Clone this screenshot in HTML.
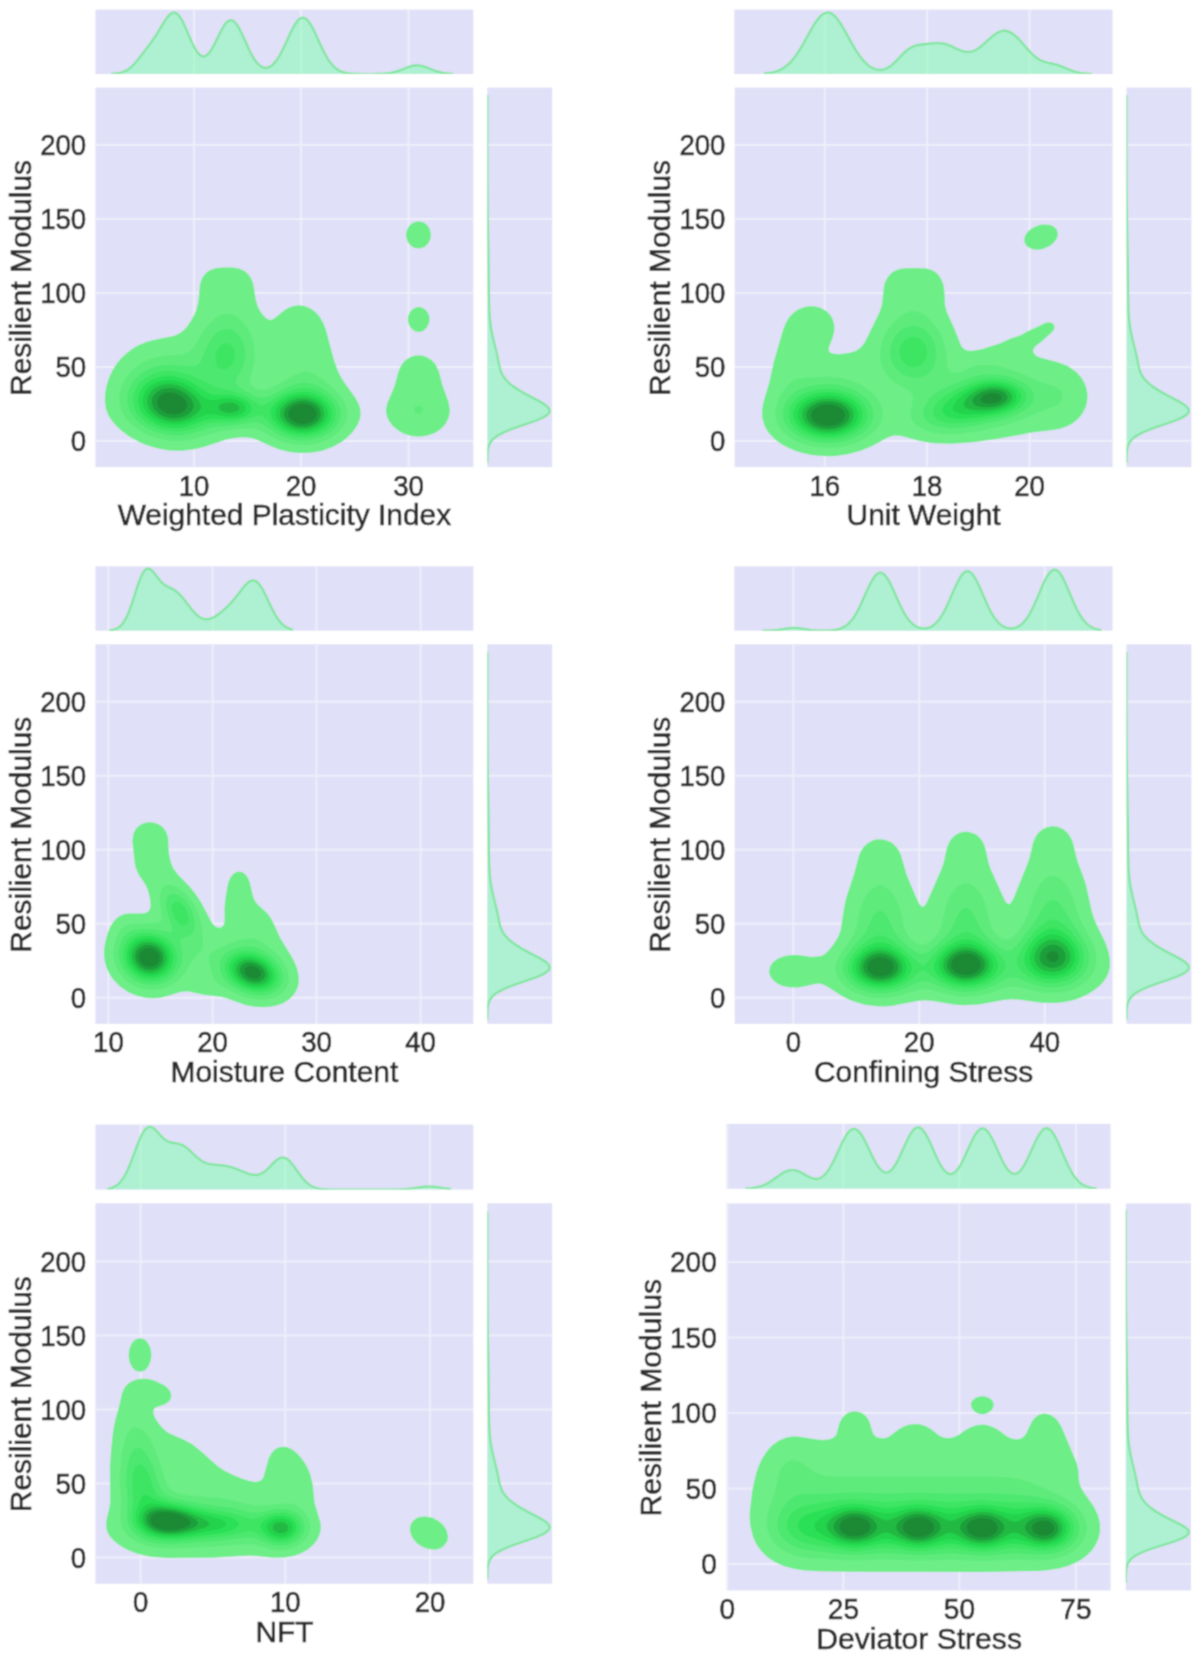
<!DOCTYPE html>
<html><head><meta charset="utf-8"><title>Resilient Modulus joint KDE plots</title>
<style>html,body{margin:0;padding:0;background:#fff;}body{width:1200px;height:1665px;overflow:hidden;font-family:"Liberation Sans",sans-serif;}svg{display:block;}</style>
</head><body><svg width="1200" height="1665" viewBox="0 0 1200 1665" font-family="Liberation Sans, sans-serif"><filter id="bl" filterUnits="userSpaceOnUse" x="0" y="0" width="1200" height="1665"><feConvolveMatrix order="5" kernelMatrix="0.0001 0.0020 0.0055 0.0020 0.0001 0.0020 0.0422 0.1171 0.0422 0.0020 0.0055 0.1171 0.3248 0.1171 0.0055 0.0020 0.0422 0.1171 0.0422 0.0020 0.0001 0.0020 0.0055 0.0020 0.0001" edgeMode="duplicate"/></filter><g filter="url(#bl)"><rect width="1200" height="1665" fill="#fff"/><clipPath id="c1m"><rect x="95.5" y="87.6" width="377.8" height="379.6"/></clipPath><clipPath id="c1t"><rect x="95.5" y="9.6" width="377.8" height="64.4"/></clipPath><clipPath id="c1r"><rect x="487.3" y="87.6" width="64.9" height="379.6"/></clipPath><rect x="95.5" y="87.6" width="377.8" height="379.6" fill="#e0e0f8"/><rect x="95.5" y="9.6" width="377.8" height="64.4" fill="#e0e0f8"/><rect x="487.3" y="87.6" width="64.9" height="379.6" fill="#e0e0f8"/><path d="M194.1 87.6V467.2M194.1 9.6V74M301.1 87.6V467.2M301.1 9.6V74M408.5 87.6V467.2M408.5 9.6V74M95.5 441H473.3M487.3 441H552.2M95.5 367H473.3M487.3 367H552.2M95.5 293H473.3M487.3 293H552.2M95.5 219H473.3M487.3 219H552.2M95.5 145H473.3M487.3 145H552.2" stroke="#eeeefb" stroke-width="2" fill="none"/><g clip-path="url(#c1m)"><path d="M416.5,221.6 421.5,221.8 424.5,223.1 426.5,224.6 429.5,228.6 430.9,233.6 430.5,238.6 428.2,243.6 424.5,246.9 419.5,248.6 414.5,247.9 410.5,245.4 407.6,241.6 406.1,236.6 406.4,231.6 408.7,226.6 412.5,223.1 416.5,221.6ZM222.5,267.6 232.5,267.6 238.9,268.6 244.5,271.0 248.5,274.5 251.2,278.6 253.1,283.6 255.9,300.6 257.7,306.6 259.8,310.6 262.5,314.6 265.5,317.7 267.5,319.1 270.5,319.9 272.5,319.4 275.5,317.6 283.5,310.9 287.5,308.3 292.5,306.2 298.5,305.2 304.5,305.9 310.5,308.4 315.5,312.1 320.1,317.6 323.0,322.6 325.8,329.6 333.5,358.6 338.0,371.6 343.0,380.6 355.8,398.6 358.9,404.6 360.3,409.6 360.6,413.6 360.2,417.6 359.0,421.6 357.1,425.6 353.8,430.6 350.3,434.6 346.1,438.6 341.5,442.1 332.5,447.1 321.5,450.9 310.5,452.8 299.5,453.1 289.5,452.0 278.5,449.2 270.5,446.1 257.5,440.1 252.5,438.3 247.5,437.4 241.5,437.3 234.5,438.0 226.3,439.6 204.5,446.8 194.5,449.3 181.5,450.8 169.5,450.4 160.5,449.1 152.5,447.1 143.5,443.9 135.5,440.1 128.5,436.0 121.2,430.6 115.9,425.6 110.9,419.6 108.0,414.6 105.9,408.6 104.9,401.6 105.1,394.6 106.4,386.6 108.8,378.6 112.4,370.6 116.8,363.6 121.5,358.0 126.5,353.2 132.5,348.7 138.5,345.3 145.5,342.3 151.5,340.4 174.5,335.7 179.3,333.6 183.3,330.6 186.5,327.2 190.5,321.5 193.9,315.6 196.5,309.6 198.4,301.6 200.0,284.6 201.2,280.6 203.1,276.6 206.5,272.6 210.5,270.0 215.5,268.3 222.5,267.6ZM416.5,307.3 419.5,307.1 421.5,307.5 425.3,309.6 428.3,313.6 429.5,317.6 429.2,322.6 426.9,327.6 423.5,330.7 419.5,332.0 415.5,331.4 411.5,328.7 408.8,324.6 407.9,320.6 408.1,316.6 409.6,312.6 412.5,309.2 416.5,307.3ZM415.5,355.6 421.5,355.5 426.5,356.9 431.5,360.0 435.6,364.6 438.9,371.6 442.5,385.6 448.4,401.6 449.7,408.6 449.6,413.6 448.3,418.6 445.7,423.6 442.5,427.4 438.5,430.7 433.5,433.5 427.5,435.5 421.5,436.4 415.5,436.4 409.5,435.5 403.5,433.4 398.3,430.6 393.5,426.7 390.0,422.6 387.3,417.6 386.1,412.6 386.1,408.6 387.2,403.6 394.4,386.6 398.2,372.6 400.5,366.8 403.3,362.6 406.5,359.5 410.5,357.1 415.5,355.6Z" fill="#6dee87"/><path d="M221.5,314.6 225.5,313.7 229.5,313.8 233.5,315.0 237.5,317.2 241.5,320.5 245.1,324.6 248.5,329.6 251.0,334.6 253.9,343.6 255.0,353.6 254.1,363.6 250.0,379.6 250.2,382.6 252.0,385.6 254.5,387.7 258.5,389.5 261.5,390.0 265.5,389.7 273.5,386.7 292.5,376.0 300.5,372.4 304.5,371.6 307.5,371.6 310.5,372.2 314.5,373.9 323.5,379.9 334.5,389.5 341.6,397.6 345.6,404.6 347.4,411.6 346.9,418.6 344.0,425.6 339.3,431.6 332.5,437.0 324.5,441.1 315.5,443.8 306.5,445.0 295.5,444.7 284.5,442.4 274.5,438.3 259.5,430.0 255.5,428.7 251.5,428.2 243.5,428.6 221.5,431.1 214.5,432.6 192.5,439.4 182.5,440.8 173.5,441.0 160.5,439.1 148.5,435.2 138.0,429.6 129.5,422.7 125.2,417.6 121.8,411.6 119.9,405.6 119.3,399.6 119.9,392.6 121.9,385.6 125.4,378.6 129.5,373.0 134.5,367.9 139.5,364.2 144.5,361.2 150.5,358.7 161.5,356.0 181.5,354.5 185.5,353.5 188.5,352.1 191.5,349.6 194.0,346.6 203.9,330.6 209.5,323.3 215.5,317.8 221.5,314.6ZM418.5,405.5 421.6,406.6 422.5,407.6 423.2,409.6 422.3,412.6 420.5,413.8 418.5,414.2 416.5,413.8 414.8,412.6 414.2,411.6 413.9,409.6 414.5,407.8 415.5,406.6 418.5,405.5Z" fill="#5eeb7c"/><path d="M222.5,329.5 226.5,328.8 229.5,329.1 232.5,330.1 235.5,331.9 238.4,334.6 240.7,337.6 242.8,341.6 244.2,345.6 245.4,353.6 244.5,362.2 242.3,368.6 237.3,377.6 236.1,380.6 236.3,383.6 238.7,386.6 244.8,390.6 254.5,395.7 258.5,397.2 262.5,397.8 268.5,396.4 286.5,387.2 296.5,383.6 301.5,382.8 306.5,382.7 311.5,383.4 316.5,385.1 323.5,388.7 330.5,394.0 335.6,399.6 339.2,405.6 340.8,411.6 340.7,416.6 338.7,422.6 335.4,427.6 329.5,432.9 321.5,437.2 311.5,440.0 301.5,440.7 291.5,439.5 282.5,436.7 274.6,432.6 262.5,424.3 259.5,423.0 256.5,422.4 251.5,422.6 235.5,425.2 214.5,426.9 208.5,428.4 190.5,434.0 183.5,435.2 176.5,435.6 166.5,434.8 155.5,432.1 146.5,428.0 138.5,422.4 133.8,417.6 130.4,412.6 128.3,407.6 127.1,401.6 127.4,395.6 128.9,389.6 131.8,383.6 135.5,378.6 140.5,373.9 145.5,370.5 151.5,367.7 157.5,365.9 163.5,364.9 169.5,364.7 191.5,366.3 194.5,365.9 197.5,364.7 199.5,362.9 201.0,360.6 207.3,345.6 211.5,338.3 216.5,332.8 219.5,330.8 222.5,329.5Z" fill="#4ee870"/><path d="M224.5,343.3 228.5,343.4 230.5,344.4 232.5,346.4 234.6,350.6 235.1,356.6 233.5,362.3 230.5,366.3 226.5,368.8 222.5,369.3 219.5,368.3 217.0,365.6 215.6,361.6 215.4,357.6 216.3,352.6 218.5,347.9 221.5,344.7 224.5,343.3ZM161.5,371.5 167.5,371.0 174.5,371.4 182.5,372.9 190.5,375.3 200.5,379.4 214.5,387.1 232.5,391.1 241.5,394.2 248.5,397.7 258.5,404.3 261.5,405.4 263.5,405.3 266.5,404.0 281.5,394.5 291.5,390.0 297.5,388.5 302.5,387.9 307.5,388.1 312.5,389.0 318.5,391.3 323.5,394.2 327.8,397.6 331.5,401.6 334.0,405.6 335.5,409.6 335.9,414.6 335.3,418.6 333.5,422.6 331.4,425.6 328.5,428.6 324.5,431.5 320.5,433.7 315.5,435.5 305.5,437.2 299.5,437.2 294.5,436.6 288.5,435.1 283.5,433.1 278.8,430.6 274.6,427.6 263.5,417.1 261.5,415.9 259.5,415.4 256.5,415.8 245.5,419.7 237.5,421.6 229.5,422.4 215.5,422.6 209.5,423.3 192.5,429.0 183.5,431.0 172.5,431.4 161.5,429.6 155.5,427.6 149.5,424.7 144.5,421.3 140.5,417.7 137.2,413.6 135.0,409.6 133.6,405.6 133.0,400.6 133.4,395.6 134.9,390.6 137.6,385.6 140.9,381.6 145.5,377.7 150.5,374.8 155.5,372.8 161.5,371.5Z" fill="#3ce563"/><path d="M161.5,376.5 166.5,375.9 172.5,376.1 178.5,377.2 184.5,379.0 192.5,382.7 205.5,391.6 210.5,393.9 215.5,394.7 230.5,395.0 239.5,397.2 245.5,400.3 249.3,403.6 251.5,407.6 251.2,410.6 250.0,412.6 246.5,415.3 242.5,417.2 238.5,418.4 229.5,419.4 214.5,418.7 209.5,419.0 204.5,420.2 190.5,425.6 182.5,427.5 176.5,427.9 170.5,427.7 164.5,426.7 158.5,424.9 150.2,420.6 146.3,417.6 143.4,414.6 141.2,411.6 139.3,407.6 138.3,403.6 138.0,399.6 138.6,395.6 140.1,391.6 142.5,387.6 145.1,384.6 148.5,381.7 152.5,379.4 156.5,377.7 161.5,376.5ZM296.5,392.4 305.5,391.8 313.5,393.3 317.5,394.9 321.5,397.2 327.5,402.7 330.9,408.6 331.8,412.6 331.7,415.6 331.0,418.6 329.5,421.9 327.5,424.6 324.4,427.6 318.5,431.1 312.5,433.2 305.5,434.3 297.5,434.1 290.5,432.6 284.5,430.1 279.0,426.6 274.0,421.6 271.5,417.6 270.2,413.6 270.8,409.6 272.5,406.6 277.5,401.6 283.2,397.6 289.5,394.5 296.5,392.4Z" fill="#2ae055"/><path d="M163.5,380.5 168.5,380.2 173.5,380.5 178.5,381.6 183.5,383.3 191.4,387.6 203.5,397.3 208.5,399.8 213.5,400.2 227.5,398.4 232.5,398.8 236.5,399.7 240.5,401.5 243.5,403.8 245.3,406.6 245.4,409.6 244.2,411.6 241.8,413.6 238.5,415.1 234.5,416.1 226.5,416.4 213.5,414.2 209.5,413.9 204.5,415.1 190.5,421.8 182.5,424.0 177.5,424.6 171.5,424.5 166.5,423.8 161.5,422.4 153.6,418.6 147.7,413.6 144.0,407.6 143.0,404.6 142.6,400.6 143.2,396.6 144.3,393.6 146.0,390.6 148.5,387.6 151.5,385.1 155.5,382.8 163.5,380.5ZM297.5,395.4 305.5,395.0 312.5,396.4 319.5,399.8 324.5,404.4 327.4,409.6 328.0,412.6 327.9,415.6 326.2,420.6 321.9,425.6 317.2,428.6 311.5,430.7 305.5,431.7 299.5,431.7 293.5,430.6 287.5,428.4 282.9,425.6 278.8,421.6 276.4,417.6 275.5,413.6 276.2,409.6 277.9,406.6 281.8,402.6 286.5,399.4 291.5,397.1 297.5,395.4Z" fill="#22d34b"/><path d="M163.5,384.6 169.5,384.1 176.5,385.1 182.5,387.2 188.5,390.7 195.2,396.6 199.8,402.6 201.1,406.6 200.7,408.6 199.5,410.6 195.4,414.6 190.5,417.7 184.5,420.1 178.5,421.3 172.5,421.4 166.5,420.6 160.5,418.6 155.3,415.6 151.0,411.6 148.5,407.6 147.2,402.6 147.6,397.6 150.0,392.6 153.5,389.0 158.5,386.1 163.5,384.6ZM296.5,398.6 303.5,397.8 309.5,398.6 315.5,400.9 320.3,404.6 323.2,408.6 324.4,413.6 323.4,418.6 320.6,422.6 316.8,425.6 312.5,427.6 307.5,428.9 302.5,429.3 297.5,428.8 292.5,427.5 288.3,425.6 284.2,422.6 281.7,419.6 280.0,415.6 280.0,411.6 281.2,408.6 283.5,405.6 287.1,402.6 291.5,400.2 296.5,398.6ZM226.5,402.5 232.5,402.6 236.5,404.0 239.1,406.6 239.4,408.6 239.0,409.6 237.5,411.1 235.5,412.1 230.5,413.1 225.5,412.6 220.6,410.6 218.7,408.6 218.6,406.6 219.3,405.6 222.4,403.6 226.5,402.5Z" fill="#20b942"/><path d="M164.5,388.5 170.5,388.1 176.5,389.1 182.5,391.6 186.9,394.6 190.7,398.6 193.3,403.6 193.4,407.6 191.2,411.6 188.5,414.0 184.5,416.2 180.5,417.5 175.5,418.2 170.5,418.0 165.5,416.9 161.5,415.2 157.5,412.6 154.6,409.6 152.4,405.6 151.8,401.6 152.2,398.6 153.5,395.6 156.5,392.2 160.5,389.8 164.5,388.5ZM296.5,401.5 302.5,400.6 307.5,401.1 312.5,402.8 316.7,405.6 319.2,408.6 320.7,412.6 320.4,416.6 318.1,420.6 315.5,422.9 311.5,425.1 307.5,426.3 303.5,426.7 298.5,426.4 294.5,425.4 290.6,423.6 287.8,421.6 285.9,419.6 284.3,416.6 283.9,413.6 284.5,410.6 286.3,407.6 288.5,405.4 292.5,403.0 296.5,401.5Z" fill="#1f9e3a"/><path d="M167.5,392.4 172.5,392.5 176.5,393.5 180.8,395.6 184.3,398.6 186.4,401.6 187.2,404.6 186.8,407.6 184.8,410.6 182.5,412.2 179.5,413.6 176.5,414.2 172.5,414.4 168.5,413.8 165.5,412.8 160.4,409.6 158.5,407.2 157.3,404.6 157.0,401.6 157.5,399.4 159.1,396.6 161.4,394.6 164.5,393.1 167.5,392.4ZM297.5,404.3 302.5,403.6 306.5,404.0 310.5,405.3 313.8,407.6 316.1,410.6 316.8,413.6 316.3,416.6 314.5,419.4 312.5,421.1 309.8,422.6 303.5,423.9 299.5,423.7 296.5,423.0 291.5,420.3 288.6,416.6 288.1,414.6 288.4,411.6 289.5,409.6 291.5,407.4 294.3,405.6 297.5,404.3Z" fill="#1e8a34"/></g><g clip-path="url(#c1t)"><path d="M111.0,74.0 L111.0,73.8 112.0,73.8 113.0,73.7 114.0,73.7 115.0,73.6 116.0,73.5 117.0,73.4 118.0,73.2 119.0,73.0 120.0,72.8 121.0,72.6 122.0,72.3 123.0,71.9 124.0,71.5 125.0,71.1 126.0,70.6 127.0,70.0 128.0,69.4 129.0,68.7 130.0,67.9 131.0,67.1 132.0,66.2 133.0,65.2 134.0,64.2 135.0,63.1 136.0,61.9 137.0,60.8 138.0,59.6 139.0,58.3 140.0,57.0 141.0,55.7 142.0,54.4 143.0,53.1 144.0,51.8 145.0,50.4 146.0,49.1 147.0,47.8 148.0,46.4 149.0,45.1 150.0,43.8 151.0,42.4 152.0,41.0 153.0,39.6 154.0,38.1 155.0,36.7 156.0,35.1 157.0,33.6 158.0,32.0 159.0,30.4 160.0,28.7 161.0,27.1 162.0,25.4 163.0,23.8 164.0,22.2 165.0,20.6 166.0,19.1 167.0,17.7 168.0,16.5 169.0,15.3 170.0,14.4 171.0,13.6 172.0,13.0 173.0,12.7 174.0,12.6 175.0,12.7 176.0,13.1 177.0,13.7 178.0,14.6 179.0,15.7 180.0,17.0 181.0,18.5 182.0,20.2 183.0,22.1 184.0,24.2 185.0,26.4 186.0,28.6 187.0,30.9 188.0,33.3 189.0,35.7 190.0,38.0 191.0,40.3 192.0,42.5 193.0,44.6 194.0,46.6 195.0,48.5 196.0,50.2 197.0,51.7 198.0,53.0 199.0,54.1 200.0,55.0 201.0,55.7 202.0,56.1 203.0,56.3 204.0,56.3 205.0,56.1 206.0,55.6 207.0,54.9 208.0,54.0 209.0,53.0 210.0,51.7 211.0,50.2 212.0,48.6 213.0,46.9 214.0,45.1 215.0,43.1 216.0,41.1 217.0,39.0 218.0,37.0 219.0,34.9 220.0,32.9 221.0,30.9 222.0,29.1 223.0,27.3 224.0,25.7 225.0,24.3 226.0,23.0 227.0,22.0 228.0,21.2 229.0,20.6 230.0,20.3 231.0,20.2 232.0,20.4 233.0,20.8 234.0,21.5 235.0,22.4 236.0,23.5 237.0,24.8 238.0,26.4 239.0,28.1 240.0,29.9 241.0,31.9 242.0,34.0 243.0,36.1 244.0,38.3 245.0,40.5 246.0,42.8 247.0,45.0 248.0,47.2 249.0,49.3 250.0,51.4 251.0,53.3 252.0,55.2 253.0,56.9 254.0,58.6 255.0,60.1 256.0,61.5 257.0,62.7 258.0,63.8 259.0,64.8 260.0,65.6 261.0,66.3 262.0,66.9 263.0,67.3 264.0,67.6 265.0,67.8 266.0,67.8 267.0,67.7 268.0,67.5 269.0,67.1 270.0,66.6 271.0,66.0 272.0,65.3 273.0,64.4 274.0,63.4 275.0,62.2 276.0,61.0 277.0,59.6 278.0,58.1 279.0,56.5 280.0,54.8 281.0,53.0 282.0,51.0 283.0,49.0 284.0,47.0 285.0,44.9 286.0,42.7 287.0,40.5 288.0,38.3 289.0,36.1 290.0,33.9 291.0,31.8 292.0,29.8 293.0,27.9 294.0,26.1 295.0,24.4 296.0,22.8 297.0,21.5 298.0,20.3 299.0,19.3 300.0,18.6 301.0,18.1 302.0,17.8 303.0,17.7 304.0,17.9 305.0,18.3 306.0,18.9 307.0,19.7 308.0,20.8 309.0,22.1 310.0,23.5 311.0,25.1 312.0,26.8 313.0,28.7 314.0,30.7 315.0,32.8 316.0,34.9 317.0,37.1 318.0,39.3 319.0,41.5 320.0,43.7 321.0,45.9 322.0,48.0 323.0,50.0 324.0,52.0 325.0,53.9 326.0,55.7 327.0,57.5 328.0,59.1 329.0,60.6 330.0,62.0 331.0,63.3 332.0,64.5 333.0,65.6 334.0,66.7 335.0,67.6 336.0,68.4 337.0,69.1 338.0,69.8 339.0,70.4 340.0,70.9 341.0,71.3 342.0,71.7 343.0,72.1 344.0,72.4 345.0,72.6 346.0,72.9 347.0,73.1 348.0,73.2 349.0,73.4 350.0,73.5 351.0,73.6 352.0,73.6 353.0,73.7 354.0,73.8 355.0,73.8 356.0,73.8 357.0,73.9 358.0,73.9 359.0,73.9 360.0,73.9 361.0,74.0 362.0,74.0 363.0,74.0 364.0,74.0 365.0,74.0 366.0,74.0 367.0,74.0 368.0,74.0 369.0,74.0 370.0,74.0 371.0,74.0 372.0,74.0 373.0,74.0 374.0,74.0 375.0,73.9 376.0,73.9 377.0,73.9 378.0,73.9 379.0,73.9 380.0,73.8 381.0,73.8 382.0,73.8 383.0,73.7 384.0,73.6 385.0,73.6 386.0,73.5 387.0,73.4 388.0,73.2 389.0,73.1 390.0,73.0 391.0,72.8 392.0,72.6 393.0,72.4 394.0,72.1 395.0,71.9 396.0,71.6 397.0,71.3 398.0,70.9 399.0,70.6 400.0,70.2 401.0,69.9 402.0,69.5 403.0,69.1 404.0,68.7 405.0,68.3 406.0,67.9 407.0,67.5 408.0,67.1 409.0,66.8 410.0,66.5 411.0,66.2 412.0,65.9 413.0,65.7 414.0,65.6 415.0,65.4 416.0,65.4 417.0,65.4 418.0,65.4 419.0,65.5 420.0,65.6 421.0,65.8 422.0,66.0 423.0,66.3 424.0,66.6 425.0,66.9 426.0,67.2 427.0,67.6 428.0,68.0 429.0,68.4 430.0,68.8 431.0,69.2 432.0,69.6 433.0,70.0 434.0,70.3 435.0,70.7 436.0,71.0 437.0,71.4 438.0,71.7 439.0,71.9 440.0,72.2 441.0,72.4 442.0,72.6 443.0,72.8 444.0,73.0 445.0,73.2 446.0,73.3 447.0,73.4 448.0,73.5 449.0,73.6 450.0,73.7 451.0,73.7 452.0,73.8 453.0,73.8 L453.0,74.0Z" fill="#7cffac" fill-opacity="0.5"/><path d="M111.0,73.8 112.0,73.8 113.0,73.7 114.0,73.7 115.0,73.6 116.0,73.5 117.0,73.4 118.0,73.2 119.0,73.0 120.0,72.8 121.0,72.6 122.0,72.3 123.0,71.9 124.0,71.5 125.0,71.1 126.0,70.6 127.0,70.0 128.0,69.4 129.0,68.7 130.0,67.9 131.0,67.1 132.0,66.2 133.0,65.2 134.0,64.2 135.0,63.1 136.0,61.9 137.0,60.8 138.0,59.6 139.0,58.3 140.0,57.0 141.0,55.7 142.0,54.4 143.0,53.1 144.0,51.8 145.0,50.4 146.0,49.1 147.0,47.8 148.0,46.4 149.0,45.1 150.0,43.8 151.0,42.4 152.0,41.0 153.0,39.6 154.0,38.1 155.0,36.7 156.0,35.1 157.0,33.6 158.0,32.0 159.0,30.4 160.0,28.7 161.0,27.1 162.0,25.4 163.0,23.8 164.0,22.2 165.0,20.6 166.0,19.1 167.0,17.7 168.0,16.5 169.0,15.3 170.0,14.4 171.0,13.6 172.0,13.0 173.0,12.7 174.0,12.6 175.0,12.7 176.0,13.1 177.0,13.7 178.0,14.6 179.0,15.7 180.0,17.0 181.0,18.5 182.0,20.2 183.0,22.1 184.0,24.2 185.0,26.4 186.0,28.6 187.0,30.9 188.0,33.3 189.0,35.7 190.0,38.0 191.0,40.3 192.0,42.5 193.0,44.6 194.0,46.6 195.0,48.5 196.0,50.2 197.0,51.7 198.0,53.0 199.0,54.1 200.0,55.0 201.0,55.7 202.0,56.1 203.0,56.3 204.0,56.3 205.0,56.1 206.0,55.6 207.0,54.9 208.0,54.0 209.0,53.0 210.0,51.7 211.0,50.2 212.0,48.6 213.0,46.9 214.0,45.1 215.0,43.1 216.0,41.1 217.0,39.0 218.0,37.0 219.0,34.9 220.0,32.9 221.0,30.9 222.0,29.1 223.0,27.3 224.0,25.7 225.0,24.3 226.0,23.0 227.0,22.0 228.0,21.2 229.0,20.6 230.0,20.3 231.0,20.2 232.0,20.4 233.0,20.8 234.0,21.5 235.0,22.4 236.0,23.5 237.0,24.8 238.0,26.4 239.0,28.1 240.0,29.9 241.0,31.9 242.0,34.0 243.0,36.1 244.0,38.3 245.0,40.5 246.0,42.8 247.0,45.0 248.0,47.2 249.0,49.3 250.0,51.4 251.0,53.3 252.0,55.2 253.0,56.9 254.0,58.6 255.0,60.1 256.0,61.5 257.0,62.7 258.0,63.8 259.0,64.8 260.0,65.6 261.0,66.3 262.0,66.9 263.0,67.3 264.0,67.6 265.0,67.8 266.0,67.8 267.0,67.7 268.0,67.5 269.0,67.1 270.0,66.6 271.0,66.0 272.0,65.3 273.0,64.4 274.0,63.4 275.0,62.2 276.0,61.0 277.0,59.6 278.0,58.1 279.0,56.5 280.0,54.8 281.0,53.0 282.0,51.0 283.0,49.0 284.0,47.0 285.0,44.9 286.0,42.7 287.0,40.5 288.0,38.3 289.0,36.1 290.0,33.9 291.0,31.8 292.0,29.8 293.0,27.9 294.0,26.1 295.0,24.4 296.0,22.8 297.0,21.5 298.0,20.3 299.0,19.3 300.0,18.6 301.0,18.1 302.0,17.8 303.0,17.7 304.0,17.9 305.0,18.3 306.0,18.9 307.0,19.7 308.0,20.8 309.0,22.1 310.0,23.5 311.0,25.1 312.0,26.8 313.0,28.7 314.0,30.7 315.0,32.8 316.0,34.9 317.0,37.1 318.0,39.3 319.0,41.5 320.0,43.7 321.0,45.9 322.0,48.0 323.0,50.0 324.0,52.0 325.0,53.9 326.0,55.7 327.0,57.5 328.0,59.1 329.0,60.6 330.0,62.0 331.0,63.3 332.0,64.5 333.0,65.6 334.0,66.7 335.0,67.6 336.0,68.4 337.0,69.1 338.0,69.8 339.0,70.4 340.0,70.9 341.0,71.3 342.0,71.7 343.0,72.1 344.0,72.4 345.0,72.6 346.0,72.9 347.0,73.1 348.0,73.2 349.0,73.4 350.0,73.5 351.0,73.6 352.0,73.6 353.0,73.7 354.0,73.8 355.0,73.8 356.0,73.8 357.0,73.9 358.0,73.9 359.0,73.9 360.0,73.9 361.0,74.0 362.0,74.0 363.0,74.0 364.0,74.0 365.0,74.0 366.0,74.0 367.0,74.0 368.0,74.0 369.0,74.0 370.0,74.0 371.0,74.0 372.0,74.0 373.0,74.0 374.0,74.0 375.0,73.9 376.0,73.9 377.0,73.9 378.0,73.9 379.0,73.9 380.0,73.8 381.0,73.8 382.0,73.8 383.0,73.7 384.0,73.6 385.0,73.6 386.0,73.5 387.0,73.4 388.0,73.2 389.0,73.1 390.0,73.0 391.0,72.8 392.0,72.6 393.0,72.4 394.0,72.1 395.0,71.9 396.0,71.6 397.0,71.3 398.0,70.9 399.0,70.6 400.0,70.2 401.0,69.9 402.0,69.5 403.0,69.1 404.0,68.7 405.0,68.3 406.0,67.9 407.0,67.5 408.0,67.1 409.0,66.8 410.0,66.5 411.0,66.2 412.0,65.9 413.0,65.7 414.0,65.6 415.0,65.4 416.0,65.4 417.0,65.4 418.0,65.4 419.0,65.5 420.0,65.6 421.0,65.8 422.0,66.0 423.0,66.3 424.0,66.6 425.0,66.9 426.0,67.2 427.0,67.6 428.0,68.0 429.0,68.4 430.0,68.8 431.0,69.2 432.0,69.6 433.0,70.0 434.0,70.3 435.0,70.7 436.0,71.0 437.0,71.4 438.0,71.7 439.0,71.9 440.0,72.2 441.0,72.4 442.0,72.6 443.0,72.8 444.0,73.0 445.0,73.2 446.0,73.3 447.0,73.4 448.0,73.5 449.0,73.6 450.0,73.7 451.0,73.7 452.0,73.8 453.0,73.8" fill="none" stroke="#7ee69c" stroke-width="2.2" stroke-linejoin="round"/></g><g clip-path="url(#c1r)"><path d="M487.3,95.0 L487.3,95.0 487.3,96.0 487.3,97.0 487.3,98.0 487.3,99.0 487.3,100.0 487.3,101.0 487.3,102.0 487.3,103.0 487.3,104.0 487.3,105.0 487.3,106.0 487.3,107.0 487.3,108.0 487.3,109.0 487.3,110.0 487.3,111.0 487.3,112.0 487.3,113.0 487.3,114.0 487.3,115.0 487.3,116.0 487.3,117.0 487.3,118.0 487.3,119.0 487.3,120.0 487.3,121.0 487.3,122.0 487.3,123.0 487.3,124.0 487.3,125.0 487.3,126.0 487.3,127.0 487.3,128.0 487.3,129.0 487.3,130.0 487.3,131.0 487.3,132.0 487.3,133.0 487.3,134.0 487.3,135.0 487.3,136.0 487.3,137.0 487.3,138.0 487.3,139.0 487.3,140.0 487.3,141.0 487.3,142.0 487.3,143.0 487.3,144.0 487.3,145.0 487.3,146.0 487.3,147.0 487.3,148.0 487.3,149.0 487.3,150.0 487.3,151.0 487.3,152.0 487.3,153.0 487.3,154.0 487.3,155.0 487.3,156.0 487.3,157.0 487.4,158.0 487.4,159.0 487.4,160.0 487.4,161.0 487.4,162.0 487.4,163.0 487.4,164.0 487.4,165.0 487.4,166.0 487.4,167.0 487.4,168.0 487.4,169.0 487.4,170.0 487.4,171.0 487.4,172.0 487.4,173.0 487.4,174.0 487.4,175.0 487.4,176.0 487.4,177.0 487.4,178.0 487.4,179.0 487.4,180.0 487.4,181.0 487.4,182.0 487.5,183.0 487.5,184.0 487.5,185.0 487.5,186.0 487.5,187.0 487.5,188.0 487.5,189.0 487.5,190.0 487.5,191.0 487.5,192.0 487.5,193.0 487.5,194.0 487.5,195.0 487.6,196.0 487.6,197.0 487.6,198.0 487.6,199.0 487.6,200.0 487.6,201.0 487.6,202.0 487.6,203.0 487.6,204.0 487.6,205.0 487.7,206.0 487.7,207.0 487.7,208.0 487.7,209.0 487.7,210.0 487.7,211.0 487.7,212.0 487.7,213.0 487.8,214.0 487.8,215.0 487.8,216.0 487.8,217.0 487.8,218.0 487.8,219.0 487.8,220.0 487.9,221.0 487.9,222.0 487.9,223.0 487.9,224.0 487.9,225.0 487.9,226.0 488.0,227.0 488.0,228.0 488.0,229.0 488.0,230.0 488.0,231.0 488.0,232.0 488.1,233.0 488.1,234.0 488.1,235.0 488.1,236.0 488.1,237.0 488.1,238.0 488.2,239.0 488.2,240.0 488.2,241.0 488.2,242.0 488.2,243.0 488.2,244.0 488.3,245.0 488.3,246.0 488.3,247.0 488.3,248.0 488.3,249.0 488.3,250.0 488.4,251.0 488.4,252.0 488.4,253.0 488.4,254.0 488.4,255.0 488.4,256.0 488.5,257.0 488.5,258.0 488.5,259.0 488.5,260.0 488.5,261.0 488.5,262.0 488.6,263.0 488.6,264.0 488.6,265.0 488.6,266.0 488.6,267.0 488.6,268.0 488.6,269.0 488.7,270.0 488.7,271.0 488.7,272.0 488.7,273.0 488.7,274.0 488.7,275.0 488.7,276.0 488.7,277.0 488.8,278.0 488.8,279.0 488.8,280.0 488.8,281.0 488.8,282.0 488.8,283.0 488.8,284.0 488.8,285.0 488.8,286.0 488.8,287.0 488.8,288.0 488.9,289.0 488.9,290.0 488.9,291.0 488.9,292.0 488.9,293.0 488.9,294.0 488.9,295.0 488.9,296.0 488.9,297.0 489.0,298.0 489.0,299.0 489.0,300.0 489.0,301.0 489.0,302.0 489.1,303.0 489.1,304.0 489.1,305.0 489.1,306.0 489.2,307.0 489.2,308.0 489.2,309.0 489.3,310.0 489.3,311.0 489.4,312.0 489.4,313.0 489.5,314.0 489.6,315.0 489.6,316.0 489.7,317.0 489.8,318.0 489.9,319.0 490.0,320.0 490.1,321.0 490.2,322.0 490.3,323.0 490.5,324.0 490.6,325.0 490.7,326.0 490.9,327.0 491.0,328.0 491.2,329.0 491.4,330.0 491.6,331.0 491.8,332.0 492.0,333.0 492.2,334.0 492.4,335.0 492.6,336.0 492.8,337.0 493.1,338.0 493.3,339.0 493.5,340.0 493.8,341.0 494.0,342.0 494.3,343.0 494.5,344.0 494.8,345.0 495.0,346.0 495.3,347.0 495.5,348.0 495.8,349.0 496.0,350.0 496.3,351.0 496.5,352.0 496.7,353.0 497.0,354.0 497.2,355.0 497.4,356.0 497.6,357.0 497.8,358.0 498.0,359.0 498.2,360.0 498.4,361.0 498.6,362.0 498.8,363.0 499.0,364.0 499.2,365.0 499.4,366.0 499.7,367.0 499.9,368.0 500.2,369.0 500.5,370.0 500.8,371.0 501.2,372.0 501.6,373.0 502.1,374.0 502.6,375.0 503.2,376.0 503.8,377.0 504.5,378.0 505.3,379.0 506.2,380.0 507.1,381.0 508.1,382.0 509.1,383.0 510.3,384.0 511.5,385.0 512.8,386.0 514.2,387.0 515.6,388.0 517.2,389.0 518.8,390.0 520.4,391.0 522.1,392.0 523.9,393.0 525.7,394.0 527.6,395.0 529.4,396.0 531.3,397.0 533.3,398.0 535.2,399.0 537.0,400.0 538.9,401.0 540.7,402.0 542.3,403.0 543.9,404.0 545.4,405.0 546.6,406.0 547.7,407.0 548.6,408.0 549.2,409.0 549.6,410.0 549.7,411.0 549.5,412.0 549.0,413.0 548.2,414.0 547.0,415.0 545.6,416.0 543.9,417.0 542.0,418.0 539.8,419.0 537.4,420.0 534.8,421.0 532.0,422.0 529.2,423.0 526.3,424.0 523.3,425.0 520.4,426.0 517.5,427.0 514.7,428.0 511.9,429.0 509.3,430.0 506.9,431.0 504.6,432.0 502.4,433.0 500.5,434.0 498.7,435.0 497.1,436.0 495.6,437.0 494.4,438.0 493.2,439.0 492.3,440.0 491.4,441.0 490.7,442.0 490.1,443.0 489.6,444.0 489.1,445.0 488.8,446.0 488.5,447.0 488.2,448.0 488.0,449.0 487.9,450.0 487.7,451.0 487.6,452.0 487.6,453.0 487.5,454.0 487.5,455.0 487.4,456.0 487.4,457.0 487.4,458.0 487.4,459.0 487.3,460.0 487.3,461.0 487.3,462.0 487.3,463.0 L487.3,463.0Z" fill="#7cffac" fill-opacity="0.5"/><path d="M487.3,95.0 487.3,96.0 487.3,97.0 487.3,98.0 487.3,99.0 487.3,100.0 487.3,101.0 487.3,102.0 487.3,103.0 487.3,104.0 487.3,105.0 487.3,106.0 487.3,107.0 487.3,108.0 487.3,109.0 487.3,110.0 487.3,111.0 487.3,112.0 487.3,113.0 487.3,114.0 487.3,115.0 487.3,116.0 487.3,117.0 487.3,118.0 487.3,119.0 487.3,120.0 487.3,121.0 487.3,122.0 487.3,123.0 487.3,124.0 487.3,125.0 487.3,126.0 487.3,127.0 487.3,128.0 487.3,129.0 487.3,130.0 487.3,131.0 487.3,132.0 487.3,133.0 487.3,134.0 487.3,135.0 487.3,136.0 487.3,137.0 487.3,138.0 487.3,139.0 487.3,140.0 487.3,141.0 487.3,142.0 487.3,143.0 487.3,144.0 487.3,145.0 487.3,146.0 487.3,147.0 487.3,148.0 487.3,149.0 487.3,150.0 487.3,151.0 487.3,152.0 487.3,153.0 487.3,154.0 487.3,155.0 487.3,156.0 487.3,157.0 487.4,158.0 487.4,159.0 487.4,160.0 487.4,161.0 487.4,162.0 487.4,163.0 487.4,164.0 487.4,165.0 487.4,166.0 487.4,167.0 487.4,168.0 487.4,169.0 487.4,170.0 487.4,171.0 487.4,172.0 487.4,173.0 487.4,174.0 487.4,175.0 487.4,176.0 487.4,177.0 487.4,178.0 487.4,179.0 487.4,180.0 487.4,181.0 487.4,182.0 487.5,183.0 487.5,184.0 487.5,185.0 487.5,186.0 487.5,187.0 487.5,188.0 487.5,189.0 487.5,190.0 487.5,191.0 487.5,192.0 487.5,193.0 487.5,194.0 487.5,195.0 487.6,196.0 487.6,197.0 487.6,198.0 487.6,199.0 487.6,200.0 487.6,201.0 487.6,202.0 487.6,203.0 487.6,204.0 487.6,205.0 487.7,206.0 487.7,207.0 487.7,208.0 487.7,209.0 487.7,210.0 487.7,211.0 487.7,212.0 487.7,213.0 487.8,214.0 487.8,215.0 487.8,216.0 487.8,217.0 487.8,218.0 487.8,219.0 487.8,220.0 487.9,221.0 487.9,222.0 487.9,223.0 487.9,224.0 487.9,225.0 487.9,226.0 488.0,227.0 488.0,228.0 488.0,229.0 488.0,230.0 488.0,231.0 488.0,232.0 488.1,233.0 488.1,234.0 488.1,235.0 488.1,236.0 488.1,237.0 488.1,238.0 488.2,239.0 488.2,240.0 488.2,241.0 488.2,242.0 488.2,243.0 488.2,244.0 488.3,245.0 488.3,246.0 488.3,247.0 488.3,248.0 488.3,249.0 488.3,250.0 488.4,251.0 488.4,252.0 488.4,253.0 488.4,254.0 488.4,255.0 488.4,256.0 488.5,257.0 488.5,258.0 488.5,259.0 488.5,260.0 488.5,261.0 488.5,262.0 488.6,263.0 488.6,264.0 488.6,265.0 488.6,266.0 488.6,267.0 488.6,268.0 488.6,269.0 488.7,270.0 488.7,271.0 488.7,272.0 488.7,273.0 488.7,274.0 488.7,275.0 488.7,276.0 488.7,277.0 488.8,278.0 488.8,279.0 488.8,280.0 488.8,281.0 488.8,282.0 488.8,283.0 488.8,284.0 488.8,285.0 488.8,286.0 488.8,287.0 488.8,288.0 488.9,289.0 488.9,290.0 488.9,291.0 488.9,292.0 488.9,293.0 488.9,294.0 488.9,295.0 488.9,296.0 488.9,297.0 489.0,298.0 489.0,299.0 489.0,300.0 489.0,301.0 489.0,302.0 489.1,303.0 489.1,304.0 489.1,305.0 489.1,306.0 489.2,307.0 489.2,308.0 489.2,309.0 489.3,310.0 489.3,311.0 489.4,312.0 489.4,313.0 489.5,314.0 489.6,315.0 489.6,316.0 489.7,317.0 489.8,318.0 489.9,319.0 490.0,320.0 490.1,321.0 490.2,322.0 490.3,323.0 490.5,324.0 490.6,325.0 490.7,326.0 490.9,327.0 491.0,328.0 491.2,329.0 491.4,330.0 491.6,331.0 491.8,332.0 492.0,333.0 492.2,334.0 492.4,335.0 492.6,336.0 492.8,337.0 493.1,338.0 493.3,339.0 493.5,340.0 493.8,341.0 494.0,342.0 494.3,343.0 494.5,344.0 494.8,345.0 495.0,346.0 495.3,347.0 495.5,348.0 495.8,349.0 496.0,350.0 496.3,351.0 496.5,352.0 496.7,353.0 497.0,354.0 497.2,355.0 497.4,356.0 497.6,357.0 497.8,358.0 498.0,359.0 498.2,360.0 498.4,361.0 498.6,362.0 498.8,363.0 499.0,364.0 499.2,365.0 499.4,366.0 499.7,367.0 499.9,368.0 500.2,369.0 500.5,370.0 500.8,371.0 501.2,372.0 501.6,373.0 502.1,374.0 502.6,375.0 503.2,376.0 503.8,377.0 504.5,378.0 505.3,379.0 506.2,380.0 507.1,381.0 508.1,382.0 509.1,383.0 510.3,384.0 511.5,385.0 512.8,386.0 514.2,387.0 515.6,388.0 517.2,389.0 518.8,390.0 520.4,391.0 522.1,392.0 523.9,393.0 525.7,394.0 527.6,395.0 529.4,396.0 531.3,397.0 533.3,398.0 535.2,399.0 537.0,400.0 538.9,401.0 540.7,402.0 542.3,403.0 543.9,404.0 545.4,405.0 546.6,406.0 547.7,407.0 548.6,408.0 549.2,409.0 549.6,410.0 549.7,411.0 549.5,412.0 549.0,413.0 548.2,414.0 547.0,415.0 545.6,416.0 543.9,417.0 542.0,418.0 539.8,419.0 537.4,420.0 534.8,421.0 532.0,422.0 529.2,423.0 526.3,424.0 523.3,425.0 520.4,426.0 517.5,427.0 514.7,428.0 511.9,429.0 509.3,430.0 506.9,431.0 504.6,432.0 502.4,433.0 500.5,434.0 498.7,435.0 497.1,436.0 495.6,437.0 494.4,438.0 493.2,439.0 492.3,440.0 491.4,441.0 490.7,442.0 490.1,443.0 489.6,444.0 489.1,445.0 488.8,446.0 488.5,447.0 488.2,448.0 488.0,449.0 487.9,450.0 487.7,451.0 487.6,452.0 487.6,453.0 487.5,454.0 487.5,455.0 487.4,456.0 487.4,457.0 487.4,458.0 487.4,459.0 487.3,460.0 487.3,461.0 487.3,462.0 487.3,463.0" fill="none" stroke="#7ee69c" stroke-width="2.2" stroke-linejoin="round"/></g><g fill="#282828" stroke="#282828" stroke-width="0.6"><text transform="translate(86.2 451.1) scale(1 1.05)" text-anchor="end" font-size="27.6">0</text><text transform="translate(86.2 377.1) scale(1 1.05)" text-anchor="end" font-size="27.6">50</text><text transform="translate(86.2 303.1) scale(1 1.05)" text-anchor="end" font-size="27.6">100</text><text transform="translate(86.2 229.1) scale(1 1.05)" text-anchor="end" font-size="27.6">150</text><text transform="translate(86.2 155.1) scale(1 1.05)" text-anchor="end" font-size="27.6">200</text><text transform="translate(194.1 495.5) scale(1 1.05)" text-anchor="middle" font-size="27.6">10</text><text transform="translate(301.1 495.5) scale(1 1.05)" text-anchor="middle" font-size="27.6">20</text><text transform="translate(408.5 495.5) scale(1 1.05)" text-anchor="middle" font-size="27.6">30</text><text x="284.4" y="525" text-anchor="middle" font-size="29.9">Weighted Plasticity Index</text><text transform="translate(30.5 278) rotate(-90)" text-anchor="middle" font-size="29.9">Resilient Modulus</text></g><clipPath id="c2m"><rect x="734.7" y="87.6" width="377.8" height="379.6"/></clipPath><clipPath id="c2t"><rect x="734.2" y="9.6" width="378.3" height="64.4"/></clipPath><clipPath id="c2r"><rect x="1126.5" y="87.6" width="64.9" height="379.6"/></clipPath><rect x="734.7" y="87.6" width="377.8" height="379.6" fill="#e0e0f8"/><rect x="734.2" y="9.6" width="378.3" height="64.4" fill="#e0e0f8"/><rect x="1126.5" y="87.6" width="64.9" height="379.6" fill="#e0e0f8"/><path d="M824.8 87.6V467.2M824.8 9.6V74M927.1 87.6V467.2M927.1 9.6V74M1029.5 87.6V467.2M1029.5 9.6V74M734.7 441H1112.5M1126.5 441H1191.4M734.7 367H1112.5M1126.5 367H1191.4M734.7 293H1112.5M1126.5 293H1191.4M734.7 219H1112.5M1126.5 219H1191.4M734.7 145H1112.5M1126.5 145H1191.4" stroke="#eeeefb" stroke-width="2" fill="none"/><g clip-path="url(#c2m)"><path d="M1041.7,224.6 1048.7,224.7 1051.8,225.6 1054.9,227.6 1056.6,229.6 1057.7,232.6 1057.7,235.6 1056.7,238.6 1054.7,241.6 1051.7,244.6 1048.6,246.6 1044.7,248.3 1040.7,249.4 1036.7,249.7 1032.7,249.2 1029.7,248.1 1026.3,245.6 1024.6,242.6 1024.2,239.6 1025.2,235.6 1028.0,231.6 1031.7,228.4 1036.7,225.9 1041.7,224.6ZM901.7,268.5 915.7,267.9 926.7,268.6 930.7,269.7 933.7,271.1 936.7,273.3 938.9,275.6 941.7,279.9 943.6,285.6 944.4,291.6 944.9,304.6 946.6,311.6 954.3,328.6 960.7,344.8 962.7,347.9 965.7,350.0 968.7,350.7 972.7,350.8 981.7,349.2 999.7,343.4 1010.7,338.5 1020.7,335.3 1029.7,330.3 1037.7,326.8 1045.7,322.7 1049.7,322.2 1052.9,323.6 1053.8,324.6 1054.5,326.6 1054.3,328.6 1053.3,330.6 1051.6,332.6 1041.7,341.4 1035.1,346.6 1033.2,349.6 1033.4,352.6 1035.7,355.5 1039.7,357.5 1058.7,362.4 1067.7,366.0 1075.7,371.5 1081.3,377.6 1084.2,382.6 1086.2,387.6 1087.2,392.6 1087.5,397.6 1086.9,402.6 1085.5,407.6 1083.0,412.6 1080.2,416.6 1076.2,420.6 1071.7,423.9 1065.7,426.8 1059.7,428.7 1052.7,430.0 1031.8,432.6 996.7,439.1 972.7,442.3 951.7,443.7 933.7,443.2 919.7,441.1 900.7,435.8 896.7,435.4 893.7,435.6 887.7,437.6 871.7,446.2 860.7,450.8 848.7,454.1 835.7,455.9 827.7,456.2 819.7,455.8 811.7,454.9 802.7,453.0 795.7,450.9 788.7,448.0 781.7,444.3 775.7,440.0 769.3,433.6 766.5,429.6 764.5,425.6 762.2,417.6 762.1,409.6 763.6,401.6 769.3,382.6 773.9,361.6 782.6,331.6 785.5,323.6 789.0,317.6 791.7,314.4 795.7,311.0 799.7,308.7 804.7,306.9 808.7,306.2 813.7,306.3 818.7,307.2 822.7,308.9 826.9,311.6 830.6,315.6 832.8,319.6 834.2,324.6 834.4,328.6 834.0,332.6 832.7,337.6 828.9,347.6 828.6,349.6 829.2,351.6 830.2,352.6 832.4,353.6 838.7,354.2 848.7,353.1 855.7,351.0 860.7,347.6 864.7,342.4 879.7,312.0 882.2,303.6 883.9,286.6 885.0,282.6 886.9,278.6 889.7,274.7 892.7,272.1 896.7,269.9 901.7,268.5Z" fill="#6dee87"/><path d="M909.7,311.6 912.7,311.2 916.7,311.7 920.7,313.0 923.7,314.6 930.7,320.4 937.5,328.6 941.5,335.6 944.1,342.6 946.0,351.6 947.4,366.6 948.7,370.1 950.7,372.0 953.7,372.8 958.7,372.4 963.7,370.7 972.7,366.5 977.7,365.3 990.7,365.0 998.7,366.1 1018.7,372.2 1040.7,382.0 1052.7,385.9 1056.7,387.6 1060.4,390.6 1062.0,393.6 1062.4,397.6 1061.4,400.6 1059.0,403.6 1054.7,406.3 1040.7,411.4 1018.7,420.8 1001.7,426.0 979.7,430.9 961.7,433.5 952.7,434.0 944.7,434.0 937.7,433.3 930.7,432.0 924.7,430.1 919.7,427.6 916.7,425.5 913.8,422.6 911.9,419.6 910.8,416.6 910.7,410.6 913.1,398.6 912.5,394.6 909.7,391.4 895.7,383.2 891.7,380.2 888.1,376.6 885.2,372.6 882.5,367.6 880.8,362.6 880.0,357.6 880.2,350.6 881.6,343.6 884.1,336.6 887.8,329.6 892.7,323.2 898.7,317.4 904.7,313.3 909.7,311.6ZM807.7,377.6 828.7,376.8 841.7,378.0 847.7,379.4 854.7,381.9 860.7,384.7 866.7,388.4 872.0,392.6 876.6,397.6 879.7,402.6 881.8,407.6 882.7,412.6 882.4,417.6 881.2,421.6 878.4,426.6 875.1,430.6 871.7,433.8 866.7,437.5 861.7,440.3 855.7,443.0 849.7,445.0 837.7,447.3 823.7,447.8 810.7,446.0 798.7,442.3 793.7,439.9 788.7,436.8 781.7,430.5 778.9,426.6 776.9,422.6 775.7,418.6 775.2,413.6 775.5,409.6 776.6,404.6 779.0,398.6 782.7,392.0 786.7,386.4 790.7,382.3 793.7,380.2 797.7,378.7 807.7,377.6Z" fill="#5eeb7c"/><path d="M908.7,326.4 912.7,325.8 916.7,326.2 920.7,327.5 924.7,329.8 927.9,332.6 931.2,336.6 933.4,340.6 935.3,345.6 936.2,350.6 936.3,355.6 935.7,360.6 934.1,365.6 931.7,370.0 928.7,373.4 925.7,375.5 921.7,377.1 916.7,377.9 911.7,377.5 906.7,376.2 902.7,374.3 898.7,371.5 895.0,367.6 892.5,363.6 890.7,358.6 890.0,353.6 890.2,348.6 891.4,343.6 893.6,338.6 896.7,334.2 900.3,330.6 904.7,327.8 908.7,326.4ZM983.7,374.5 996.7,374.4 1008.7,376.3 1018.7,379.9 1023.5,382.6 1027.6,385.6 1030.6,388.6 1032.7,391.6 1034.0,394.6 1034.3,397.6 1033.6,400.6 1032.0,403.6 1029.5,406.6 1026.0,409.6 1016.7,415.0 1004.7,419.3 980.7,424.9 962.7,427.8 950.7,428.3 939.7,427.1 934.7,425.7 930.7,423.9 927.7,422.0 925.3,419.6 923.7,416.6 923.0,413.6 923.2,410.6 924.0,407.6 927.9,400.6 931.3,396.6 934.7,393.6 941.7,389.1 953.7,383.9 973.7,376.4 983.7,374.5ZM818.7,384.6 831.7,384.1 837.7,384.8 843.7,386.0 849.7,387.9 854.7,390.1 859.7,393.0 864.4,396.6 868.2,400.6 870.9,404.6 872.7,408.6 873.6,412.6 873.6,416.6 872.7,420.6 870.8,424.6 867.8,428.6 864.7,431.6 860.7,434.6 851.7,439.1 841.7,442.0 830.7,443.3 819.7,442.8 808.7,440.5 799.7,437.0 791.5,431.6 788.5,428.6 785.6,424.6 784.1,421.6 783.0,417.6 782.7,413.6 783.1,409.6 784.3,405.6 786.2,401.6 788.7,398.0 791.7,394.7 794.7,392.2 798.7,389.7 807.7,386.5 818.7,384.6Z" fill="#4ee870"/><path d="M908.7,337.5 911.7,336.7 914.7,336.8 919.7,338.6 923.7,342.3 926.4,347.6 927.1,353.6 925.7,359.2 922.6,363.6 920.7,365.1 917.7,366.5 914.7,367.1 911.7,367.0 906.7,365.2 902.5,361.6 899.9,356.6 899.3,350.6 900.7,345.2 903.9,340.6 908.7,337.5ZM988.7,378.6 999.7,378.8 1008.7,380.7 1016.7,384.1 1022.6,388.6 1025.9,393.6 1026.4,395.6 1026.4,398.6 1025.4,401.6 1024.2,403.6 1021.6,406.6 1018.7,408.9 1010.7,413.2 999.7,416.7 978.7,421.0 963.7,423.1 953.7,423.5 945.7,422.6 938.7,420.2 936.3,418.6 934.4,416.6 933.3,414.6 932.8,411.6 934.1,406.6 937.8,401.6 944.7,395.8 955.7,389.4 969.7,382.9 978.7,380.0 988.7,378.6ZM817.7,389.6 828.7,388.7 839.7,389.9 849.7,393.1 854.7,395.8 858.7,398.6 861.9,401.6 864.9,405.6 866.4,408.6 867.4,412.6 867.5,416.6 866.9,419.6 865.1,423.6 863.0,426.6 857.4,431.6 849.7,435.8 841.7,438.3 831.7,439.7 821.7,439.5 812.7,437.9 803.7,434.5 796.7,430.1 791.7,424.6 788.9,418.6 788.5,412.6 789.3,408.6 790.6,405.6 794.7,400.0 800.7,395.3 808.7,391.7 817.7,389.6Z" fill="#3ce563"/><path d="M993.7,381.6 1001.7,382.3 1008.7,384.2 1014.7,387.2 1018.7,390.9 1020.4,393.6 1021.0,395.6 1020.7,399.6 1018.6,403.6 1013.7,407.8 1006.7,411.3 997.7,414.1 985.7,416.3 967.7,418.6 958.7,418.9 951.7,418.1 946.7,416.4 943.4,413.6 942.5,411.6 942.3,409.6 942.8,407.6 944.5,404.6 949.4,399.6 957.7,393.6 967.7,387.9 976.7,384.2 984.7,382.3 993.7,381.6ZM823.7,392.6 832.7,392.6 841.7,394.3 849.9,397.6 856.8,402.6 859.4,405.6 861.1,408.6 862.2,411.6 862.6,414.6 862.4,417.6 861.5,420.6 859.9,423.6 857.4,426.6 851.7,431.0 844.7,434.2 836.7,436.2 827.7,436.9 818.7,436.0 810.7,433.9 803.8,430.6 798.7,426.6 795.0,421.6 793.8,418.6 793.3,415.6 793.4,412.6 794.2,409.6 796.9,404.6 801.7,399.9 807.7,396.5 815.7,393.8 823.7,392.6Z" fill="#2ae055"/><path d="M988.7,384.5 995.7,384.3 1002.7,385.4 1008.7,387.5 1013.3,390.6 1016.0,394.6 1016.3,398.6 1014.4,402.6 1011.2,405.6 1005.9,408.6 999.7,410.7 991.7,412.4 981.7,413.6 970.7,414.2 962.7,414.0 956.7,412.6 953.8,410.6 952.9,407.6 954.5,403.6 958.0,399.6 963.9,394.6 970.1,390.6 976.3,387.6 982.7,385.6 988.7,384.5ZM827.7,395.6 835.7,396.2 843.7,398.5 850.7,402.3 855.1,406.6 857.7,411.6 858.2,414.6 857.9,417.6 855.8,422.6 853.7,425.1 850.8,427.6 845.6,430.6 838.7,432.9 831.7,434.0 823.7,433.9 816.7,432.7 809.7,430.2 804.0,426.6 800.3,422.6 798.3,418.6 797.8,413.6 799.4,408.6 802.4,404.6 806.7,401.1 812.7,398.2 819.7,396.3 827.7,395.6Z" fill="#22d34b"/><path d="M986.7,387.4 992.7,386.8 998.7,387.3 1003.7,388.5 1007.8,390.6 1010.9,393.6 1012.1,396.6 1012.0,398.6 1011.2,400.6 1008.6,403.6 1004.7,406.0 999.7,408.0 993.7,409.4 986.7,410.3 978.7,410.4 971.7,409.8 967.2,408.6 964.5,406.6 963.8,404.6 964.5,401.6 966.4,398.6 969.4,395.6 977.0,390.6 981.7,388.7 986.7,387.4ZM826.7,398.6 833.7,398.9 840.7,400.7 846.5,403.6 851.0,407.6 853.3,411.6 853.8,416.6 851.9,421.6 848.1,425.6 842.9,428.6 837.7,430.4 831.7,431.4 825.7,431.5 819.7,430.7 813.7,428.8 808.7,426.1 804.9,422.6 802.7,418.6 802.1,414.6 803.0,410.6 805.7,406.6 809.7,403.4 814.7,400.9 820.7,399.2 826.7,398.6Z" fill="#20b942"/><path d="M990.7,389.6 995.7,389.6 999.7,390.3 1003.1,391.6 1005.8,393.6 1007.1,395.6 1007.3,398.6 1006.3,400.6 1004.3,402.6 1000.9,404.6 997.7,405.7 992.7,406.8 987.7,407.2 978.7,406.5 975.7,405.5 973.2,403.6 972.5,401.6 972.8,399.6 974.8,396.6 977.0,394.6 982.7,391.5 990.7,389.6ZM825.7,401.5 831.7,401.6 836.7,402.6 841.8,404.6 846.0,407.6 848.9,411.6 849.7,415.6 848.6,419.6 846.3,422.6 842.7,425.3 838.7,427.2 833.7,428.5 827.7,428.9 822.7,428.5 817.7,427.3 813.7,425.5 809.8,422.6 807.5,419.6 806.5,416.6 806.8,412.6 808.3,409.6 811.2,406.6 815.7,403.9 820.7,402.3 825.7,401.5Z" fill="#1f9e3a"/><path d="M987.7,393.4 992.7,392.7 998.2,393.6 1001.1,395.6 1001.7,396.6 1001.7,398.6 1000.7,400.1 998.8,401.6 994.7,403.1 988.7,403.7 983.7,402.9 981.7,401.7 980.8,400.6 980.7,398.6 983.1,395.6 987.7,393.4ZM825.7,404.6 830.7,404.6 835.6,405.6 839.7,407.4 842.5,409.6 844.0,411.6 845.1,414.6 844.7,417.6 842.9,420.6 840.7,422.6 836.8,424.6 832.7,425.7 828.7,426.1 824.7,425.9 820.7,425.0 817.2,423.6 814.2,421.6 812.4,419.6 811.1,416.6 811.2,413.6 812.7,410.6 814.7,408.6 818.0,406.6 821.7,405.3 825.7,404.6Z" fill="#1e8a34"/></g><g clip-path="url(#c2t)"><path d="M764.0,74.0 L764.0,73.5 765.0,73.4 766.0,73.3 767.0,73.2 768.0,73.1 769.0,73.0 770.0,72.8 771.0,72.7 772.0,72.5 773.0,72.3 774.0,72.0 775.0,71.7 776.0,71.4 777.0,71.1 778.0,70.7 779.0,70.3 780.0,69.9 781.0,69.4 782.0,68.9 783.0,68.3 784.0,67.7 785.0,67.0 786.0,66.2 787.0,65.4 788.0,64.6 789.0,63.6 790.0,62.6 791.0,61.6 792.0,60.5 793.0,59.3 794.0,58.1 795.0,56.7 796.0,55.4 797.0,53.9 798.0,52.4 799.0,50.9 800.0,49.3 801.0,47.6 802.0,45.9 803.0,44.2 804.0,42.4 805.0,40.6 806.0,38.8 807.0,37.0 808.0,35.2 809.0,33.4 810.0,31.6 811.0,29.8 812.0,28.1 813.0,26.4 814.0,24.7 815.0,23.2 816.0,21.7 817.0,20.3 818.0,19.0 819.0,17.7 820.0,16.6 821.0,15.7 822.0,14.8 823.0,14.1 824.0,13.5 825.0,13.0 826.0,12.7 827.0,12.5 828.0,12.5 829.0,12.6 830.0,12.9 831.0,13.3 832.0,13.9 833.0,14.6 834.0,15.4 835.0,16.3 836.0,17.4 837.0,18.6 838.0,19.9 839.0,21.3 840.0,22.7 841.0,24.3 842.0,25.9 843.0,27.6 844.0,29.3 845.0,31.0 846.0,32.8 847.0,34.6 848.0,36.5 849.0,38.3 850.0,40.1 851.0,41.9 852.0,43.7 853.0,45.4 854.0,47.1 855.0,48.8 856.0,50.4 857.0,52.0 858.0,53.5 859.0,54.9 860.0,56.3 861.0,57.6 862.0,58.9 863.0,60.1 864.0,61.2 865.0,62.3 866.0,63.2 867.0,64.1 868.0,65.0 869.0,65.8 870.0,66.5 871.0,67.1 872.0,67.7 873.0,68.2 874.0,68.6 875.0,69.0 876.0,69.3 877.0,69.5 878.0,69.7 879.0,69.8 880.0,69.8 881.0,69.8 882.0,69.7 883.0,69.5 884.0,69.3 885.0,69.0 886.0,68.6 887.0,68.1 888.0,67.6 889.0,67.0 890.0,66.3 891.0,65.6 892.0,64.8 893.0,63.9 894.0,63.0 895.0,62.1 896.0,61.1 897.0,60.1 898.0,59.0 899.0,58.0 900.0,56.9 901.0,55.9 902.0,54.8 903.0,53.8 904.0,52.9 905.0,51.9 906.0,51.1 907.0,50.2 908.0,49.4 909.0,48.7 910.0,48.1 911.0,47.5 912.0,47.0 913.0,46.5 914.0,46.1 915.0,45.8 916.0,45.5 917.0,45.2 918.0,45.0 919.0,44.8 920.0,44.7 921.0,44.6 922.0,44.4 923.0,44.3 924.0,44.2 925.0,44.1 926.0,44.0 927.0,43.9 928.0,43.8 929.0,43.7 930.0,43.6 931.0,43.5 932.0,43.4 933.0,43.3 934.0,43.2 935.0,43.1 936.0,43.1 937.0,43.0 938.0,43.0 939.0,43.1 940.0,43.1 941.0,43.2 942.0,43.3 943.0,43.5 944.0,43.7 945.0,43.9 946.0,44.2 947.0,44.5 948.0,44.8 949.0,45.2 950.0,45.6 951.0,46.0 952.0,46.5 953.0,46.9 954.0,47.4 955.0,47.9 956.0,48.4 957.0,48.9 958.0,49.3 959.0,49.7 960.0,50.2 961.0,50.5 962.0,50.9 963.0,51.2 964.0,51.5 965.0,51.7 966.0,51.8 967.0,51.9 968.0,51.9 969.0,51.9 970.0,51.8 971.0,51.6 972.0,51.4 973.0,51.1 974.0,50.7 975.0,50.2 976.0,49.7 977.0,49.2 978.0,48.5 979.0,47.9 980.0,47.1 981.0,46.3 982.0,45.5 983.0,44.7 984.0,43.8 985.0,42.9 986.0,42.0 987.0,41.1 988.0,40.1 989.0,39.2 990.0,38.3 991.0,37.4 992.0,36.6 993.0,35.7 994.0,35.0 995.0,34.2 996.0,33.6 997.0,32.9 998.0,32.4 999.0,31.9 1000.0,31.5 1001.0,31.2 1002.0,31.0 1003.0,30.8 1004.0,30.7 1005.0,30.7 1006.0,30.9 1007.0,31.1 1008.0,31.3 1009.0,31.7 1010.0,32.2 1011.0,32.7 1012.0,33.3 1013.0,34.0 1014.0,34.8 1015.0,35.6 1016.0,36.5 1017.0,37.4 1018.0,38.4 1019.0,39.4 1020.0,40.5 1021.0,41.6 1022.0,42.7 1023.0,43.9 1024.0,45.0 1025.0,46.2 1026.0,47.3 1027.0,48.5 1028.0,49.6 1029.0,50.7 1030.0,51.8 1031.0,52.8 1032.0,53.8 1033.0,54.7 1034.0,55.6 1035.0,56.5 1036.0,57.3 1037.0,58.0 1038.0,58.7 1039.0,59.3 1040.0,59.9 1041.0,60.4 1042.0,60.8 1043.0,61.3 1044.0,61.6 1045.0,61.9 1046.0,62.2 1047.0,62.5 1048.0,62.7 1049.0,63.0 1050.0,63.2 1051.0,63.4 1052.0,63.6 1053.0,63.8 1054.0,64.0 1055.0,64.3 1056.0,64.5 1057.0,64.8 1058.0,65.1 1059.0,65.5 1060.0,65.8 1061.0,66.2 1062.0,66.6 1063.0,67.0 1064.0,67.4 1065.0,67.8 1066.0,68.2 1067.0,68.7 1068.0,69.1 1069.0,69.5 1070.0,69.9 1071.0,70.3 1072.0,70.7 1073.0,71.0 1074.0,71.4 1075.0,71.7 1076.0,72.0 1077.0,72.2 1078.0,72.5 1079.0,72.7 1080.0,72.9 1081.0,73.0 1082.0,73.2 1083.0,73.3 1084.0,73.4 1085.0,73.5 1086.0,73.6 1087.0,73.7 1088.0,73.7 1089.0,73.8 1090.0,73.8 1091.0,73.9 1092.0,73.9 L1092.0,74.0Z" fill="#7cffac" fill-opacity="0.5"/><path d="M764.0,73.5 765.0,73.4 766.0,73.3 767.0,73.2 768.0,73.1 769.0,73.0 770.0,72.8 771.0,72.7 772.0,72.5 773.0,72.3 774.0,72.0 775.0,71.7 776.0,71.4 777.0,71.1 778.0,70.7 779.0,70.3 780.0,69.9 781.0,69.4 782.0,68.9 783.0,68.3 784.0,67.7 785.0,67.0 786.0,66.2 787.0,65.4 788.0,64.6 789.0,63.6 790.0,62.6 791.0,61.6 792.0,60.5 793.0,59.3 794.0,58.1 795.0,56.7 796.0,55.4 797.0,53.9 798.0,52.4 799.0,50.9 800.0,49.3 801.0,47.6 802.0,45.9 803.0,44.2 804.0,42.4 805.0,40.6 806.0,38.8 807.0,37.0 808.0,35.2 809.0,33.4 810.0,31.6 811.0,29.8 812.0,28.1 813.0,26.4 814.0,24.7 815.0,23.2 816.0,21.7 817.0,20.3 818.0,19.0 819.0,17.7 820.0,16.6 821.0,15.7 822.0,14.8 823.0,14.1 824.0,13.5 825.0,13.0 826.0,12.7 827.0,12.5 828.0,12.5 829.0,12.6 830.0,12.9 831.0,13.3 832.0,13.9 833.0,14.6 834.0,15.4 835.0,16.3 836.0,17.4 837.0,18.6 838.0,19.9 839.0,21.3 840.0,22.7 841.0,24.3 842.0,25.9 843.0,27.6 844.0,29.3 845.0,31.0 846.0,32.8 847.0,34.6 848.0,36.5 849.0,38.3 850.0,40.1 851.0,41.9 852.0,43.7 853.0,45.4 854.0,47.1 855.0,48.8 856.0,50.4 857.0,52.0 858.0,53.5 859.0,54.9 860.0,56.3 861.0,57.6 862.0,58.9 863.0,60.1 864.0,61.2 865.0,62.3 866.0,63.2 867.0,64.1 868.0,65.0 869.0,65.8 870.0,66.5 871.0,67.1 872.0,67.7 873.0,68.2 874.0,68.6 875.0,69.0 876.0,69.3 877.0,69.5 878.0,69.7 879.0,69.8 880.0,69.8 881.0,69.8 882.0,69.7 883.0,69.5 884.0,69.3 885.0,69.0 886.0,68.6 887.0,68.1 888.0,67.6 889.0,67.0 890.0,66.3 891.0,65.6 892.0,64.8 893.0,63.9 894.0,63.0 895.0,62.1 896.0,61.1 897.0,60.1 898.0,59.0 899.0,58.0 900.0,56.9 901.0,55.9 902.0,54.8 903.0,53.8 904.0,52.9 905.0,51.9 906.0,51.1 907.0,50.2 908.0,49.4 909.0,48.7 910.0,48.1 911.0,47.5 912.0,47.0 913.0,46.5 914.0,46.1 915.0,45.8 916.0,45.5 917.0,45.2 918.0,45.0 919.0,44.8 920.0,44.7 921.0,44.6 922.0,44.4 923.0,44.3 924.0,44.2 925.0,44.1 926.0,44.0 927.0,43.9 928.0,43.8 929.0,43.7 930.0,43.6 931.0,43.5 932.0,43.4 933.0,43.3 934.0,43.2 935.0,43.1 936.0,43.1 937.0,43.0 938.0,43.0 939.0,43.1 940.0,43.1 941.0,43.2 942.0,43.3 943.0,43.5 944.0,43.7 945.0,43.9 946.0,44.2 947.0,44.5 948.0,44.8 949.0,45.2 950.0,45.6 951.0,46.0 952.0,46.5 953.0,46.9 954.0,47.4 955.0,47.9 956.0,48.4 957.0,48.9 958.0,49.3 959.0,49.7 960.0,50.2 961.0,50.5 962.0,50.9 963.0,51.2 964.0,51.5 965.0,51.7 966.0,51.8 967.0,51.9 968.0,51.9 969.0,51.9 970.0,51.8 971.0,51.6 972.0,51.4 973.0,51.1 974.0,50.7 975.0,50.2 976.0,49.7 977.0,49.2 978.0,48.5 979.0,47.9 980.0,47.1 981.0,46.3 982.0,45.5 983.0,44.7 984.0,43.8 985.0,42.9 986.0,42.0 987.0,41.1 988.0,40.1 989.0,39.2 990.0,38.3 991.0,37.4 992.0,36.6 993.0,35.7 994.0,35.0 995.0,34.2 996.0,33.6 997.0,32.9 998.0,32.4 999.0,31.9 1000.0,31.5 1001.0,31.2 1002.0,31.0 1003.0,30.8 1004.0,30.7 1005.0,30.7 1006.0,30.9 1007.0,31.1 1008.0,31.3 1009.0,31.7 1010.0,32.2 1011.0,32.7 1012.0,33.3 1013.0,34.0 1014.0,34.8 1015.0,35.6 1016.0,36.5 1017.0,37.4 1018.0,38.4 1019.0,39.4 1020.0,40.5 1021.0,41.6 1022.0,42.7 1023.0,43.9 1024.0,45.0 1025.0,46.2 1026.0,47.3 1027.0,48.5 1028.0,49.6 1029.0,50.7 1030.0,51.8 1031.0,52.8 1032.0,53.8 1033.0,54.7 1034.0,55.6 1035.0,56.5 1036.0,57.3 1037.0,58.0 1038.0,58.7 1039.0,59.3 1040.0,59.9 1041.0,60.4 1042.0,60.8 1043.0,61.3 1044.0,61.6 1045.0,61.9 1046.0,62.2 1047.0,62.5 1048.0,62.7 1049.0,63.0 1050.0,63.2 1051.0,63.4 1052.0,63.6 1053.0,63.8 1054.0,64.0 1055.0,64.3 1056.0,64.5 1057.0,64.8 1058.0,65.1 1059.0,65.5 1060.0,65.8 1061.0,66.2 1062.0,66.6 1063.0,67.0 1064.0,67.4 1065.0,67.8 1066.0,68.2 1067.0,68.7 1068.0,69.1 1069.0,69.5 1070.0,69.9 1071.0,70.3 1072.0,70.7 1073.0,71.0 1074.0,71.4 1075.0,71.7 1076.0,72.0 1077.0,72.2 1078.0,72.5 1079.0,72.7 1080.0,72.9 1081.0,73.0 1082.0,73.2 1083.0,73.3 1084.0,73.4 1085.0,73.5 1086.0,73.6 1087.0,73.7 1088.0,73.7 1089.0,73.8 1090.0,73.8 1091.0,73.9 1092.0,73.9" fill="none" stroke="#7ee69c" stroke-width="2.2" stroke-linejoin="round"/></g><g clip-path="url(#c2r)"><path d="M1126.5,95.0 L1126.5,95.0 1126.5,96.0 1126.5,97.0 1126.5,98.0 1126.5,99.0 1126.5,100.0 1126.5,101.0 1126.5,102.0 1126.5,103.0 1126.5,104.0 1126.5,105.0 1126.5,106.0 1126.5,107.0 1126.5,108.0 1126.5,109.0 1126.5,110.0 1126.5,111.0 1126.5,112.0 1126.5,113.0 1126.5,114.0 1126.5,115.0 1126.5,116.0 1126.5,117.0 1126.5,118.0 1126.5,119.0 1126.5,120.0 1126.5,121.0 1126.5,122.0 1126.5,123.0 1126.5,124.0 1126.5,125.0 1126.5,126.0 1126.5,127.0 1126.5,128.0 1126.5,129.0 1126.5,130.0 1126.5,131.0 1126.5,132.0 1126.5,133.0 1126.5,134.0 1126.5,135.0 1126.5,136.0 1126.5,137.0 1126.5,138.0 1126.5,139.0 1126.5,140.0 1126.5,141.0 1126.5,142.0 1126.5,143.0 1126.5,144.0 1126.5,145.0 1126.5,146.0 1126.5,147.0 1126.5,148.0 1126.5,149.0 1126.5,150.0 1126.5,151.0 1126.5,152.0 1126.5,153.0 1126.5,154.0 1126.5,155.0 1126.5,156.0 1126.5,157.0 1126.6,158.0 1126.6,159.0 1126.6,160.0 1126.6,161.0 1126.6,162.0 1126.6,163.0 1126.6,164.0 1126.6,165.0 1126.6,166.0 1126.6,167.0 1126.6,168.0 1126.6,169.0 1126.6,170.0 1126.6,171.0 1126.6,172.0 1126.6,173.0 1126.6,174.0 1126.6,175.0 1126.6,176.0 1126.6,177.0 1126.6,178.0 1126.6,179.0 1126.6,180.0 1126.6,181.0 1126.6,182.0 1126.7,183.0 1126.7,184.0 1126.7,185.0 1126.7,186.0 1126.7,187.0 1126.7,188.0 1126.7,189.0 1126.7,190.0 1126.7,191.0 1126.7,192.0 1126.7,193.0 1126.7,194.0 1126.7,195.0 1126.8,196.0 1126.8,197.0 1126.8,198.0 1126.8,199.0 1126.8,200.0 1126.8,201.0 1126.8,202.0 1126.8,203.0 1126.8,204.0 1126.8,205.0 1126.9,206.0 1126.9,207.0 1126.9,208.0 1126.9,209.0 1126.9,210.0 1126.9,211.0 1126.9,212.0 1126.9,213.0 1127.0,214.0 1127.0,215.0 1127.0,216.0 1127.0,217.0 1127.0,218.0 1127.0,219.0 1127.0,220.0 1127.1,221.0 1127.1,222.0 1127.1,223.0 1127.1,224.0 1127.1,225.0 1127.1,226.0 1127.2,227.0 1127.2,228.0 1127.2,229.0 1127.2,230.0 1127.2,231.0 1127.2,232.0 1127.3,233.0 1127.3,234.0 1127.3,235.0 1127.3,236.0 1127.3,237.0 1127.3,238.0 1127.4,239.0 1127.4,240.0 1127.4,241.0 1127.4,242.0 1127.4,243.0 1127.4,244.0 1127.5,245.0 1127.5,246.0 1127.5,247.0 1127.5,248.0 1127.5,249.0 1127.5,250.0 1127.6,251.0 1127.6,252.0 1127.6,253.0 1127.6,254.0 1127.6,255.0 1127.6,256.0 1127.7,257.0 1127.7,258.0 1127.7,259.0 1127.7,260.0 1127.7,261.0 1127.7,262.0 1127.8,263.0 1127.8,264.0 1127.8,265.0 1127.8,266.0 1127.8,267.0 1127.8,268.0 1127.8,269.0 1127.9,270.0 1127.9,271.0 1127.9,272.0 1127.9,273.0 1127.9,274.0 1127.9,275.0 1127.9,276.0 1127.9,277.0 1128.0,278.0 1128.0,279.0 1128.0,280.0 1128.0,281.0 1128.0,282.0 1128.0,283.0 1128.0,284.0 1128.0,285.0 1128.0,286.0 1128.0,287.0 1128.0,288.0 1128.1,289.0 1128.1,290.0 1128.1,291.0 1128.1,292.0 1128.1,293.0 1128.1,294.0 1128.1,295.0 1128.1,296.0 1128.1,297.0 1128.2,298.0 1128.2,299.0 1128.2,300.0 1128.2,301.0 1128.2,302.0 1128.3,303.0 1128.3,304.0 1128.3,305.0 1128.3,306.0 1128.4,307.0 1128.4,308.0 1128.4,309.0 1128.5,310.0 1128.5,311.0 1128.6,312.0 1128.6,313.0 1128.7,314.0 1128.8,315.0 1128.8,316.0 1128.9,317.0 1129.0,318.0 1129.1,319.0 1129.2,320.0 1129.3,321.0 1129.4,322.0 1129.5,323.0 1129.7,324.0 1129.8,325.0 1129.9,326.0 1130.1,327.0 1130.2,328.0 1130.4,329.0 1130.6,330.0 1130.8,331.0 1131.0,332.0 1131.2,333.0 1131.4,334.0 1131.6,335.0 1131.8,336.0 1132.0,337.0 1132.3,338.0 1132.5,339.0 1132.7,340.0 1133.0,341.0 1133.2,342.0 1133.5,343.0 1133.7,344.0 1134.0,345.0 1134.2,346.0 1134.5,347.0 1134.7,348.0 1135.0,349.0 1135.2,350.0 1135.5,351.0 1135.7,352.0 1135.9,353.0 1136.2,354.0 1136.4,355.0 1136.6,356.0 1136.8,357.0 1137.0,358.0 1137.2,359.0 1137.4,360.0 1137.6,361.0 1137.8,362.0 1138.0,363.0 1138.2,364.0 1138.4,365.0 1138.6,366.0 1138.9,367.0 1139.1,368.0 1139.4,369.0 1139.7,370.0 1140.0,371.0 1140.4,372.0 1140.8,373.0 1141.3,374.0 1141.8,375.0 1142.4,376.0 1143.0,377.0 1143.7,378.0 1144.5,379.0 1145.4,380.0 1146.3,381.0 1147.3,382.0 1148.3,383.0 1149.5,384.0 1150.7,385.0 1152.0,386.0 1153.4,387.0 1154.8,388.0 1156.4,389.0 1158.0,390.0 1159.6,391.0 1161.3,392.0 1163.1,393.0 1164.9,394.0 1166.8,395.0 1168.6,396.0 1170.5,397.0 1172.5,398.0 1174.4,399.0 1176.2,400.0 1178.1,401.0 1179.9,402.0 1181.5,403.0 1183.1,404.0 1184.6,405.0 1185.8,406.0 1186.9,407.0 1187.8,408.0 1188.4,409.0 1188.8,410.0 1188.9,411.0 1188.7,412.0 1188.2,413.0 1187.4,414.0 1186.2,415.0 1184.8,416.0 1183.1,417.0 1181.2,418.0 1179.0,419.0 1176.6,420.0 1174.0,421.0 1171.2,422.0 1168.4,423.0 1165.5,424.0 1162.5,425.0 1159.6,426.0 1156.7,427.0 1153.9,428.0 1151.1,429.0 1148.5,430.0 1146.1,431.0 1143.8,432.0 1141.6,433.0 1139.7,434.0 1137.9,435.0 1136.3,436.0 1134.8,437.0 1133.6,438.0 1132.4,439.0 1131.5,440.0 1130.6,441.0 1129.9,442.0 1129.3,443.0 1128.8,444.0 1128.3,445.0 1128.0,446.0 1127.7,447.0 1127.4,448.0 1127.2,449.0 1127.1,450.0 1126.9,451.0 1126.8,452.0 1126.8,453.0 1126.7,454.0 1126.7,455.0 1126.6,456.0 1126.6,457.0 1126.6,458.0 1126.6,459.0 1126.5,460.0 1126.5,461.0 1126.5,462.0 1126.5,463.0 L1126.5,463.0Z" fill="#7cffac" fill-opacity="0.5"/><path d="M1126.5,95.0 1126.5,96.0 1126.5,97.0 1126.5,98.0 1126.5,99.0 1126.5,100.0 1126.5,101.0 1126.5,102.0 1126.5,103.0 1126.5,104.0 1126.5,105.0 1126.5,106.0 1126.5,107.0 1126.5,108.0 1126.5,109.0 1126.5,110.0 1126.5,111.0 1126.5,112.0 1126.5,113.0 1126.5,114.0 1126.5,115.0 1126.5,116.0 1126.5,117.0 1126.5,118.0 1126.5,119.0 1126.5,120.0 1126.5,121.0 1126.5,122.0 1126.5,123.0 1126.5,124.0 1126.5,125.0 1126.5,126.0 1126.5,127.0 1126.5,128.0 1126.5,129.0 1126.5,130.0 1126.5,131.0 1126.5,132.0 1126.5,133.0 1126.5,134.0 1126.5,135.0 1126.5,136.0 1126.5,137.0 1126.5,138.0 1126.5,139.0 1126.5,140.0 1126.5,141.0 1126.5,142.0 1126.5,143.0 1126.5,144.0 1126.5,145.0 1126.5,146.0 1126.5,147.0 1126.5,148.0 1126.5,149.0 1126.5,150.0 1126.5,151.0 1126.5,152.0 1126.5,153.0 1126.5,154.0 1126.5,155.0 1126.5,156.0 1126.5,157.0 1126.6,158.0 1126.6,159.0 1126.6,160.0 1126.6,161.0 1126.6,162.0 1126.6,163.0 1126.6,164.0 1126.6,165.0 1126.6,166.0 1126.6,167.0 1126.6,168.0 1126.6,169.0 1126.6,170.0 1126.6,171.0 1126.6,172.0 1126.6,173.0 1126.6,174.0 1126.6,175.0 1126.6,176.0 1126.6,177.0 1126.6,178.0 1126.6,179.0 1126.6,180.0 1126.6,181.0 1126.6,182.0 1126.7,183.0 1126.7,184.0 1126.7,185.0 1126.7,186.0 1126.7,187.0 1126.7,188.0 1126.7,189.0 1126.7,190.0 1126.7,191.0 1126.7,192.0 1126.7,193.0 1126.7,194.0 1126.7,195.0 1126.8,196.0 1126.8,197.0 1126.8,198.0 1126.8,199.0 1126.8,200.0 1126.8,201.0 1126.8,202.0 1126.8,203.0 1126.8,204.0 1126.8,205.0 1126.9,206.0 1126.9,207.0 1126.9,208.0 1126.9,209.0 1126.9,210.0 1126.9,211.0 1126.9,212.0 1126.9,213.0 1127.0,214.0 1127.0,215.0 1127.0,216.0 1127.0,217.0 1127.0,218.0 1127.0,219.0 1127.0,220.0 1127.1,221.0 1127.1,222.0 1127.1,223.0 1127.1,224.0 1127.1,225.0 1127.1,226.0 1127.2,227.0 1127.2,228.0 1127.2,229.0 1127.2,230.0 1127.2,231.0 1127.2,232.0 1127.3,233.0 1127.3,234.0 1127.3,235.0 1127.3,236.0 1127.3,237.0 1127.3,238.0 1127.4,239.0 1127.4,240.0 1127.4,241.0 1127.4,242.0 1127.4,243.0 1127.4,244.0 1127.5,245.0 1127.5,246.0 1127.5,247.0 1127.5,248.0 1127.5,249.0 1127.5,250.0 1127.6,251.0 1127.6,252.0 1127.6,253.0 1127.6,254.0 1127.6,255.0 1127.6,256.0 1127.7,257.0 1127.7,258.0 1127.7,259.0 1127.7,260.0 1127.7,261.0 1127.7,262.0 1127.8,263.0 1127.8,264.0 1127.8,265.0 1127.8,266.0 1127.8,267.0 1127.8,268.0 1127.8,269.0 1127.9,270.0 1127.9,271.0 1127.9,272.0 1127.9,273.0 1127.9,274.0 1127.9,275.0 1127.9,276.0 1127.9,277.0 1128.0,278.0 1128.0,279.0 1128.0,280.0 1128.0,281.0 1128.0,282.0 1128.0,283.0 1128.0,284.0 1128.0,285.0 1128.0,286.0 1128.0,287.0 1128.0,288.0 1128.1,289.0 1128.1,290.0 1128.1,291.0 1128.1,292.0 1128.1,293.0 1128.1,294.0 1128.1,295.0 1128.1,296.0 1128.1,297.0 1128.2,298.0 1128.2,299.0 1128.2,300.0 1128.2,301.0 1128.2,302.0 1128.3,303.0 1128.3,304.0 1128.3,305.0 1128.3,306.0 1128.4,307.0 1128.4,308.0 1128.4,309.0 1128.5,310.0 1128.5,311.0 1128.6,312.0 1128.6,313.0 1128.7,314.0 1128.8,315.0 1128.8,316.0 1128.9,317.0 1129.0,318.0 1129.1,319.0 1129.2,320.0 1129.3,321.0 1129.4,322.0 1129.5,323.0 1129.7,324.0 1129.8,325.0 1129.9,326.0 1130.1,327.0 1130.2,328.0 1130.4,329.0 1130.6,330.0 1130.8,331.0 1131.0,332.0 1131.2,333.0 1131.4,334.0 1131.6,335.0 1131.8,336.0 1132.0,337.0 1132.3,338.0 1132.5,339.0 1132.7,340.0 1133.0,341.0 1133.2,342.0 1133.5,343.0 1133.7,344.0 1134.0,345.0 1134.2,346.0 1134.5,347.0 1134.7,348.0 1135.0,349.0 1135.2,350.0 1135.5,351.0 1135.7,352.0 1135.9,353.0 1136.2,354.0 1136.4,355.0 1136.6,356.0 1136.8,357.0 1137.0,358.0 1137.2,359.0 1137.4,360.0 1137.6,361.0 1137.8,362.0 1138.0,363.0 1138.2,364.0 1138.4,365.0 1138.6,366.0 1138.9,367.0 1139.1,368.0 1139.4,369.0 1139.7,370.0 1140.0,371.0 1140.4,372.0 1140.8,373.0 1141.3,374.0 1141.8,375.0 1142.4,376.0 1143.0,377.0 1143.7,378.0 1144.5,379.0 1145.4,380.0 1146.3,381.0 1147.3,382.0 1148.3,383.0 1149.5,384.0 1150.7,385.0 1152.0,386.0 1153.4,387.0 1154.8,388.0 1156.4,389.0 1158.0,390.0 1159.6,391.0 1161.3,392.0 1163.1,393.0 1164.9,394.0 1166.8,395.0 1168.6,396.0 1170.5,397.0 1172.5,398.0 1174.4,399.0 1176.2,400.0 1178.1,401.0 1179.9,402.0 1181.5,403.0 1183.1,404.0 1184.6,405.0 1185.8,406.0 1186.9,407.0 1187.8,408.0 1188.4,409.0 1188.8,410.0 1188.9,411.0 1188.7,412.0 1188.2,413.0 1187.4,414.0 1186.2,415.0 1184.8,416.0 1183.1,417.0 1181.2,418.0 1179.0,419.0 1176.6,420.0 1174.0,421.0 1171.2,422.0 1168.4,423.0 1165.5,424.0 1162.5,425.0 1159.6,426.0 1156.7,427.0 1153.9,428.0 1151.1,429.0 1148.5,430.0 1146.1,431.0 1143.8,432.0 1141.6,433.0 1139.7,434.0 1137.9,435.0 1136.3,436.0 1134.8,437.0 1133.6,438.0 1132.4,439.0 1131.5,440.0 1130.6,441.0 1129.9,442.0 1129.3,443.0 1128.8,444.0 1128.3,445.0 1128.0,446.0 1127.7,447.0 1127.4,448.0 1127.2,449.0 1127.1,450.0 1126.9,451.0 1126.8,452.0 1126.8,453.0 1126.7,454.0 1126.7,455.0 1126.6,456.0 1126.6,457.0 1126.6,458.0 1126.6,459.0 1126.5,460.0 1126.5,461.0 1126.5,462.0 1126.5,463.0" fill="none" stroke="#7ee69c" stroke-width="2.2" stroke-linejoin="round"/></g><g fill="#282828" stroke="#282828" stroke-width="0.6"><text transform="translate(725.4 451.1) scale(1 1.05)" text-anchor="end" font-size="27.6">0</text><text transform="translate(725.4 377.1) scale(1 1.05)" text-anchor="end" font-size="27.6">50</text><text transform="translate(725.4 303.1) scale(1 1.05)" text-anchor="end" font-size="27.6">100</text><text transform="translate(725.4 229.1) scale(1 1.05)" text-anchor="end" font-size="27.6">150</text><text transform="translate(725.4 155.1) scale(1 1.05)" text-anchor="end" font-size="27.6">200</text><text transform="translate(824.8 495.5) scale(1 1.05)" text-anchor="middle" font-size="27.6">16</text><text transform="translate(927.1 495.5) scale(1 1.05)" text-anchor="middle" font-size="27.6">18</text><text transform="translate(1029.5 495.5) scale(1 1.05)" text-anchor="middle" font-size="27.6">20</text><text x="923.6" y="525" text-anchor="middle" font-size="29.9">Unit Weight</text><text transform="translate(669.7 278) rotate(-90)" text-anchor="middle" font-size="29.9">Resilient Modulus</text></g><clipPath id="c3m"><rect x="95.5" y="644.3" width="377.8" height="379.6"/></clipPath><clipPath id="c3t"><rect x="95.5" y="566.3" width="377.8" height="64.4"/></clipPath><clipPath id="c3r"><rect x="487.3" y="644.3" width="64.9" height="379.6"/></clipPath><rect x="95.5" y="644.3" width="377.8" height="379.6" fill="#e0e0f8"/><rect x="95.5" y="566.3" width="377.8" height="64.4" fill="#e0e0f8"/><rect x="487.3" y="644.3" width="64.9" height="379.6" fill="#e0e0f8"/><path d="M108.4 644.3V1023.9M108.4 566.3V630.7M212.6 644.3V1023.9M212.6 566.3V630.7M316.5 644.3V1023.9M316.5 566.3V630.7M420.6 644.3V1023.9M420.6 566.3V630.7M95.5 997.7H473.3M487.3 997.7H552.2M95.5 923.7H473.3M487.3 923.7H552.2M95.5 849.7H473.3M487.3 849.7H552.2M95.5 775.7H473.3M487.3 775.7H552.2M95.5 701.7H473.3M487.3 701.7H552.2" stroke="#eeeefb" stroke-width="2" fill="none"/><g clip-path="url(#c3m)"><path d="M148.5,822.2 153.5,822.4 158.5,824.2 162.5,827.0 165.2,830.3 167.1,834.3 168.1,838.3 168.8,852.3 169.8,858.3 171.1,863.3 173.3,868.3 177.6,874.3 189.3,886.3 195.0,893.3 201.0,902.3 211.5,922.1 213.5,924.7 216.5,927.2 219.5,927.8 221.5,927.2 223.5,925.3 224.3,923.3 224.7,920.3 224.5,908.3 225.3,899.3 227.7,885.3 228.8,881.3 230.6,877.3 232.5,874.7 234.5,872.9 238.5,871.4 242.5,872.2 246.2,875.3 248.1,878.3 249.7,882.3 252.7,895.3 254.5,900.3 257.5,904.5 266.5,912.5 270.9,918.3 274.0,924.3 280.5,938.6 292.0,957.3 295.0,963.3 297.0,968.3 298.8,977.3 298.7,982.3 298.0,986.3 296.9,989.3 294.8,993.3 292.4,996.3 289.2,999.3 283.5,1002.9 277.5,1005.2 270.5,1006.7 262.5,1007.2 254.5,1006.7 245.5,1004.9 226.5,998.3 220.5,996.7 203.5,994.7 187.5,991.3 180.5,992.0 167.5,996.1 160.5,997.7 153.5,998.3 146.5,998.0 136.5,995.7 127.5,991.8 119.5,986.1 113.0,979.3 109.7,974.3 106.8,968.3 105.0,962.3 104.0,955.3 104.2,948.3 105.4,941.3 108.0,932.3 110.6,926.3 113.0,922.3 115.5,919.4 118.5,916.8 121.5,915.2 124.5,914.1 128.5,913.4 141.5,913.4 145.5,912.9 148.6,911.3 150.2,908.3 150.6,905.3 150.2,900.3 149.1,894.3 147.6,889.3 145.2,884.3 138.4,874.3 135.6,867.3 134.7,862.3 132.4,841.3 133.3,834.3 134.5,831.3 136.4,828.3 138.5,826.2 141.5,824.2 144.5,823.0 148.5,822.2Z" fill="#6dee87"/><path d="M165.5,885.0 168.5,884.5 171.5,884.9 175.5,886.4 179.5,888.7 183.5,891.8 187.5,895.7 193.8,904.3 198.2,913.3 201.4,924.3 202.9,936.3 203.0,943.3 202.5,947.8 200.9,951.3 193.5,958.9 184.0,974.3 180.3,978.3 175.5,982.2 168.5,986.2 160.5,988.9 152.5,989.8 143.5,989.0 136.5,986.8 129.5,983.0 123.7,978.3 118.9,972.3 115.8,966.3 113.8,959.3 113.4,952.3 114.4,944.3 116.1,938.3 118.8,932.3 122.0,928.3 125.5,925.9 129.5,924.5 133.5,923.9 156.5,923.3 158.5,922.8 160.5,921.4 161.4,919.3 161.6,917.3 159.8,902.3 160.0,894.3 161.9,888.3 163.5,886.3 165.5,885.0ZM250.5,938.3 254.5,938.7 258.5,940.1 263.5,943.1 269.5,947.6 275.5,952.9 280.5,958.3 284.1,963.3 286.7,968.3 288.1,972.3 288.9,977.3 288.7,981.3 287.6,985.3 285.4,989.3 282.8,992.3 279.5,994.9 275.5,997.0 268.5,999.1 260.5,999.8 252.5,999.0 244.5,997.0 234.5,992.9 221.5,985.8 215.8,981.3 213.2,977.3 211.0,970.3 208.7,960.3 208.8,956.3 210.4,953.3 216.4,949.3 229.5,943.5 241.5,939.6 250.5,938.3Z" fill="#5eeb7c"/><path d="M170.5,894.0 174.5,893.7 179.5,895.7 184.5,899.8 188.9,905.3 192.1,911.3 194.3,918.3 195.0,925.3 194.2,930.3 192.6,933.3 190.5,935.3 187.5,936.8 181.5,938.1 180.4,939.3 180.4,942.3 182.3,953.3 181.9,961.3 180.8,965.3 179.0,969.3 176.4,973.3 173.7,976.3 170.5,979.0 166.5,981.5 158.5,984.4 154.5,985.0 149.5,985.1 145.5,984.6 140.5,983.3 134.5,980.6 129.5,977.1 124.8,972.3 121.7,967.3 119.5,961.3 118.6,955.3 118.9,949.3 120.4,943.3 122.6,938.3 125.7,934.3 129.5,931.6 134.5,929.9 141.5,929.0 148.5,928.9 155.5,929.6 169.5,932.2 171.5,932.0 172.3,931.3 172.1,928.3 167.0,912.3 165.9,905.3 166.0,901.3 166.7,898.3 168.5,895.3 170.5,894.0ZM246.5,946.3 254.5,947.1 259.5,948.8 263.5,950.7 268.5,953.9 272.5,957.2 276.5,961.3 279.4,965.3 281.5,969.3 282.9,973.3 283.3,977.3 283.1,980.3 282.3,983.3 280.8,986.3 278.5,989.1 275.5,991.5 270.5,993.9 263.5,995.4 256.5,995.5 248.5,994.1 240.5,991.2 232.5,986.8 226.8,982.3 222.7,977.3 220.5,972.3 219.4,966.3 220.0,961.3 222.6,956.3 227.0,952.3 232.5,949.3 239.5,947.1 246.5,946.3Z" fill="#4ee870"/><path d="M174.5,901.9 177.5,901.8 180.5,903.3 184.5,907.3 186.9,911.3 188.5,916.3 188.7,920.3 187.9,923.3 185.7,925.3 182.5,925.4 179.5,923.9 176.5,920.8 173.8,916.3 172.1,911.3 171.7,907.3 172.5,903.9 174.5,901.9ZM140.5,933.2 145.5,932.7 151.5,933.0 156.5,934.0 161.5,935.7 165.5,937.7 169.0,940.3 171.9,943.3 174.5,947.3 176.1,951.3 177.0,956.3 176.8,961.3 175.7,965.3 173.8,969.3 170.8,973.3 167.5,976.2 163.5,978.7 158.5,980.6 152.5,981.5 146.5,981.2 141.5,979.9 136.5,977.7 131.7,974.3 127.9,970.3 125.4,966.3 123.5,961.3 122.6,955.3 123.1,949.3 124.7,944.3 127.0,940.3 130.5,936.9 134.5,934.8 140.5,933.2ZM240.5,951.3 244.5,950.7 249.5,950.7 257.5,952.4 265.5,956.4 272.5,962.2 276.8,968.3 278.1,971.3 279.0,975.3 278.9,979.3 278.1,982.3 276.5,985.0 274.5,987.2 270.5,989.9 265.5,991.7 259.5,992.4 253.5,992.0 247.5,990.6 240.5,987.8 234.9,984.3 230.4,980.3 227.4,976.3 225.3,971.3 224.8,966.3 225.6,962.3 227.9,958.3 231.1,955.3 235.5,952.9 240.5,951.3Z" fill="#3ce563"/><path d="M143.5,936.2 148.5,936.0 152.5,936.4 156.5,937.4 160.5,939.1 164.1,941.3 167.4,944.3 169.8,947.3 171.4,950.3 172.7,954.3 173.1,958.3 172.6,962.3 171.7,965.3 170.2,968.3 167.5,971.7 164.5,974.3 160.5,976.5 156.5,977.8 151.5,978.5 146.5,978.1 141.5,976.7 136.8,974.3 133.0,971.3 129.7,967.3 127.6,963.3 126.4,959.3 126.0,954.3 126.8,949.3 128.5,945.2 131.5,941.3 134.5,939.1 138.5,937.3 143.5,936.2ZM243.5,954.2 250.5,954.1 257.5,955.7 264.5,959.3 270.3,964.3 273.7,969.3 274.9,972.3 275.5,975.3 274.8,980.3 273.2,983.3 271.4,985.3 267.5,987.8 263.5,989.1 258.5,989.7 253.5,989.4 247.5,987.9 242.5,985.8 237.5,982.7 233.8,979.3 230.9,975.3 229.3,971.3 228.9,967.3 229.8,963.3 231.7,960.3 235.1,957.3 239.2,955.3 243.5,954.2Z" fill="#2ae055"/><path d="M143.5,939.3 147.5,938.9 151.5,939.2 158.5,941.5 161.5,943.3 164.5,945.9 168.2,951.3 169.2,954.3 169.7,958.3 168.5,964.3 165.5,969.3 162.5,971.9 159.5,973.7 155.5,975.1 151.5,975.6 147.5,975.4 143.0,974.3 138.9,972.3 135.5,969.7 132.5,966.3 130.8,963.3 129.5,959.3 129.1,955.3 129.6,951.3 131.2,947.3 133.5,944.2 136.5,941.8 139.5,940.3 143.5,939.3ZM244.5,957.1 250.5,956.9 256.5,958.3 262.5,961.2 267.4,965.3 270.8,970.3 272.1,975.3 271.5,979.3 268.8,983.3 265.8,985.3 262.5,986.5 258.5,987.1 253.5,986.9 248.5,985.7 244.5,984.1 240.0,981.3 236.7,978.3 234.5,975.3 233.2,972.3 232.6,968.3 233.1,965.3 234.8,962.3 237.5,959.8 240.5,958.2 244.5,957.1Z" fill="#22d34b"/><path d="M143.5,942.2 149.5,941.8 155.5,943.2 160.6,946.3 162.6,948.3 164.7,951.3 166.4,956.3 166.5,959.3 165.9,962.3 163.2,967.3 158.5,971.0 155.5,972.2 151.5,972.9 147.5,972.7 144.5,972.0 141.5,970.7 138.5,968.7 136.0,966.3 134.0,963.3 132.8,960.3 132.1,956.3 132.4,953.3 133.3,950.3 135.1,947.3 137.1,945.3 140.3,943.3 143.5,942.2ZM244.5,960.1 249.5,959.6 254.5,960.4 259.5,962.4 263.6,965.3 267.0,969.3 268.6,973.3 268.6,977.3 266.5,981.0 264.5,982.6 261.5,983.9 258.5,984.5 254.5,984.6 250.5,983.8 246.5,982.4 240.5,978.3 238.5,976.0 237.0,973.3 236.2,970.3 236.3,967.3 237.5,964.7 239.5,962.5 244.5,960.1Z" fill="#20b942"/><path d="M144.5,945.1 149.5,944.7 154.5,945.9 158.5,948.4 161.7,952.3 163.1,956.3 162.9,961.3 160.5,965.7 156.5,968.7 151.5,970.1 145.5,969.4 140.5,966.7 136.8,962.3 135.6,959.3 135.2,956.3 136.4,951.3 137.7,949.3 139.7,947.3 144.5,945.1ZM245.5,963.1 249.5,962.4 253.5,962.9 257.5,964.4 261.5,967.1 264.1,970.3 265.2,973.3 265.1,976.3 263.5,979.1 259.5,981.5 254.5,981.9 248.5,980.5 243.5,977.3 240.5,973.3 239.8,969.3 240.3,967.3 241.7,965.3 245.5,963.1Z" fill="#1f9e3a"/><path d="M145.5,948.2 148.5,947.8 152.5,948.5 155.8,950.3 158.5,953.3 159.7,956.3 159.5,960.3 158.0,963.3 155.5,965.5 151.5,966.9 146.5,966.5 142.5,964.4 139.9,961.3 138.7,957.3 139.3,953.3 141.5,950.3 145.5,948.2ZM247.5,966.3 249.5,965.8 252.5,965.9 255.5,966.9 257.9,968.3 259.8,970.3 260.8,972.3 261.1,974.3 260.4,976.3 257.7,978.3 254.5,978.8 250.5,978.0 247.3,976.3 244.7,973.3 244.1,970.3 244.8,968.3 247.5,966.3Z" fill="#1e8a34"/></g><g clip-path="url(#c3t)"><path d="M109.0,630.7 L109.0,630.4 110.0,630.3 111.0,630.2 112.0,630.0 113.0,629.8 114.0,629.5 115.0,629.2 116.0,628.8 117.0,628.4 118.0,627.8 119.0,627.1 120.0,626.3 121.0,625.4 122.0,624.3 123.0,623.0 124.0,621.5 125.0,619.9 126.0,618.0 127.0,616.0 128.0,613.8 129.0,611.3 130.0,608.7 131.0,606.0 132.0,603.1 133.0,600.0 134.0,596.9 135.0,593.8 136.0,590.7 137.0,587.6 138.0,584.6 139.0,581.8 140.0,579.2 141.0,576.8 142.0,574.6 143.0,572.8 144.0,571.3 145.0,570.1 146.0,569.2 147.0,568.7 148.0,568.5 149.0,568.7 150.0,569.1 151.0,569.7 152.0,570.6 153.0,571.6 154.0,572.8 155.0,574.1 156.0,575.4 157.0,576.7 158.0,578.0 159.0,579.3 160.0,580.5 161.0,581.6 162.0,582.6 163.0,583.5 164.0,584.3 165.0,585.0 166.0,585.7 167.0,586.3 168.0,586.8 169.0,587.3 170.0,587.8 171.0,588.3 172.0,588.8 173.0,589.3 174.0,589.9 175.0,590.5 176.0,591.2 177.0,592.0 178.0,592.8 179.0,593.7 180.0,594.7 181.0,595.8 182.0,596.9 183.0,598.1 184.0,599.4 185.0,600.6 186.0,602.0 187.0,603.3 188.0,604.6 189.0,605.9 190.0,607.2 191.0,608.5 192.0,609.8 193.0,610.9 194.0,612.1 195.0,613.1 196.0,614.1 197.0,615.1 198.0,615.9 199.0,616.6 200.0,617.3 201.0,617.9 202.0,618.3 203.0,618.7 204.0,619.0 205.0,619.1 206.0,619.2 207.0,619.2 208.0,619.1 209.0,619.0 210.0,618.7 211.0,618.4 212.0,618.0 213.0,617.6 214.0,617.1 215.0,616.5 216.0,615.9 217.0,615.2 218.0,614.5 219.0,613.8 220.0,613.0 221.0,612.2 222.0,611.4 223.0,610.5 224.0,609.6 225.0,608.7 226.0,607.8 227.0,606.8 228.0,605.9 229.0,604.8 230.0,603.8 231.0,602.7 232.0,601.6 233.0,600.5 234.0,599.3 235.0,598.1 236.0,596.9 237.0,595.6 238.0,594.4 239.0,593.1 240.0,591.8 241.0,590.5 242.0,589.2 243.0,587.9 244.0,586.7 245.0,585.6 246.0,584.5 247.0,583.5 248.0,582.6 249.0,581.8 250.0,581.2 251.0,580.8 252.0,580.5 253.0,580.4 254.0,580.5 255.0,580.8 256.0,581.3 257.0,582.0 258.0,582.9 259.0,584.0 260.0,585.3 261.0,586.8 262.0,588.4 263.0,590.1 264.0,592.0 265.0,594.0 266.0,596.0 267.0,598.1 268.0,600.2 269.0,602.4 270.0,604.5 271.0,606.6 272.0,608.6 273.0,610.6 274.0,612.5 275.0,614.3 276.0,616.0 277.0,617.6 278.0,619.1 279.0,620.4 280.0,621.7 281.0,622.8 282.0,623.9 283.0,624.8 284.0,625.7 285.0,626.4 286.0,627.0 287.0,627.6 288.0,628.1 289.0,628.5 290.0,628.9 291.0,629.2 292.0,629.5 293.0,629.7 L293.0,630.7Z" fill="#7cffac" fill-opacity="0.5"/><path d="M109.0,630.4 110.0,630.3 111.0,630.2 112.0,630.0 113.0,629.8 114.0,629.5 115.0,629.2 116.0,628.8 117.0,628.4 118.0,627.8 119.0,627.1 120.0,626.3 121.0,625.4 122.0,624.3 123.0,623.0 124.0,621.5 125.0,619.9 126.0,618.0 127.0,616.0 128.0,613.8 129.0,611.3 130.0,608.7 131.0,606.0 132.0,603.1 133.0,600.0 134.0,596.9 135.0,593.8 136.0,590.7 137.0,587.6 138.0,584.6 139.0,581.8 140.0,579.2 141.0,576.8 142.0,574.6 143.0,572.8 144.0,571.3 145.0,570.1 146.0,569.2 147.0,568.7 148.0,568.5 149.0,568.7 150.0,569.1 151.0,569.7 152.0,570.6 153.0,571.6 154.0,572.8 155.0,574.1 156.0,575.4 157.0,576.7 158.0,578.0 159.0,579.3 160.0,580.5 161.0,581.6 162.0,582.6 163.0,583.5 164.0,584.3 165.0,585.0 166.0,585.7 167.0,586.3 168.0,586.8 169.0,587.3 170.0,587.8 171.0,588.3 172.0,588.8 173.0,589.3 174.0,589.9 175.0,590.5 176.0,591.2 177.0,592.0 178.0,592.8 179.0,593.7 180.0,594.7 181.0,595.8 182.0,596.9 183.0,598.1 184.0,599.4 185.0,600.6 186.0,602.0 187.0,603.3 188.0,604.6 189.0,605.9 190.0,607.2 191.0,608.5 192.0,609.8 193.0,610.9 194.0,612.1 195.0,613.1 196.0,614.1 197.0,615.1 198.0,615.9 199.0,616.6 200.0,617.3 201.0,617.9 202.0,618.3 203.0,618.7 204.0,619.0 205.0,619.1 206.0,619.2 207.0,619.2 208.0,619.1 209.0,619.0 210.0,618.7 211.0,618.4 212.0,618.0 213.0,617.6 214.0,617.1 215.0,616.5 216.0,615.9 217.0,615.2 218.0,614.5 219.0,613.8 220.0,613.0 221.0,612.2 222.0,611.4 223.0,610.5 224.0,609.6 225.0,608.7 226.0,607.8 227.0,606.8 228.0,605.9 229.0,604.8 230.0,603.8 231.0,602.7 232.0,601.6 233.0,600.5 234.0,599.3 235.0,598.1 236.0,596.9 237.0,595.6 238.0,594.4 239.0,593.1 240.0,591.8 241.0,590.5 242.0,589.2 243.0,587.9 244.0,586.7 245.0,585.6 246.0,584.5 247.0,583.5 248.0,582.6 249.0,581.8 250.0,581.2 251.0,580.8 252.0,580.5 253.0,580.4 254.0,580.5 255.0,580.8 256.0,581.3 257.0,582.0 258.0,582.9 259.0,584.0 260.0,585.3 261.0,586.8 262.0,588.4 263.0,590.1 264.0,592.0 265.0,594.0 266.0,596.0 267.0,598.1 268.0,600.2 269.0,602.4 270.0,604.5 271.0,606.6 272.0,608.6 273.0,610.6 274.0,612.5 275.0,614.3 276.0,616.0 277.0,617.6 278.0,619.1 279.0,620.4 280.0,621.7 281.0,622.8 282.0,623.9 283.0,624.8 284.0,625.7 285.0,626.4 286.0,627.0 287.0,627.6 288.0,628.1 289.0,628.5 290.0,628.9 291.0,629.2 292.0,629.5 293.0,629.7" fill="none" stroke="#7ee69c" stroke-width="2.2" stroke-linejoin="round"/></g><g clip-path="url(#c3r)"><path d="M487.3,651.7 L487.3,651.7 487.3,652.7 487.3,653.7 487.3,654.7 487.3,655.7 487.3,656.7 487.3,657.7 487.3,658.7 487.3,659.7 487.3,660.7 487.3,661.7 487.3,662.7 487.3,663.7 487.3,664.7 487.3,665.7 487.3,666.7 487.3,667.7 487.3,668.7 487.3,669.7 487.3,670.7 487.3,671.7 487.3,672.7 487.3,673.7 487.3,674.7 487.3,675.7 487.3,676.7 487.3,677.7 487.3,678.7 487.3,679.7 487.3,680.7 487.3,681.7 487.3,682.7 487.3,683.7 487.3,684.7 487.3,685.7 487.3,686.7 487.3,687.7 487.3,688.7 487.3,689.7 487.3,690.7 487.3,691.7 487.3,692.7 487.3,693.7 487.3,694.7 487.3,695.7 487.3,696.7 487.3,697.7 487.3,698.7 487.3,699.7 487.3,700.7 487.3,701.7 487.3,702.7 487.3,703.7 487.3,704.7 487.3,705.7 487.3,706.7 487.3,707.7 487.3,708.7 487.3,709.7 487.3,710.7 487.3,711.7 487.3,712.7 487.3,713.7 487.4,714.7 487.4,715.7 487.4,716.7 487.4,717.7 487.4,718.7 487.4,719.7 487.4,720.7 487.4,721.7 487.4,722.7 487.4,723.7 487.4,724.7 487.4,725.7 487.4,726.7 487.4,727.7 487.4,728.7 487.4,729.7 487.4,730.7 487.4,731.7 487.4,732.7 487.4,733.7 487.4,734.7 487.4,735.7 487.4,736.7 487.4,737.7 487.4,738.7 487.5,739.7 487.5,740.7 487.5,741.7 487.5,742.7 487.5,743.7 487.5,744.7 487.5,745.7 487.5,746.7 487.5,747.7 487.5,748.7 487.5,749.7 487.5,750.7 487.5,751.7 487.6,752.7 487.6,753.7 487.6,754.7 487.6,755.7 487.6,756.7 487.6,757.7 487.6,758.7 487.6,759.7 487.6,760.7 487.6,761.7 487.7,762.7 487.7,763.7 487.7,764.7 487.7,765.7 487.7,766.7 487.7,767.7 487.7,768.7 487.7,769.7 487.8,770.7 487.8,771.7 487.8,772.7 487.8,773.7 487.8,774.7 487.8,775.7 487.8,776.7 487.9,777.7 487.9,778.7 487.9,779.7 487.9,780.7 487.9,781.7 487.9,782.7 488.0,783.7 488.0,784.7 488.0,785.7 488.0,786.7 488.0,787.7 488.0,788.7 488.1,789.7 488.1,790.7 488.1,791.7 488.1,792.7 488.1,793.7 488.1,794.7 488.2,795.7 488.2,796.7 488.2,797.7 488.2,798.7 488.2,799.7 488.2,800.7 488.3,801.7 488.3,802.7 488.3,803.7 488.3,804.7 488.3,805.7 488.3,806.7 488.4,807.7 488.4,808.7 488.4,809.7 488.4,810.7 488.4,811.7 488.4,812.7 488.5,813.7 488.5,814.7 488.5,815.7 488.5,816.7 488.5,817.7 488.5,818.7 488.6,819.7 488.6,820.7 488.6,821.7 488.6,822.7 488.6,823.7 488.6,824.7 488.6,825.7 488.7,826.7 488.7,827.7 488.7,828.7 488.7,829.7 488.7,830.7 488.7,831.7 488.7,832.7 488.7,833.7 488.8,834.7 488.8,835.7 488.8,836.7 488.8,837.7 488.8,838.7 488.8,839.7 488.8,840.7 488.8,841.7 488.8,842.7 488.8,843.7 488.8,844.7 488.9,845.7 488.9,846.7 488.9,847.7 488.9,848.7 488.9,849.7 488.9,850.7 488.9,851.7 488.9,852.7 488.9,853.7 489.0,854.7 489.0,855.7 489.0,856.7 489.0,857.7 489.0,858.7 489.1,859.7 489.1,860.7 489.1,861.7 489.1,862.7 489.2,863.7 489.2,864.7 489.2,865.7 489.3,866.7 489.3,867.7 489.4,868.7 489.4,869.7 489.5,870.7 489.6,871.7 489.6,872.7 489.7,873.7 489.8,874.7 489.9,875.7 490.0,876.7 490.1,877.7 490.2,878.7 490.3,879.7 490.5,880.7 490.6,881.7 490.7,882.7 490.9,883.7 491.0,884.7 491.2,885.7 491.4,886.7 491.6,887.7 491.8,888.7 492.0,889.7 492.2,890.7 492.4,891.7 492.6,892.7 492.8,893.7 493.1,894.7 493.3,895.7 493.5,896.7 493.8,897.7 494.0,898.7 494.3,899.7 494.5,900.7 494.8,901.7 495.0,902.7 495.3,903.7 495.5,904.7 495.8,905.7 496.0,906.7 496.3,907.7 496.5,908.7 496.7,909.7 497.0,910.7 497.2,911.7 497.4,912.7 497.6,913.7 497.8,914.7 498.0,915.7 498.2,916.7 498.4,917.7 498.6,918.7 498.8,919.7 499.0,920.7 499.2,921.7 499.4,922.7 499.7,923.7 499.9,924.7 500.2,925.7 500.5,926.7 500.8,927.7 501.2,928.7 501.6,929.7 502.1,930.7 502.6,931.7 503.2,932.7 503.8,933.7 504.5,934.7 505.3,935.7 506.2,936.7 507.1,937.7 508.1,938.7 509.1,939.7 510.3,940.7 511.5,941.7 512.8,942.7 514.2,943.7 515.6,944.7 517.2,945.7 518.8,946.7 520.4,947.7 522.1,948.7 523.9,949.7 525.7,950.7 527.6,951.7 529.4,952.7 531.3,953.7 533.3,954.7 535.2,955.7 537.0,956.7 538.9,957.7 540.7,958.7 542.3,959.7 543.9,960.7 545.4,961.7 546.6,962.7 547.7,963.7 548.6,964.7 549.2,965.7 549.6,966.7 549.7,967.7 549.5,968.7 549.0,969.7 548.2,970.7 547.0,971.7 545.6,972.7 543.9,973.7 542.0,974.7 539.8,975.7 537.4,976.7 534.8,977.7 532.0,978.7 529.2,979.7 526.3,980.7 523.3,981.7 520.4,982.7 517.5,983.7 514.7,984.7 511.9,985.7 509.3,986.7 506.9,987.7 504.6,988.7 502.4,989.7 500.5,990.7 498.7,991.7 497.1,992.7 495.6,993.7 494.4,994.7 493.2,995.7 492.3,996.7 491.4,997.7 490.7,998.7 490.1,999.7 489.6,1000.7 489.1,1001.7 488.8,1002.7 488.5,1003.7 488.2,1004.7 488.0,1005.7 487.9,1006.7 487.7,1007.7 487.6,1008.7 487.6,1009.7 487.5,1010.7 487.5,1011.7 487.4,1012.7 487.4,1013.7 487.4,1014.7 487.4,1015.7 487.3,1016.7 487.3,1017.7 487.3,1018.7 487.3,1019.7 L487.3,1019.7Z" fill="#7cffac" fill-opacity="0.5"/><path d="M487.3,651.7 487.3,652.7 487.3,653.7 487.3,654.7 487.3,655.7 487.3,656.7 487.3,657.7 487.3,658.7 487.3,659.7 487.3,660.7 487.3,661.7 487.3,662.7 487.3,663.7 487.3,664.7 487.3,665.7 487.3,666.7 487.3,667.7 487.3,668.7 487.3,669.7 487.3,670.7 487.3,671.7 487.3,672.7 487.3,673.7 487.3,674.7 487.3,675.7 487.3,676.7 487.3,677.7 487.3,678.7 487.3,679.7 487.3,680.7 487.3,681.7 487.3,682.7 487.3,683.7 487.3,684.7 487.3,685.7 487.3,686.7 487.3,687.7 487.3,688.7 487.3,689.7 487.3,690.7 487.3,691.7 487.3,692.7 487.3,693.7 487.3,694.7 487.3,695.7 487.3,696.7 487.3,697.7 487.3,698.7 487.3,699.7 487.3,700.7 487.3,701.7 487.3,702.7 487.3,703.7 487.3,704.7 487.3,705.7 487.3,706.7 487.3,707.7 487.3,708.7 487.3,709.7 487.3,710.7 487.3,711.7 487.3,712.7 487.3,713.7 487.4,714.7 487.4,715.7 487.4,716.7 487.4,717.7 487.4,718.7 487.4,719.7 487.4,720.7 487.4,721.7 487.4,722.7 487.4,723.7 487.4,724.7 487.4,725.7 487.4,726.7 487.4,727.7 487.4,728.7 487.4,729.7 487.4,730.7 487.4,731.7 487.4,732.7 487.4,733.7 487.4,734.7 487.4,735.7 487.4,736.7 487.4,737.7 487.4,738.7 487.5,739.7 487.5,740.7 487.5,741.7 487.5,742.7 487.5,743.7 487.5,744.7 487.5,745.7 487.5,746.7 487.5,747.7 487.5,748.7 487.5,749.7 487.5,750.7 487.5,751.7 487.6,752.7 487.6,753.7 487.6,754.7 487.6,755.7 487.6,756.7 487.6,757.7 487.6,758.7 487.6,759.7 487.6,760.7 487.6,761.7 487.7,762.7 487.7,763.7 487.7,764.7 487.7,765.7 487.7,766.7 487.7,767.7 487.7,768.7 487.7,769.7 487.8,770.7 487.8,771.7 487.8,772.7 487.8,773.7 487.8,774.7 487.8,775.7 487.8,776.7 487.9,777.7 487.9,778.7 487.9,779.7 487.9,780.7 487.9,781.7 487.9,782.7 488.0,783.7 488.0,784.7 488.0,785.7 488.0,786.7 488.0,787.7 488.0,788.7 488.1,789.7 488.1,790.7 488.1,791.7 488.1,792.7 488.1,793.7 488.1,794.7 488.2,795.7 488.2,796.7 488.2,797.7 488.2,798.7 488.2,799.7 488.2,800.7 488.3,801.7 488.3,802.7 488.3,803.7 488.3,804.7 488.3,805.7 488.3,806.7 488.4,807.7 488.4,808.7 488.4,809.7 488.4,810.7 488.4,811.7 488.4,812.7 488.5,813.7 488.5,814.7 488.5,815.7 488.5,816.7 488.5,817.7 488.5,818.7 488.6,819.7 488.6,820.7 488.6,821.7 488.6,822.7 488.6,823.7 488.6,824.7 488.6,825.7 488.7,826.7 488.7,827.7 488.7,828.7 488.7,829.7 488.7,830.7 488.7,831.7 488.7,832.7 488.7,833.7 488.8,834.7 488.8,835.7 488.8,836.7 488.8,837.7 488.8,838.7 488.8,839.7 488.8,840.7 488.8,841.7 488.8,842.7 488.8,843.7 488.8,844.7 488.9,845.7 488.9,846.7 488.9,847.7 488.9,848.7 488.9,849.7 488.9,850.7 488.9,851.7 488.9,852.7 488.9,853.7 489.0,854.7 489.0,855.7 489.0,856.7 489.0,857.7 489.0,858.7 489.1,859.7 489.1,860.7 489.1,861.7 489.1,862.7 489.2,863.7 489.2,864.7 489.2,865.7 489.3,866.7 489.3,867.7 489.4,868.7 489.4,869.7 489.5,870.7 489.6,871.7 489.6,872.7 489.7,873.7 489.8,874.7 489.9,875.7 490.0,876.7 490.1,877.7 490.2,878.7 490.3,879.7 490.5,880.7 490.6,881.7 490.7,882.7 490.9,883.7 491.0,884.7 491.2,885.7 491.4,886.7 491.6,887.7 491.8,888.7 492.0,889.7 492.2,890.7 492.4,891.7 492.6,892.7 492.8,893.7 493.1,894.7 493.3,895.7 493.5,896.7 493.8,897.7 494.0,898.7 494.3,899.7 494.5,900.7 494.8,901.7 495.0,902.7 495.3,903.7 495.5,904.7 495.8,905.7 496.0,906.7 496.3,907.7 496.5,908.7 496.7,909.7 497.0,910.7 497.2,911.7 497.4,912.7 497.6,913.7 497.8,914.7 498.0,915.7 498.2,916.7 498.4,917.7 498.6,918.7 498.8,919.7 499.0,920.7 499.2,921.7 499.4,922.7 499.7,923.7 499.9,924.7 500.2,925.7 500.5,926.7 500.8,927.7 501.2,928.7 501.6,929.7 502.1,930.7 502.6,931.7 503.2,932.7 503.8,933.7 504.5,934.7 505.3,935.7 506.2,936.7 507.1,937.7 508.1,938.7 509.1,939.7 510.3,940.7 511.5,941.7 512.8,942.7 514.2,943.7 515.6,944.7 517.2,945.7 518.8,946.7 520.4,947.7 522.1,948.7 523.9,949.7 525.7,950.7 527.6,951.7 529.4,952.7 531.3,953.7 533.3,954.7 535.2,955.7 537.0,956.7 538.9,957.7 540.7,958.7 542.3,959.7 543.9,960.7 545.4,961.7 546.6,962.7 547.7,963.7 548.6,964.7 549.2,965.7 549.6,966.7 549.7,967.7 549.5,968.7 549.0,969.7 548.2,970.7 547.0,971.7 545.6,972.7 543.9,973.7 542.0,974.7 539.8,975.7 537.4,976.7 534.8,977.7 532.0,978.7 529.2,979.7 526.3,980.7 523.3,981.7 520.4,982.7 517.5,983.7 514.7,984.7 511.9,985.7 509.3,986.7 506.9,987.7 504.6,988.7 502.4,989.7 500.5,990.7 498.7,991.7 497.1,992.7 495.6,993.7 494.4,994.7 493.2,995.7 492.3,996.7 491.4,997.7 490.7,998.7 490.1,999.7 489.6,1000.7 489.1,1001.7 488.8,1002.7 488.5,1003.7 488.2,1004.7 488.0,1005.7 487.9,1006.7 487.7,1007.7 487.6,1008.7 487.6,1009.7 487.5,1010.7 487.5,1011.7 487.4,1012.7 487.4,1013.7 487.4,1014.7 487.4,1015.7 487.3,1016.7 487.3,1017.7 487.3,1018.7 487.3,1019.7" fill="none" stroke="#7ee69c" stroke-width="2.2" stroke-linejoin="round"/></g><g fill="#282828" stroke="#282828" stroke-width="0.6"><text transform="translate(86.2 1007.8) scale(1 1.05)" text-anchor="end" font-size="27.6">0</text><text transform="translate(86.2 933.8) scale(1 1.05)" text-anchor="end" font-size="27.6">50</text><text transform="translate(86.2 859.8) scale(1 1.05)" text-anchor="end" font-size="27.6">100</text><text transform="translate(86.2 785.8) scale(1 1.05)" text-anchor="end" font-size="27.6">150</text><text transform="translate(86.2 711.8) scale(1 1.05)" text-anchor="end" font-size="27.6">200</text><text transform="translate(108.4 1052.2) scale(1 1.05)" text-anchor="middle" font-size="27.6">10</text><text transform="translate(212.6 1052.2) scale(1 1.05)" text-anchor="middle" font-size="27.6">20</text><text transform="translate(316.5 1052.2) scale(1 1.05)" text-anchor="middle" font-size="27.6">30</text><text transform="translate(420.6 1052.2) scale(1 1.05)" text-anchor="middle" font-size="27.6">40</text><text x="284.4" y="1081.7" text-anchor="middle" font-size="29.9">Moisture Content</text><text transform="translate(30.5 834.7) rotate(-90)" text-anchor="middle" font-size="29.9">Resilient Modulus</text></g><clipPath id="c4m"><rect x="734.7" y="644.3" width="377.8" height="379.6"/></clipPath><clipPath id="c4t"><rect x="734.2" y="566.3" width="378.3" height="64.4"/></clipPath><clipPath id="c4r"><rect x="1126.5" y="644.3" width="64.9" height="379.6"/></clipPath><rect x="734.7" y="644.3" width="377.8" height="379.6" fill="#e0e0f8"/><rect x="734.2" y="566.3" width="378.3" height="64.4" fill="#e0e0f8"/><rect x="1126.5" y="644.3" width="64.9" height="379.6" fill="#e0e0f8"/><path d="M793.3 644.3V1023.9M793.3 566.3V630.7M919.2 644.3V1023.9M919.2 566.3V630.7M1044.8 644.3V1023.9M1044.8 566.3V630.7M734.7 997.7H1112.5M1126.5 997.7H1191.4M734.7 923.7H1112.5M1126.5 923.7H1191.4M734.7 849.7H1112.5M1126.5 849.7H1191.4M734.7 775.7H1112.5M1126.5 775.7H1191.4M734.7 701.7H1112.5M1126.5 701.7H1191.4" stroke="#eeeefb" stroke-width="2" fill="none"/><g clip-path="url(#c4m)"><path d="M1051.7,826.3 1057.7,826.8 1063.7,829.5 1067.9,833.3 1071.6,839.3 1073.3,844.3 1077.1,860.3 1083.1,876.3 1086.1,885.3 1091.7,910.8 1093.5,917.3 1096.7,925.1 1105.2,942.3 1107.4,948.3 1109.0,954.3 1109.9,960.3 1109.9,966.3 1108.7,972.3 1106.5,977.3 1103.0,982.3 1099.2,986.3 1093.7,990.6 1087.7,994.2 1079.7,997.9 1072.7,1000.2 1064.7,1002.0 1055.7,1003.0 1041.7,1002.8 1019.7,999.7 1011.7,999.2 1003.7,1000.0 978.7,1004.5 963.7,1005.2 953.7,1004.5 931.7,1000.8 923.7,1000.3 915.7,1001.2 892.7,1005.7 884.7,1006.4 876.7,1006.3 864.7,1004.7 851.7,1000.8 842.7,996.6 826.7,986.2 821.7,984.0 818.7,983.6 814.7,983.9 803.7,986.5 797.7,987.4 788.7,987.3 782.7,985.9 777.7,983.7 773.7,980.8 770.7,977.0 769.6,974.3 769.1,971.3 770.2,966.3 773.7,961.6 778.7,958.2 784.7,955.9 791.7,954.9 797.7,955.1 811.7,956.9 820.1,956.3 822.9,955.3 825.9,953.3 829.7,949.3 833.6,944.3 838.0,937.3 840.7,930.3 844.0,908.3 846.1,898.3 854.3,873.3 859.1,855.3 860.9,851.3 863.7,847.1 866.7,844.0 870.7,841.4 873.7,840.1 877.7,839.3 884.7,839.7 891.0,842.3 893.7,844.3 896.5,847.3 899.2,851.3 901.0,855.3 906.7,875.0 915.7,896.5 919.7,904.5 921.7,906.6 922.7,906.9 924.7,905.8 926.7,902.7 941.4,869.3 943.8,862.3 947.0,847.3 950.2,840.3 954.7,835.6 957.7,833.7 960.7,832.5 963.7,831.8 967.7,831.8 973.7,833.4 976.7,835.1 979.3,837.3 981.7,840.2 983.5,843.3 985.6,849.3 988.6,863.3 990.7,869.3 1004.7,900.2 1006.7,903.1 1008.7,904.2 1010.7,903.2 1013.7,898.1 1027.3,864.3 1029.7,857.3 1032.9,843.3 1035.3,837.3 1038.7,832.6 1042.6,829.3 1046.7,827.3 1051.7,826.3Z" fill="#6dee87"/><path d="M1050.7,876.1 1054.7,876.0 1059.7,878.1 1063.7,881.6 1067.7,887.0 1072.1,896.3 1079.7,918.8 1091.9,941.3 1095.5,951.3 1096.4,957.3 1096.3,962.3 1095.3,967.3 1093.3,972.3 1090.0,977.3 1086.1,981.3 1081.7,984.7 1075.7,988.0 1069.7,990.4 1063.7,992.0 1056.7,993.0 1049.7,993.2 1038.7,992.1 1018.7,987.2 1011.7,986.7 1005.7,987.8 990.7,992.8 983.7,994.7 975.7,996.1 966.7,996.7 959.7,996.4 952.7,995.5 944.7,993.8 929.7,989.6 922.7,989.0 916.7,990.2 902.7,994.8 894.7,996.8 886.7,997.9 877.7,998.1 871.7,997.5 864.7,996.1 858.7,994.1 852.7,991.4 847.7,988.2 843.0,984.3 839.6,980.3 837.2,976.3 835.7,972.3 835.2,968.3 835.8,964.3 837.1,960.3 840.8,953.3 850.9,939.3 854.2,933.3 856.2,927.3 860.1,909.3 864.0,899.3 866.7,894.7 869.7,890.9 872.7,888.1 875.7,886.1 879.7,885.1 883.7,885.9 887.7,888.4 891.7,892.5 895.7,898.6 898.7,905.3 901.2,913.3 904.2,927.3 907.2,934.3 910.7,938.9 914.7,942.3 918.7,944.3 922.7,944.7 925.7,944.0 929.7,941.8 933.8,938.3 937.2,934.3 939.6,930.3 941.3,926.3 945.9,906.3 948.1,900.3 950.5,895.3 953.7,890.5 957.7,886.4 961.7,884.0 965.7,883.1 969.7,883.7 973.7,885.9 977.7,889.7 980.9,894.3 983.5,899.3 985.8,905.3 990.8,925.3 992.5,929.3 995.2,933.3 999.6,937.3 1003.7,939.3 1007.7,939.5 1010.7,938.4 1013.7,936.2 1017.7,932.0 1021.7,926.4 1024.7,921.3 1028.2,913.3 1034.2,895.3 1038.7,886.2 1041.7,882.2 1044.7,879.3 1047.7,877.3 1050.7,876.1Z" fill="#5eeb7c"/><path d="M1050.7,900.2 1053.7,899.9 1056.7,900.9 1058.7,902.4 1061.7,905.8 1071.2,921.3 1083.4,939.3 1086.9,946.3 1088.8,952.3 1089.4,958.3 1088.9,963.3 1087.3,968.3 1085.0,972.3 1081.7,976.3 1077.7,979.7 1072.7,982.8 1067.7,984.9 1061.7,986.6 1055.7,987.4 1049.7,987.6 1043.7,987.1 1032.7,984.4 1016.7,978.0 1011.7,977.4 1006.7,978.9 993.7,985.8 985.7,989.0 974.7,991.5 964.7,992.0 957.7,991.5 949.7,989.9 942.7,987.7 929.7,982.3 923.7,981.1 918.7,982.1 904.7,988.7 895.7,991.7 886.7,993.4 877.7,993.6 871.7,992.9 865.7,991.5 860.7,989.7 855.7,987.2 851.7,984.5 848.3,981.3 845.3,977.3 843.5,973.3 842.7,969.3 842.8,965.3 844.1,960.3 846.0,956.3 850.2,950.3 863.9,934.3 866.9,929.3 872.7,916.4 875.0,913.3 877.7,911.4 879.7,910.9 881.7,911.1 883.7,912.1 885.7,914.0 888.4,918.3 892.2,927.3 894.9,932.3 898.7,937.3 903.6,942.3 909.7,947.6 914.7,951.3 918.7,953.2 922.7,953.8 925.7,953.0 929.7,950.7 943.7,938.3 948.2,933.3 951.7,928.3 957.7,915.1 959.7,911.8 961.7,909.6 963.7,908.3 965.7,907.9 967.7,908.1 970.7,910.0 972.7,912.3 980.4,928.3 983.2,932.3 986.8,936.3 993.7,942.6 1000.7,947.8 1004.7,949.9 1008.7,950.6 1012.7,949.0 1017.7,944.0 1033.4,923.3 1044.7,905.2 1047.7,902.0 1050.7,900.2Z" fill="#4ee870"/><path d="M1049.7,919.9 1053.7,919.4 1058.7,921.0 1063.7,924.4 1069.7,930.1 1075.7,937.0 1079.9,943.3 1082.6,949.3 1083.9,955.3 1083.8,960.3 1082.6,965.3 1080.0,970.3 1076.7,974.2 1072.7,977.3 1067.7,980.0 1061.7,982.0 1055.7,983.0 1049.7,983.2 1043.7,982.5 1037.7,981.0 1031.7,978.5 1026.4,975.3 1021.5,971.3 1018.2,967.3 1016.6,963.3 1017.0,959.3 1019.3,953.3 1023.2,946.3 1027.7,939.8 1033.7,932.7 1039.7,926.7 1044.7,922.6 1049.7,919.9ZM961.7,933.1 965.7,932.3 969.7,932.8 973.7,934.5 979.7,938.1 988.7,944.8 996.1,951.3 1001.7,957.3 1004.9,962.3 1005.4,964.3 1005.2,967.3 1003.9,970.3 1001.0,974.3 998.0,977.3 993.7,980.6 988.7,983.5 983.7,985.6 976.7,987.5 968.7,988.5 960.7,988.3 952.7,986.9 945.7,984.6 939.1,981.3 933.1,977.3 924.7,970.3 922.7,969.5 920.7,970.8 910.4,980.3 906.0,983.3 900.7,986.1 894.7,988.3 888.7,989.6 882.7,990.2 876.7,990.1 866.7,988.1 858.7,984.5 855.6,982.3 852.4,979.3 850.2,976.3 848.7,973.3 847.7,969.3 848.0,964.3 849.6,959.3 852.7,954.3 857.7,948.7 863.7,943.5 870.7,938.6 875.7,936.2 878.7,935.5 882.7,935.7 886.7,937.1 891.7,939.9 903.7,948.9 919.7,964.0 922.7,965.9 924.7,964.7 935.7,952.3 943.7,944.9 954.7,936.7 961.7,933.1Z" fill="#3ce563"/><path d="M1048.7,929.0 1052.7,928.4 1056.7,928.9 1060.7,930.4 1065.7,933.6 1070.7,938.2 1074.7,943.2 1077.4,948.3 1079.0,953.3 1079.4,957.3 1078.9,961.3 1077.6,965.3 1075.2,969.3 1072.3,972.3 1068.1,975.3 1063.7,977.3 1058.7,978.7 1053.7,979.3 1047.7,979.1 1041.7,977.9 1036.7,976.0 1032.2,973.3 1028.7,970.2 1025.9,966.3 1024.5,962.3 1024.3,958.3 1025.4,953.3 1027.6,948.3 1030.7,943.3 1034.7,938.5 1039.7,934.0 1044.7,930.7 1048.7,929.0ZM964.7,939.3 968.7,939.4 972.7,940.3 976.7,941.9 981.7,944.7 986.7,948.2 991.2,952.3 994.6,956.3 996.9,960.3 997.8,963.3 998.0,966.3 997.3,969.3 995.9,972.3 993.6,975.3 990.7,977.9 983.7,982.1 976.7,984.4 969.7,985.5 962.7,985.5 955.7,984.5 948.7,982.2 942.7,979.0 938.1,975.3 934.7,970.3 933.8,966.3 934.6,962.3 937.1,957.3 941.2,952.3 946.8,947.3 953.7,942.8 959.7,940.2 964.7,939.3ZM874.7,943.1 877.7,942.5 881.7,942.4 885.7,943.1 889.7,944.6 898.7,949.9 906.7,957.3 910.7,963.3 911.7,968.3 911.1,971.3 909.6,974.3 905.0,979.3 899.7,982.8 892.7,985.6 885.7,987.0 878.7,987.3 871.7,986.3 865.4,984.3 860.0,981.3 855.6,977.3 853.1,973.3 851.9,968.3 852.2,964.3 854.0,959.3 857.5,954.3 862.7,949.4 868.7,945.5 874.7,943.1Z" fill="#2ae055"/><path d="M1047.7,935.2 1050.7,934.5 1054.7,934.5 1058.7,935.4 1062.6,937.3 1066.7,940.3 1069.6,943.3 1071.7,946.3 1073.7,950.3 1074.7,953.8 1075.0,957.3 1074.4,961.3 1073.3,964.3 1071.4,967.3 1068.7,970.1 1065.5,972.3 1061.7,974.1 1057.7,975.2 1052.7,975.7 1047.7,975.4 1042.7,974.2 1038.5,972.3 1034.7,969.6 1031.9,966.3 1030.4,963.3 1029.6,959.3 1029.8,955.3 1031.1,951.3 1033.1,947.3 1036.1,943.3 1039.7,939.8 1043.7,937.0 1047.7,935.2ZM960.7,944.2 967.7,943.6 971.7,944.3 975.7,945.6 982.7,949.5 989.0,955.3 991.1,958.3 992.5,961.3 993.1,966.3 991.5,971.3 989.3,974.3 987.2,976.3 982.5,979.3 976.7,981.5 970.7,982.7 963.7,982.9 956.7,981.9 950.7,979.8 945.7,977.0 941.8,973.3 939.5,969.3 938.9,965.3 939.7,961.3 941.7,957.3 945.0,953.3 949.7,949.3 955.7,945.9 960.7,944.2ZM875.7,947.2 882.7,946.9 889.7,948.7 896.7,952.7 902.7,958.3 905.7,963.3 906.6,968.3 905.0,973.3 902.8,976.3 900.6,978.3 895.8,981.3 890.7,983.3 884.7,984.5 878.7,984.6 872.7,983.8 866.7,981.7 862.5,979.3 858.7,975.7 856.3,971.3 855.7,967.3 856.3,963.3 858.1,959.3 861.2,955.3 865.7,951.5 870.7,948.8 875.7,947.2Z" fill="#22d34b"/><path d="M1048.7,940.0 1054.7,939.5 1057.7,940.2 1060.7,941.5 1063.7,943.5 1066.5,946.3 1069.7,951.8 1070.6,957.3 1070.2,960.3 1068.9,963.3 1065.7,967.3 1062.9,969.3 1059.7,970.8 1055.7,971.8 1051.7,972.1 1044.7,970.8 1041.6,969.3 1038.8,967.3 1036.7,965.0 1035.2,962.3 1034.5,959.3 1034.4,956.3 1035.4,952.3 1036.9,949.3 1039.1,946.3 1042.3,943.3 1045.7,941.2 1048.7,940.0ZM962.7,947.3 968.7,947.2 975.7,949.1 981.7,952.7 986.2,957.3 988.7,962.3 988.8,967.3 987.1,971.3 983.2,975.3 979.7,977.4 974.7,979.3 969.7,980.3 963.7,980.4 957.7,979.4 952.7,977.6 948.8,975.3 945.6,972.3 943.8,969.3 943.0,965.3 943.8,961.3 945.7,957.6 948.7,954.2 952.7,951.1 957.7,948.6 962.7,947.3ZM879.7,950.3 886.7,951.2 892.7,953.9 898.1,958.3 901.4,963.3 902.3,968.3 901.1,972.3 897.7,976.4 891.7,980.0 887.7,981.3 882.7,982.0 877.7,982.0 872.7,981.1 868.7,979.6 864.9,977.3 861.8,974.3 860.1,971.3 859.4,968.3 859.7,964.3 861.4,960.3 863.7,957.4 866.7,954.8 870.7,952.4 874.7,951.0 879.7,950.3Z" fill="#20b942"/><path d="M1048.7,945.2 1053.7,944.5 1057.7,945.4 1061.7,948.0 1064.7,952.1 1065.7,956.3 1065.1,960.3 1062.7,963.9 1059.4,966.3 1053.7,967.9 1048.7,967.5 1043.7,965.2 1041.7,963.3 1040.4,961.3 1039.5,957.3 1040.7,952.3 1043.7,948.2 1048.7,945.2ZM964.7,950.2 970.7,950.7 975.7,952.5 980.7,956.0 984.0,960.3 985.1,964.3 984.5,968.3 981.8,972.3 977.7,975.2 973.7,976.8 969.7,977.7 964.7,977.9 960.7,977.4 956.7,976.3 952.7,974.3 950.2,972.3 948.0,969.3 947.0,966.3 947.1,963.3 948.1,960.3 950.2,957.3 953.5,954.3 956.7,952.4 960.7,950.9 964.7,950.2ZM875.7,954.1 880.7,953.6 885.7,954.3 890.7,956.5 894.7,959.6 897.3,963.3 898.2,967.3 897.3,971.3 895.1,974.3 892.5,976.3 888.7,978.1 884.7,979.1 880.7,979.5 876.7,979.2 872.7,978.2 868.7,976.3 866.2,974.3 864.6,972.3 863.3,969.3 863.1,966.3 863.8,963.3 865.6,960.3 868.7,957.3 871.7,955.5 875.7,954.1Z" fill="#1f9e3a"/><path d="M1051.7,951.1 1053.7,951.1 1055.7,951.7 1057.7,953.3 1058.7,955.3 1058.8,957.3 1058.0,959.3 1056.7,960.7 1054.7,961.7 1051.7,962.0 1049.7,961.4 1048.0,960.3 1046.7,958.3 1046.7,955.4 1047.7,953.5 1049.7,951.8 1051.7,951.1ZM960.7,954.2 964.7,953.4 969.7,953.7 973.7,955.1 977.1,957.3 979.7,960.3 980.9,963.3 980.7,967.3 978.8,970.3 976.5,972.3 973.7,973.7 970.7,974.7 966.7,975.2 959.7,974.2 956.7,973.0 954.2,971.3 952.4,969.3 951.4,967.3 951.0,965.3 951.4,962.3 952.7,959.8 955.0,957.3 957.7,955.4 960.7,954.2ZM876.7,957.3 880.7,956.9 884.7,957.5 888.7,959.2 891.3,961.3 893.3,964.3 894.0,967.3 893.2,970.3 891.7,972.5 889.4,974.3 886.7,975.6 880.7,976.6 877.1,976.3 873.7,975.3 869.3,972.3 867.9,970.3 867.2,968.3 867.3,965.3 868.1,963.3 869.5,961.3 871.7,959.4 876.7,957.3Z" fill="#1e8a34"/></g><g clip-path="url(#c4t)"><path d="M762.5,630.7 L762.5,630.7 763.5,630.7 764.5,630.7 765.5,630.7 766.5,630.6 767.5,630.6 768.5,630.6 769.5,630.6 770.5,630.5 771.5,630.5 772.5,630.4 773.5,630.4 774.5,630.3 775.5,630.2 776.5,630.1 777.5,630.0 778.5,629.9 779.5,629.7 780.5,629.6 781.5,629.4 782.5,629.2 783.5,629.1 784.6,628.9 785.6,628.7 786.6,628.6 787.6,628.4 788.6,628.3 789.6,628.2 790.6,628.1 791.6,628.0 792.6,627.9 793.6,627.9 794.6,627.9 795.6,627.9 796.6,628.0 797.6,628.1 798.6,628.2 799.6,628.3 800.6,628.4 801.6,628.6 802.6,628.8 803.6,628.9 804.6,629.1 805.6,629.3 806.6,629.4 807.6,629.6 808.6,629.7 809.6,629.9 810.6,630.0 811.6,630.1 812.6,630.2 813.6,630.3 814.6,630.4 815.6,630.4 816.6,630.5 817.6,630.5 818.6,630.5 819.6,630.6 820.6,630.6 821.6,630.6 822.6,630.6 823.6,630.6 824.6,630.6 825.6,630.6 826.7,630.5 827.7,630.5 828.7,630.5 829.7,630.4 830.7,630.4 831.7,630.3 832.7,630.2 833.7,630.1 834.7,629.9 835.7,629.8 836.7,629.6 837.7,629.4 838.7,629.1 839.7,628.8 840.7,628.5 841.7,628.1 842.7,627.6 843.7,627.1 844.7,626.6 845.7,625.9 846.7,625.2 847.7,624.3 848.7,623.4 849.7,622.4 850.7,621.3 851.7,620.1 852.7,618.8 853.7,617.4 854.7,615.8 855.7,614.2 856.7,612.5 857.7,610.6 858.7,608.7 859.7,606.7 860.7,604.6 861.7,602.4 862.7,600.2 863.7,597.9 864.7,595.7 865.7,593.4 866.7,591.1 867.7,588.9 868.8,586.8 869.8,584.7 870.8,582.7 871.8,580.9 872.8,579.2 873.8,577.6 874.8,576.3 875.8,575.1 876.8,574.2 877.8,573.5 878.8,573.0 879.8,572.7 880.8,572.7 881.8,573.0 882.8,573.4 883.8,574.1 884.8,575.1 885.8,576.2 886.8,577.6 887.8,579.1 888.8,580.8 889.8,582.6 890.8,584.6 891.8,586.7 892.8,588.8 893.8,591.0 894.8,593.3 895.8,595.6 896.8,597.8 897.8,600.1 898.8,602.3 899.8,604.5 900.8,606.6 901.8,608.6 902.8,610.5 903.8,612.4 904.8,614.1 905.8,615.8 906.8,617.3 907.8,618.7 908.8,620.0 909.8,621.2 910.9,622.3 911.9,623.3 912.9,624.2 913.9,625.0 914.9,625.7 915.9,626.3 916.9,626.8 917.9,627.3 918.9,627.6 919.9,627.9 920.9,628.2 921.9,628.3 922.9,628.4 923.9,628.4 924.9,628.4 925.9,628.3 926.9,628.1 927.9,627.9 928.9,627.6 929.9,627.2 930.9,626.7 931.9,626.2 932.9,625.5 933.9,624.8 934.9,624.0 935.9,623.1 936.9,622.0 937.9,620.9 938.9,619.7 939.9,618.3 940.9,616.8 941.9,615.3 942.9,613.6 943.9,611.8 944.9,609.9 945.9,607.9 946.9,605.8 947.9,603.6 948.9,601.4 949.9,599.1 950.9,596.8 951.9,594.5 952.9,592.2 954.0,589.9 955.0,587.6 956.0,585.4 957.0,583.3 958.0,581.3 959.0,579.4 960.0,577.7 961.0,576.1 962.0,574.7 963.0,573.6 964.0,572.6 965.0,571.9 966.0,571.4 967.0,571.2 968.0,571.2 969.0,571.5 970.0,572.0 971.0,572.8 972.0,573.8 973.0,575.0 974.0,576.4 975.0,577.9 976.0,579.7 977.0,581.6 978.0,583.6 979.0,585.8 980.0,588.0 981.0,590.2 982.0,592.6 983.0,594.9 984.0,597.2 985.0,599.5 986.0,601.8 987.0,604.0 988.0,606.2 989.0,608.2 990.0,610.2 991.0,612.1 992.0,613.9 993.0,615.5 994.0,617.1 995.0,618.5 996.1,619.9 997.1,621.1 998.1,622.2 999.1,623.2 1000.1,624.1 1001.1,624.9 1002.1,625.6 1003.1,626.2 1004.1,626.8 1005.1,627.2 1006.1,627.6 1007.1,627.9 1008.1,628.1 1009.1,628.3 1010.1,628.4 1011.1,628.4 1012.1,628.3 1013.1,628.2 1014.1,628.0 1015.1,627.8 1016.1,627.4 1017.1,627.0 1018.1,626.5 1019.1,626.0 1020.1,625.3 1021.1,624.6 1022.1,623.7 1023.1,622.8 1024.1,621.7 1025.1,620.5 1026.1,619.2 1027.1,617.8 1028.1,616.3 1029.1,614.7 1030.1,613.0 1031.1,611.1 1032.1,609.1 1033.1,607.1 1034.1,604.9 1035.1,602.7 1036.1,600.4 1037.1,598.1 1038.2,595.7 1039.2,593.3 1040.2,590.9 1041.2,588.6 1042.2,586.3 1043.2,584.0 1044.2,581.9 1045.2,579.8 1046.2,577.9 1047.2,576.1 1048.2,574.6 1049.2,573.2 1050.2,572.0 1051.2,571.1 1052.2,570.4 1053.2,569.9 1054.2,569.7 1055.2,569.8 1056.2,570.1 1057.2,570.6 1058.2,571.4 1059.2,572.4 1060.2,573.7 1061.2,575.1 1062.2,576.8 1063.2,578.6 1064.2,580.6 1065.2,582.7 1066.2,584.9 1067.2,587.1 1068.2,589.5 1069.2,591.9 1070.2,594.2 1071.2,596.6 1072.2,599.0 1073.2,601.3 1074.2,603.6 1075.2,605.8 1076.2,607.9 1077.2,609.9 1078.2,611.8 1079.2,613.6 1080.3,615.4 1081.3,616.9 1082.3,618.4 1083.3,619.8 1084.3,621.0 1085.3,622.2 1086.3,623.2 1087.3,624.2 1088.3,625.0 1089.3,625.8 1090.3,626.4 1091.3,627.0 1092.3,627.6 1093.3,628.0 1094.3,628.4 1095.3,628.8 1096.3,629.1 1097.3,629.3 1098.3,629.6 1099.3,629.8 1100.3,629.9 1101.3,630.1 L1101.3,630.7Z" fill="#7cffac" fill-opacity="0.5"/><path d="M762.5,630.7 763.5,630.7 764.5,630.7 765.5,630.7 766.5,630.6 767.5,630.6 768.5,630.6 769.5,630.6 770.5,630.5 771.5,630.5 772.5,630.4 773.5,630.4 774.5,630.3 775.5,630.2 776.5,630.1 777.5,630.0 778.5,629.9 779.5,629.7 780.5,629.6 781.5,629.4 782.5,629.2 783.5,629.1 784.6,628.9 785.6,628.7 786.6,628.6 787.6,628.4 788.6,628.3 789.6,628.2 790.6,628.1 791.6,628.0 792.6,627.9 793.6,627.9 794.6,627.9 795.6,627.9 796.6,628.0 797.6,628.1 798.6,628.2 799.6,628.3 800.6,628.4 801.6,628.6 802.6,628.8 803.6,628.9 804.6,629.1 805.6,629.3 806.6,629.4 807.6,629.6 808.6,629.7 809.6,629.9 810.6,630.0 811.6,630.1 812.6,630.2 813.6,630.3 814.6,630.4 815.6,630.4 816.6,630.5 817.6,630.5 818.6,630.5 819.6,630.6 820.6,630.6 821.6,630.6 822.6,630.6 823.6,630.6 824.6,630.6 825.6,630.6 826.7,630.5 827.7,630.5 828.7,630.5 829.7,630.4 830.7,630.4 831.7,630.3 832.7,630.2 833.7,630.1 834.7,629.9 835.7,629.8 836.7,629.6 837.7,629.4 838.7,629.1 839.7,628.8 840.7,628.5 841.7,628.1 842.7,627.6 843.7,627.1 844.7,626.6 845.7,625.9 846.7,625.2 847.7,624.3 848.7,623.4 849.7,622.4 850.7,621.3 851.7,620.1 852.7,618.8 853.7,617.4 854.7,615.8 855.7,614.2 856.7,612.5 857.7,610.6 858.7,608.7 859.7,606.7 860.7,604.6 861.7,602.4 862.7,600.2 863.7,597.9 864.7,595.7 865.7,593.4 866.7,591.1 867.7,588.9 868.8,586.8 869.8,584.7 870.8,582.7 871.8,580.9 872.8,579.2 873.8,577.6 874.8,576.3 875.8,575.1 876.8,574.2 877.8,573.5 878.8,573.0 879.8,572.7 880.8,572.7 881.8,573.0 882.8,573.4 883.8,574.1 884.8,575.1 885.8,576.2 886.8,577.6 887.8,579.1 888.8,580.8 889.8,582.6 890.8,584.6 891.8,586.7 892.8,588.8 893.8,591.0 894.8,593.3 895.8,595.6 896.8,597.8 897.8,600.1 898.8,602.3 899.8,604.5 900.8,606.6 901.8,608.6 902.8,610.5 903.8,612.4 904.8,614.1 905.8,615.8 906.8,617.3 907.8,618.7 908.8,620.0 909.8,621.2 910.9,622.3 911.9,623.3 912.9,624.2 913.9,625.0 914.9,625.7 915.9,626.3 916.9,626.8 917.9,627.3 918.9,627.6 919.9,627.9 920.9,628.2 921.9,628.3 922.9,628.4 923.9,628.4 924.9,628.4 925.9,628.3 926.9,628.1 927.9,627.9 928.9,627.6 929.9,627.2 930.9,626.7 931.9,626.2 932.9,625.5 933.9,624.8 934.9,624.0 935.9,623.1 936.9,622.0 937.9,620.9 938.9,619.7 939.9,618.3 940.9,616.8 941.9,615.3 942.9,613.6 943.9,611.8 944.9,609.9 945.9,607.9 946.9,605.8 947.9,603.6 948.9,601.4 949.9,599.1 950.9,596.8 951.9,594.5 952.9,592.2 954.0,589.9 955.0,587.6 956.0,585.4 957.0,583.3 958.0,581.3 959.0,579.4 960.0,577.7 961.0,576.1 962.0,574.7 963.0,573.6 964.0,572.6 965.0,571.9 966.0,571.4 967.0,571.2 968.0,571.2 969.0,571.5 970.0,572.0 971.0,572.8 972.0,573.8 973.0,575.0 974.0,576.4 975.0,577.9 976.0,579.7 977.0,581.6 978.0,583.6 979.0,585.8 980.0,588.0 981.0,590.2 982.0,592.6 983.0,594.9 984.0,597.2 985.0,599.5 986.0,601.8 987.0,604.0 988.0,606.2 989.0,608.2 990.0,610.2 991.0,612.1 992.0,613.9 993.0,615.5 994.0,617.1 995.0,618.5 996.1,619.9 997.1,621.1 998.1,622.2 999.1,623.2 1000.1,624.1 1001.1,624.9 1002.1,625.6 1003.1,626.2 1004.1,626.8 1005.1,627.2 1006.1,627.6 1007.1,627.9 1008.1,628.1 1009.1,628.3 1010.1,628.4 1011.1,628.4 1012.1,628.3 1013.1,628.2 1014.1,628.0 1015.1,627.8 1016.1,627.4 1017.1,627.0 1018.1,626.5 1019.1,626.0 1020.1,625.3 1021.1,624.6 1022.1,623.7 1023.1,622.8 1024.1,621.7 1025.1,620.5 1026.1,619.2 1027.1,617.8 1028.1,616.3 1029.1,614.7 1030.1,613.0 1031.1,611.1 1032.1,609.1 1033.1,607.1 1034.1,604.9 1035.1,602.7 1036.1,600.4 1037.1,598.1 1038.2,595.7 1039.2,593.3 1040.2,590.9 1041.2,588.6 1042.2,586.3 1043.2,584.0 1044.2,581.9 1045.2,579.8 1046.2,577.9 1047.2,576.1 1048.2,574.6 1049.2,573.2 1050.2,572.0 1051.2,571.1 1052.2,570.4 1053.2,569.9 1054.2,569.7 1055.2,569.8 1056.2,570.1 1057.2,570.6 1058.2,571.4 1059.2,572.4 1060.2,573.7 1061.2,575.1 1062.2,576.8 1063.2,578.6 1064.2,580.6 1065.2,582.7 1066.2,584.9 1067.2,587.1 1068.2,589.5 1069.2,591.9 1070.2,594.2 1071.2,596.6 1072.2,599.0 1073.2,601.3 1074.2,603.6 1075.2,605.8 1076.2,607.9 1077.2,609.9 1078.2,611.8 1079.2,613.6 1080.3,615.4 1081.3,616.9 1082.3,618.4 1083.3,619.8 1084.3,621.0 1085.3,622.2 1086.3,623.2 1087.3,624.2 1088.3,625.0 1089.3,625.8 1090.3,626.4 1091.3,627.0 1092.3,627.6 1093.3,628.0 1094.3,628.4 1095.3,628.8 1096.3,629.1 1097.3,629.3 1098.3,629.6 1099.3,629.8 1100.3,629.9 1101.3,630.1" fill="none" stroke="#7ee69c" stroke-width="2.2" stroke-linejoin="round"/></g><g clip-path="url(#c4r)"><path d="M1126.5,651.7 L1126.5,651.7 1126.5,652.7 1126.5,653.7 1126.5,654.7 1126.5,655.7 1126.5,656.7 1126.5,657.7 1126.5,658.7 1126.5,659.7 1126.5,660.7 1126.5,661.7 1126.5,662.7 1126.5,663.7 1126.5,664.7 1126.5,665.7 1126.5,666.7 1126.5,667.7 1126.5,668.7 1126.5,669.7 1126.5,670.7 1126.5,671.7 1126.5,672.7 1126.5,673.7 1126.5,674.7 1126.5,675.7 1126.5,676.7 1126.5,677.7 1126.5,678.7 1126.5,679.7 1126.5,680.7 1126.5,681.7 1126.5,682.7 1126.5,683.7 1126.5,684.7 1126.5,685.7 1126.5,686.7 1126.5,687.7 1126.5,688.7 1126.5,689.7 1126.5,690.7 1126.5,691.7 1126.5,692.7 1126.5,693.7 1126.5,694.7 1126.5,695.7 1126.5,696.7 1126.5,697.7 1126.5,698.7 1126.5,699.7 1126.5,700.7 1126.5,701.7 1126.5,702.7 1126.5,703.7 1126.5,704.7 1126.5,705.7 1126.5,706.7 1126.5,707.7 1126.5,708.7 1126.5,709.7 1126.5,710.7 1126.5,711.7 1126.5,712.7 1126.5,713.7 1126.6,714.7 1126.6,715.7 1126.6,716.7 1126.6,717.7 1126.6,718.7 1126.6,719.7 1126.6,720.7 1126.6,721.7 1126.6,722.7 1126.6,723.7 1126.6,724.7 1126.6,725.7 1126.6,726.7 1126.6,727.7 1126.6,728.7 1126.6,729.7 1126.6,730.7 1126.6,731.7 1126.6,732.7 1126.6,733.7 1126.6,734.7 1126.6,735.7 1126.6,736.7 1126.6,737.7 1126.6,738.7 1126.7,739.7 1126.7,740.7 1126.7,741.7 1126.7,742.7 1126.7,743.7 1126.7,744.7 1126.7,745.7 1126.7,746.7 1126.7,747.7 1126.7,748.7 1126.7,749.7 1126.7,750.7 1126.7,751.7 1126.8,752.7 1126.8,753.7 1126.8,754.7 1126.8,755.7 1126.8,756.7 1126.8,757.7 1126.8,758.7 1126.8,759.7 1126.8,760.7 1126.8,761.7 1126.9,762.7 1126.9,763.7 1126.9,764.7 1126.9,765.7 1126.9,766.7 1126.9,767.7 1126.9,768.7 1126.9,769.7 1127.0,770.7 1127.0,771.7 1127.0,772.7 1127.0,773.7 1127.0,774.7 1127.0,775.7 1127.0,776.7 1127.1,777.7 1127.1,778.7 1127.1,779.7 1127.1,780.7 1127.1,781.7 1127.1,782.7 1127.2,783.7 1127.2,784.7 1127.2,785.7 1127.2,786.7 1127.2,787.7 1127.2,788.7 1127.3,789.7 1127.3,790.7 1127.3,791.7 1127.3,792.7 1127.3,793.7 1127.3,794.7 1127.4,795.7 1127.4,796.7 1127.4,797.7 1127.4,798.7 1127.4,799.7 1127.4,800.7 1127.5,801.7 1127.5,802.7 1127.5,803.7 1127.5,804.7 1127.5,805.7 1127.5,806.7 1127.6,807.7 1127.6,808.7 1127.6,809.7 1127.6,810.7 1127.6,811.7 1127.6,812.7 1127.7,813.7 1127.7,814.7 1127.7,815.7 1127.7,816.7 1127.7,817.7 1127.7,818.7 1127.8,819.7 1127.8,820.7 1127.8,821.7 1127.8,822.7 1127.8,823.7 1127.8,824.7 1127.8,825.7 1127.9,826.7 1127.9,827.7 1127.9,828.7 1127.9,829.7 1127.9,830.7 1127.9,831.7 1127.9,832.7 1127.9,833.7 1128.0,834.7 1128.0,835.7 1128.0,836.7 1128.0,837.7 1128.0,838.7 1128.0,839.7 1128.0,840.7 1128.0,841.7 1128.0,842.7 1128.0,843.7 1128.0,844.7 1128.1,845.7 1128.1,846.7 1128.1,847.7 1128.1,848.7 1128.1,849.7 1128.1,850.7 1128.1,851.7 1128.1,852.7 1128.1,853.7 1128.2,854.7 1128.2,855.7 1128.2,856.7 1128.2,857.7 1128.2,858.7 1128.3,859.7 1128.3,860.7 1128.3,861.7 1128.3,862.7 1128.4,863.7 1128.4,864.7 1128.4,865.7 1128.5,866.7 1128.5,867.7 1128.6,868.7 1128.6,869.7 1128.7,870.7 1128.8,871.7 1128.8,872.7 1128.9,873.7 1129.0,874.7 1129.1,875.7 1129.2,876.7 1129.3,877.7 1129.4,878.7 1129.5,879.7 1129.7,880.7 1129.8,881.7 1129.9,882.7 1130.1,883.7 1130.2,884.7 1130.4,885.7 1130.6,886.7 1130.8,887.7 1131.0,888.7 1131.2,889.7 1131.4,890.7 1131.6,891.7 1131.8,892.7 1132.0,893.7 1132.3,894.7 1132.5,895.7 1132.7,896.7 1133.0,897.7 1133.2,898.7 1133.5,899.7 1133.7,900.7 1134.0,901.7 1134.2,902.7 1134.5,903.7 1134.7,904.7 1135.0,905.7 1135.2,906.7 1135.5,907.7 1135.7,908.7 1135.9,909.7 1136.2,910.7 1136.4,911.7 1136.6,912.7 1136.8,913.7 1137.0,914.7 1137.2,915.7 1137.4,916.7 1137.6,917.7 1137.8,918.7 1138.0,919.7 1138.2,920.7 1138.4,921.7 1138.6,922.7 1138.9,923.7 1139.1,924.7 1139.4,925.7 1139.7,926.7 1140.0,927.7 1140.4,928.7 1140.8,929.7 1141.3,930.7 1141.8,931.7 1142.4,932.7 1143.0,933.7 1143.7,934.7 1144.5,935.7 1145.4,936.7 1146.3,937.7 1147.3,938.7 1148.3,939.7 1149.5,940.7 1150.7,941.7 1152.0,942.7 1153.4,943.7 1154.8,944.7 1156.4,945.7 1158.0,946.7 1159.6,947.7 1161.3,948.7 1163.1,949.7 1164.9,950.7 1166.8,951.7 1168.6,952.7 1170.5,953.7 1172.5,954.7 1174.4,955.7 1176.2,956.7 1178.1,957.7 1179.9,958.7 1181.5,959.7 1183.1,960.7 1184.6,961.7 1185.8,962.7 1186.9,963.7 1187.8,964.7 1188.4,965.7 1188.8,966.7 1188.9,967.7 1188.7,968.7 1188.2,969.7 1187.4,970.7 1186.2,971.7 1184.8,972.7 1183.1,973.7 1181.2,974.7 1179.0,975.7 1176.6,976.7 1174.0,977.7 1171.2,978.7 1168.4,979.7 1165.5,980.7 1162.5,981.7 1159.6,982.7 1156.7,983.7 1153.9,984.7 1151.1,985.7 1148.5,986.7 1146.1,987.7 1143.8,988.7 1141.6,989.7 1139.7,990.7 1137.9,991.7 1136.3,992.7 1134.8,993.7 1133.6,994.7 1132.4,995.7 1131.5,996.7 1130.6,997.7 1129.9,998.7 1129.3,999.7 1128.8,1000.7 1128.3,1001.7 1128.0,1002.7 1127.7,1003.7 1127.4,1004.7 1127.2,1005.7 1127.1,1006.7 1126.9,1007.7 1126.8,1008.7 1126.8,1009.7 1126.7,1010.7 1126.7,1011.7 1126.6,1012.7 1126.6,1013.7 1126.6,1014.7 1126.6,1015.7 1126.5,1016.7 1126.5,1017.7 1126.5,1018.7 1126.5,1019.7 L1126.5,1019.7Z" fill="#7cffac" fill-opacity="0.5"/><path d="M1126.5,651.7 1126.5,652.7 1126.5,653.7 1126.5,654.7 1126.5,655.7 1126.5,656.7 1126.5,657.7 1126.5,658.7 1126.5,659.7 1126.5,660.7 1126.5,661.7 1126.5,662.7 1126.5,663.7 1126.5,664.7 1126.5,665.7 1126.5,666.7 1126.5,667.7 1126.5,668.7 1126.5,669.7 1126.5,670.7 1126.5,671.7 1126.5,672.7 1126.5,673.7 1126.5,674.7 1126.5,675.7 1126.5,676.7 1126.5,677.7 1126.5,678.7 1126.5,679.7 1126.5,680.7 1126.5,681.7 1126.5,682.7 1126.5,683.7 1126.5,684.7 1126.5,685.7 1126.5,686.7 1126.5,687.7 1126.5,688.7 1126.5,689.7 1126.5,690.7 1126.5,691.7 1126.5,692.7 1126.5,693.7 1126.5,694.7 1126.5,695.7 1126.5,696.7 1126.5,697.7 1126.5,698.7 1126.5,699.7 1126.5,700.7 1126.5,701.7 1126.5,702.7 1126.5,703.7 1126.5,704.7 1126.5,705.7 1126.5,706.7 1126.5,707.7 1126.5,708.7 1126.5,709.7 1126.5,710.7 1126.5,711.7 1126.5,712.7 1126.5,713.7 1126.6,714.7 1126.6,715.7 1126.6,716.7 1126.6,717.7 1126.6,718.7 1126.6,719.7 1126.6,720.7 1126.6,721.7 1126.6,722.7 1126.6,723.7 1126.6,724.7 1126.6,725.7 1126.6,726.7 1126.6,727.7 1126.6,728.7 1126.6,729.7 1126.6,730.7 1126.6,731.7 1126.6,732.7 1126.6,733.7 1126.6,734.7 1126.6,735.7 1126.6,736.7 1126.6,737.7 1126.6,738.7 1126.7,739.7 1126.7,740.7 1126.7,741.7 1126.7,742.7 1126.7,743.7 1126.7,744.7 1126.7,745.7 1126.7,746.7 1126.7,747.7 1126.7,748.7 1126.7,749.7 1126.7,750.7 1126.7,751.7 1126.8,752.7 1126.8,753.7 1126.8,754.7 1126.8,755.7 1126.8,756.7 1126.8,757.7 1126.8,758.7 1126.8,759.7 1126.8,760.7 1126.8,761.7 1126.9,762.7 1126.9,763.7 1126.9,764.7 1126.9,765.7 1126.9,766.7 1126.9,767.7 1126.9,768.7 1126.9,769.7 1127.0,770.7 1127.0,771.7 1127.0,772.7 1127.0,773.7 1127.0,774.7 1127.0,775.7 1127.0,776.7 1127.1,777.7 1127.1,778.7 1127.1,779.7 1127.1,780.7 1127.1,781.7 1127.1,782.7 1127.2,783.7 1127.2,784.7 1127.2,785.7 1127.2,786.7 1127.2,787.7 1127.2,788.7 1127.3,789.7 1127.3,790.7 1127.3,791.7 1127.3,792.7 1127.3,793.7 1127.3,794.7 1127.4,795.7 1127.4,796.7 1127.4,797.7 1127.4,798.7 1127.4,799.7 1127.4,800.7 1127.5,801.7 1127.5,802.7 1127.5,803.7 1127.5,804.7 1127.5,805.7 1127.5,806.7 1127.6,807.7 1127.6,808.7 1127.6,809.7 1127.6,810.7 1127.6,811.7 1127.6,812.7 1127.7,813.7 1127.7,814.7 1127.7,815.7 1127.7,816.7 1127.7,817.7 1127.7,818.7 1127.8,819.7 1127.8,820.7 1127.8,821.7 1127.8,822.7 1127.8,823.7 1127.8,824.7 1127.8,825.7 1127.9,826.7 1127.9,827.7 1127.9,828.7 1127.9,829.7 1127.9,830.7 1127.9,831.7 1127.9,832.7 1127.9,833.7 1128.0,834.7 1128.0,835.7 1128.0,836.7 1128.0,837.7 1128.0,838.7 1128.0,839.7 1128.0,840.7 1128.0,841.7 1128.0,842.7 1128.0,843.7 1128.0,844.7 1128.1,845.7 1128.1,846.7 1128.1,847.7 1128.1,848.7 1128.1,849.7 1128.1,850.7 1128.1,851.7 1128.1,852.7 1128.1,853.7 1128.2,854.7 1128.2,855.7 1128.2,856.7 1128.2,857.7 1128.2,858.7 1128.3,859.7 1128.3,860.7 1128.3,861.7 1128.3,862.7 1128.4,863.7 1128.4,864.7 1128.4,865.7 1128.5,866.7 1128.5,867.7 1128.6,868.7 1128.6,869.7 1128.7,870.7 1128.8,871.7 1128.8,872.7 1128.9,873.7 1129.0,874.7 1129.1,875.7 1129.2,876.7 1129.3,877.7 1129.4,878.7 1129.5,879.7 1129.7,880.7 1129.8,881.7 1129.9,882.7 1130.1,883.7 1130.2,884.7 1130.4,885.7 1130.6,886.7 1130.8,887.7 1131.0,888.7 1131.2,889.7 1131.4,890.7 1131.6,891.7 1131.8,892.7 1132.0,893.7 1132.3,894.7 1132.5,895.7 1132.7,896.7 1133.0,897.7 1133.2,898.7 1133.5,899.7 1133.7,900.7 1134.0,901.7 1134.2,902.7 1134.5,903.7 1134.7,904.7 1135.0,905.7 1135.2,906.7 1135.5,907.7 1135.7,908.7 1135.9,909.7 1136.2,910.7 1136.4,911.7 1136.6,912.7 1136.8,913.7 1137.0,914.7 1137.2,915.7 1137.4,916.7 1137.6,917.7 1137.8,918.7 1138.0,919.7 1138.2,920.7 1138.4,921.7 1138.6,922.7 1138.9,923.7 1139.1,924.7 1139.4,925.7 1139.7,926.7 1140.0,927.7 1140.4,928.7 1140.8,929.7 1141.3,930.7 1141.8,931.7 1142.4,932.7 1143.0,933.7 1143.7,934.7 1144.5,935.7 1145.4,936.7 1146.3,937.7 1147.3,938.7 1148.3,939.7 1149.5,940.7 1150.7,941.7 1152.0,942.7 1153.4,943.7 1154.8,944.7 1156.4,945.7 1158.0,946.7 1159.6,947.7 1161.3,948.7 1163.1,949.7 1164.9,950.7 1166.8,951.7 1168.6,952.7 1170.5,953.7 1172.5,954.7 1174.4,955.7 1176.2,956.7 1178.1,957.7 1179.9,958.7 1181.5,959.7 1183.1,960.7 1184.6,961.7 1185.8,962.7 1186.9,963.7 1187.8,964.7 1188.4,965.7 1188.8,966.7 1188.9,967.7 1188.7,968.7 1188.2,969.7 1187.4,970.7 1186.2,971.7 1184.8,972.7 1183.1,973.7 1181.2,974.7 1179.0,975.7 1176.6,976.7 1174.0,977.7 1171.2,978.7 1168.4,979.7 1165.5,980.7 1162.5,981.7 1159.6,982.7 1156.7,983.7 1153.9,984.7 1151.1,985.7 1148.5,986.7 1146.1,987.7 1143.8,988.7 1141.6,989.7 1139.7,990.7 1137.9,991.7 1136.3,992.7 1134.8,993.7 1133.6,994.7 1132.4,995.7 1131.5,996.7 1130.6,997.7 1129.9,998.7 1129.3,999.7 1128.8,1000.7 1128.3,1001.7 1128.0,1002.7 1127.7,1003.7 1127.4,1004.7 1127.2,1005.7 1127.1,1006.7 1126.9,1007.7 1126.8,1008.7 1126.8,1009.7 1126.7,1010.7 1126.7,1011.7 1126.6,1012.7 1126.6,1013.7 1126.6,1014.7 1126.6,1015.7 1126.5,1016.7 1126.5,1017.7 1126.5,1018.7 1126.5,1019.7" fill="none" stroke="#7ee69c" stroke-width="2.2" stroke-linejoin="round"/></g><g fill="#282828" stroke="#282828" stroke-width="0.6"><text transform="translate(725.4 1007.8) scale(1 1.05)" text-anchor="end" font-size="27.6">0</text><text transform="translate(725.4 933.8) scale(1 1.05)" text-anchor="end" font-size="27.6">50</text><text transform="translate(725.4 859.8) scale(1 1.05)" text-anchor="end" font-size="27.6">100</text><text transform="translate(725.4 785.8) scale(1 1.05)" text-anchor="end" font-size="27.6">150</text><text transform="translate(725.4 711.8) scale(1 1.05)" text-anchor="end" font-size="27.6">200</text><text transform="translate(793.3 1052.2) scale(1 1.05)" text-anchor="middle" font-size="27.6">0</text><text transform="translate(919.2 1052.2) scale(1 1.05)" text-anchor="middle" font-size="27.6">20</text><text transform="translate(1044.8 1052.2) scale(1 1.05)" text-anchor="middle" font-size="27.6">40</text><text x="923.6" y="1081.7" text-anchor="middle" font-size="29.9">Confining Stress</text><text transform="translate(669.7 834.7) rotate(-90)" text-anchor="middle" font-size="29.9">Resilient Modulus</text></g><clipPath id="c5m"><rect x="95.5" y="1203.3" width="377.8" height="380.5"/></clipPath><clipPath id="c5t"><rect x="95.5" y="1124.6" width="377.8" height="65"/></clipPath><clipPath id="c5r"><rect x="487.3" y="1203.3" width="64.9" height="380.5"/></clipPath><rect x="95.5" y="1203.3" width="377.8" height="380.5" fill="#e0e0f8"/><rect x="95.5" y="1124.6" width="377.8" height="65" fill="#e0e0f8"/><rect x="487.3" y="1203.3" width="64.9" height="380.5" fill="#e0e0f8"/><path d="M140.6 1203.3V1583.8M140.6 1124.6V1189.6M285.3 1203.3V1583.8M285.3 1124.6V1189.6M430 1203.3V1583.8M430 1124.6V1189.6M95.5 1557.6H473.3M487.3 1557.6H552.2M95.5 1483.6H473.3M487.3 1483.6H552.2M95.5 1409.6H473.3M487.3 1409.6H552.2M95.5 1335.6H473.3M487.3 1335.6H552.2M95.5 1261.6H473.3M487.3 1261.6H552.2" stroke="#eeeefb" stroke-width="2" fill="none"/><g clip-path="url(#c5m)"><path d="M137.5,1379.3 141.5,1378.7 146.5,1378.8 150.5,1379.4 155.5,1381.0 164.5,1385.5 167.9,1388.3 170.1,1391.3 170.9,1393.3 171.2,1396.3 170.5,1399.2 169.2,1401.3 165.5,1404.0 156.1,1407.3 153.9,1409.3 153.3,1411.3 153.5,1414.3 155.2,1418.3 158.5,1423.3 162.5,1428.0 166.2,1431.3 169.5,1433.6 184.5,1440.1 192.5,1444.6 199.5,1450.0 217.5,1466.1 224.5,1470.7 232.5,1474.8 241.5,1478.5 249.5,1481.0 255.5,1481.9 259.1,1481.3 261.5,1479.9 263.5,1477.2 268.7,1458.3 271.5,1453.1 275.2,1449.3 277.5,1447.9 280.5,1446.9 285.5,1446.8 291.5,1449.0 296.5,1452.7 300.5,1457.1 304.5,1462.6 307.7,1468.3 310.2,1474.3 312.7,1484.3 314.6,1503.3 320.4,1522.3 320.8,1528.3 320.0,1533.3 317.5,1539.3 313.8,1544.3 307.5,1549.7 300.5,1553.6 293.5,1556.0 284.5,1557.6 273.5,1557.8 256.5,1555.9 249.5,1555.5 212.5,1557.8 167.5,1557.9 150.5,1556.8 137.5,1553.8 129.5,1550.8 123.5,1547.7 118.2,1544.3 113.3,1540.3 109.8,1536.3 108.0,1533.3 106.6,1529.3 106.1,1525.3 106.5,1520.3 109.5,1507.3 110.2,1501.3 109.9,1466.3 111.2,1448.3 113.1,1431.3 115.2,1420.3 119.4,1405.3 121.8,1394.3 123.2,1390.3 125.6,1386.3 128.7,1383.3 132.5,1381.0 137.5,1379.3ZM419.5,1517.1 425.5,1516.4 432.5,1517.8 438.5,1520.9 443.3,1525.3 446.5,1530.3 448.0,1536.3 447.7,1539.3 446.7,1542.3 443.5,1546.3 440.5,1548.2 436.5,1549.4 432.5,1549.6 428.5,1549.1 424.5,1547.8 420.5,1545.8 417.1,1543.3 414.3,1540.3 412.2,1537.3 410.5,1533.3 409.9,1529.3 410.2,1526.3 411.4,1523.3 413.5,1520.5 416.4,1518.3 419.5,1517.1Z" fill="#6dee87"/><path d="M135.5,1427.3 138.5,1427.7 142.5,1430.1 146.5,1434.2 150.0,1439.3 154.1,1447.3 158.1,1457.3 166.5,1483.4 169.5,1488.3 172.5,1490.8 177.5,1493.0 184.5,1494.5 199.5,1496.3 218.5,1497.7 226.5,1498.9 253.5,1505.4 261.5,1505.6 283.5,1503.4 289.5,1503.5 294.5,1504.5 298.5,1506.4 302.5,1509.7 306.1,1514.3 308.7,1519.3 310.0,1524.3 310.2,1528.3 309.1,1533.3 307.2,1537.3 302.5,1542.7 296.5,1546.6 289.5,1549.1 280.5,1550.2 271.5,1549.4 254.5,1544.7 247.5,1543.9 213.5,1546.7 177.5,1548.4 161.5,1548.2 154.5,1547.5 146.5,1545.8 139.5,1543.3 133.5,1540.1 128.6,1536.3 125.0,1532.3 122.7,1528.3 121.0,1523.3 120.5,1517.3 121.1,1501.3 119.8,1484.3 119.6,1475.3 121.1,1457.3 122.7,1448.3 124.8,1440.3 127.2,1434.3 129.5,1430.7 132.5,1428.1 135.5,1427.3Z" fill="#5eeb7c"/><path d="M135.5,1447.9 137.5,1447.4 140.5,1448.0 143.5,1450.3 146.5,1453.9 149.5,1458.9 153.0,1466.3 160.5,1488.3 163.2,1492.3 167.5,1495.5 172.0,1497.3 180.3,1499.3 205.5,1504.2 229.5,1507.6 251.5,1512.5 258.5,1512.4 271.5,1509.7 278.5,1508.8 284.5,1508.9 290.5,1509.9 294.5,1511.5 297.5,1513.4 300.5,1516.2 302.6,1519.3 304.2,1523.3 304.7,1527.3 304.2,1531.3 303.0,1534.3 299.5,1539.0 294.5,1542.7 288.5,1545.0 281.5,1546.0 276.5,1545.8 271.5,1544.8 255.5,1538.7 249.5,1537.5 243.5,1537.8 220.5,1541.0 172.5,1544.2 162.5,1543.9 154.5,1542.9 147.5,1541.2 141.5,1538.7 135.5,1534.9 131.1,1530.3 127.9,1524.3 126.8,1518.3 127.5,1501.3 126.0,1482.3 126.5,1470.2 127.9,1462.3 130.1,1455.3 132.5,1450.7 135.5,1447.9Z" fill="#4ee870"/><path d="M139.5,1464.3 141.5,1464.7 143.5,1466.1 147.4,1471.3 150.1,1477.3 154.0,1489.3 155.6,1492.3 158.5,1495.6 163.0,1498.3 170.5,1500.7 202.5,1507.8 230.5,1512.7 250.5,1519.0 253.5,1519.1 256.5,1518.6 268.5,1514.3 274.5,1512.9 281.5,1512.3 287.5,1513.1 293.5,1515.6 296.5,1518.0 298.3,1520.3 299.8,1523.3 300.5,1526.3 300.4,1529.3 299.5,1532.3 296.9,1536.3 292.5,1539.8 287.5,1541.9 281.5,1542.8 276.5,1542.4 270.5,1540.9 264.9,1538.3 255.5,1532.6 250.5,1531.1 245.5,1531.6 232.5,1535.0 223.5,1536.6 177.5,1541.0 168.5,1541.2 160.5,1540.6 152.5,1539.1 146.5,1537.1 140.5,1533.8 135.7,1529.3 132.7,1524.3 131.5,1519.3 131.5,1514.3 133.3,1499.3 132.2,1484.3 132.5,1476.3 133.6,1471.3 135.4,1467.3 137.5,1465.0 139.5,1464.3Z" fill="#3ce563"/><path d="M143.5,1495.0 145.5,1494.7 154.7,1499.3 162.5,1501.9 182.5,1506.0 203.5,1511.5 228.5,1516.8 233.5,1518.8 237.3,1521.3 238.7,1523.3 238.7,1525.3 235.9,1528.3 231.9,1530.3 225.2,1532.3 216.5,1533.8 184.5,1537.8 174.5,1538.7 162.5,1538.3 152.5,1536.3 146.5,1533.9 141.3,1530.3 137.9,1526.3 135.8,1521.3 135.4,1516.3 136.5,1510.1 140.5,1499.7 142.5,1496.0 143.5,1495.0ZM274.5,1516.1 280.5,1515.4 285.5,1515.9 290.5,1517.8 293.7,1520.3 296.1,1524.3 296.7,1528.3 295.5,1532.3 293.2,1535.3 290.5,1537.3 286.5,1539.0 282.5,1539.8 278.5,1539.7 274.5,1538.9 270.5,1537.4 267.0,1535.3 263.6,1532.3 261.4,1529.3 260.6,1527.3 260.7,1525.3 261.7,1523.3 263.6,1521.3 266.5,1519.3 270.5,1517.3 274.5,1516.1Z" fill="#2ae055"/><path d="M147.5,1504.2 151.5,1503.6 156.5,1503.9 173.5,1506.5 183.5,1508.7 219.8,1519.3 224.1,1521.3 225.5,1522.6 226.1,1524.3 224.9,1526.3 223.4,1527.3 218.0,1529.3 185.5,1535.3 177.5,1536.3 169.5,1536.6 162.5,1536.1 156.5,1535.0 150.5,1533.0 145.5,1530.0 141.8,1526.3 139.7,1522.3 139.1,1517.3 140.5,1511.4 143.5,1506.8 147.5,1504.2ZM275.5,1519.1 279.5,1518.5 283.5,1518.7 287.5,1520.0 290.5,1522.1 292.0,1524.3 292.8,1527.3 292.3,1530.3 290.5,1533.1 286.5,1535.8 283.5,1536.6 280.5,1536.9 274.5,1535.7 269.5,1532.5 267.3,1529.3 266.8,1527.3 267.2,1525.3 268.4,1523.3 270.5,1521.4 275.5,1519.1Z" fill="#22d34b"/><path d="M153.5,1507.2 159.5,1507.1 168.5,1507.9 176.5,1509.2 184.5,1511.3 192.9,1514.3 204.2,1519.3 208.9,1522.3 209.5,1523.3 209.5,1524.3 207.4,1526.3 202.7,1528.3 192.7,1531.3 182.5,1533.5 175.5,1534.3 168.5,1534.5 162.5,1534.0 156.5,1532.7 150.6,1530.3 146.5,1527.3 144.2,1524.3 142.7,1520.3 143.1,1515.3 145.3,1511.3 148.5,1508.7 153.5,1507.2ZM278.5,1522.2 283.1,1522.3 286.8,1524.3 288.0,1526.3 288.2,1528.3 287.5,1530.2 286.5,1531.4 283.5,1533.0 279.5,1533.3 276.2,1532.3 273.6,1530.3 272.5,1527.3 273.2,1525.3 275.4,1523.3 278.5,1522.2Z" fill="#20b942"/><path d="M154.5,1510.3 160.5,1509.6 167.5,1509.9 175.5,1511.1 182.5,1513.0 190.3,1516.3 195.1,1519.3 197.7,1522.3 197.5,1524.3 195.6,1526.3 191.9,1528.3 186.1,1530.3 179.5,1531.8 173.5,1532.5 167.5,1532.5 162.5,1532.0 157.5,1530.8 153.5,1529.1 149.5,1526.3 147.3,1523.3 146.3,1520.3 146.5,1517.3 147.9,1514.3 150.5,1511.9 154.5,1510.3Z" fill="#1f9e3a"/><path d="M159.5,1512.2 164.5,1511.9 169.8,1512.3 175.4,1513.3 180.5,1514.9 185.7,1517.3 188.5,1519.3 190.0,1521.3 190.3,1523.3 189.0,1525.3 185.9,1527.3 177.5,1529.8 167.5,1530.5 162.5,1529.8 158.5,1528.7 154.5,1526.7 151.8,1524.3 150.6,1522.3 150.1,1519.3 151.2,1516.3 153.3,1514.3 155.5,1513.2 159.5,1512.2Z" fill="#1e8a34"/><path d="M139.5,1338.2 143.5,1339.0 145.5,1340.3 147.5,1342.4 150.1,1347.3 151.4,1354.3 150.8,1360.3 148.4,1366.3 146.5,1368.8 144.5,1370.4 140.5,1371.8 136.5,1371.0 134.5,1369.7 132.2,1367.3 129.7,1362.3 128.6,1355.3 129.3,1349.3 131.8,1343.3 135.5,1339.6 139.5,1338.2Z" fill="#6dee87"/></g><g clip-path="url(#c5t)"><path d="M107.6,1189.6 L107.6,1188.9 108.6,1188.7 109.6,1188.5 110.6,1188.2 111.6,1187.9 112.6,1187.6 113.6,1187.1 114.6,1186.6 115.6,1186.0 116.6,1185.4 117.6,1184.6 118.6,1183.7 119.6,1182.7 120.6,1181.6 121.6,1180.4 122.6,1179.0 123.6,1177.5 124.6,1175.8 125.6,1174.0 126.6,1172.0 127.6,1169.9 128.6,1167.7 129.6,1165.3 130.6,1162.9 131.6,1160.3 132.6,1157.7 133.6,1155.0 134.6,1152.3 135.6,1149.7 136.6,1147.0 137.6,1144.4 138.6,1141.9 139.6,1139.5 140.6,1137.2 141.6,1135.1 142.6,1133.3 143.6,1131.6 144.6,1130.2 145.6,1129.0 146.6,1128.1 147.6,1127.4 148.6,1127.0 149.6,1126.8 150.7,1126.9 151.7,1127.2 152.7,1127.7 153.7,1128.4 154.7,1129.2 155.7,1130.1 156.7,1131.1 157.7,1132.2 158.7,1133.3 159.7,1134.4 160.7,1135.6 161.7,1136.6 162.7,1137.6 163.7,1138.5 164.7,1139.4 165.7,1140.1 166.7,1140.7 167.7,1141.3 168.7,1141.7 169.7,1142.1 170.7,1142.4 171.7,1142.6 172.7,1142.8 173.7,1142.9 174.7,1143.1 175.7,1143.2 176.7,1143.4 177.7,1143.5 178.7,1143.8 179.7,1144.0 180.7,1144.4 181.7,1144.8 182.7,1145.2 183.7,1145.8 184.7,1146.4 185.7,1147.1 186.7,1147.9 187.7,1148.7 188.7,1149.5 189.7,1150.4 190.7,1151.4 191.7,1152.3 192.7,1153.3 193.7,1154.2 194.7,1155.2 195.7,1156.1 196.7,1157.0 197.7,1157.9 198.7,1158.7 199.7,1159.4 200.7,1160.1 201.7,1160.8 202.7,1161.4 203.7,1161.9 204.7,1162.4 205.7,1162.8 206.7,1163.2 207.7,1163.5 208.7,1163.7 209.7,1164.0 210.7,1164.2 211.7,1164.3 212.7,1164.5 213.7,1164.6 214.7,1164.7 215.7,1164.8 216.7,1164.8 217.7,1164.9 218.7,1165.0 219.7,1165.1 220.7,1165.2 221.7,1165.3 222.7,1165.4 223.7,1165.5 224.7,1165.7 225.7,1165.8 226.7,1166.0 227.7,1166.2 228.7,1166.5 229.7,1166.7 230.7,1167.0 231.7,1167.3 232.7,1167.6 233.7,1167.9 234.7,1168.3 235.7,1168.6 236.8,1169.0 237.8,1169.4 238.8,1169.8 239.8,1170.2 240.8,1170.6 241.8,1171.1 242.8,1171.5 243.8,1171.9 244.8,1172.3 245.8,1172.7 246.8,1173.1 247.8,1173.4 248.8,1173.8 249.8,1174.1 250.8,1174.3 251.8,1174.6 252.8,1174.7 253.8,1174.8 254.8,1174.9 255.8,1174.9 256.8,1174.8 257.8,1174.7 258.8,1174.4 259.8,1174.1 260.8,1173.7 261.8,1173.2 262.8,1172.7 263.8,1172.0 264.8,1171.3 265.8,1170.5 266.8,1169.6 267.8,1168.7 268.8,1167.7 269.8,1166.7 270.8,1165.7 271.8,1164.6 272.8,1163.6 273.8,1162.6 274.8,1161.6 275.8,1160.7 276.8,1159.9 277.8,1159.2 278.8,1158.6 279.8,1158.1 280.8,1157.7 281.8,1157.5 282.8,1157.5 283.8,1157.6 284.8,1157.8 285.8,1158.2 286.8,1158.8 287.8,1159.5 288.8,1160.3 289.8,1161.3 290.8,1162.4 291.8,1163.6 292.8,1164.8 293.8,1166.1 294.8,1167.5 295.8,1168.9 296.8,1170.3 297.8,1171.8 298.8,1173.2 299.8,1174.5 300.8,1175.9 301.8,1177.2 302.8,1178.4 303.8,1179.6 304.8,1180.6 305.8,1181.7 306.8,1182.6 307.8,1183.5 308.8,1184.2 309.8,1184.9 310.8,1185.6 311.8,1186.2 312.8,1186.7 313.8,1187.1 314.8,1187.5 315.8,1187.8 316.8,1188.1 317.8,1188.4 318.8,1188.6 319.8,1188.8 320.8,1188.9 321.8,1189.0 322.9,1189.1 323.9,1189.2 324.9,1189.3 325.9,1189.4 326.9,1189.4 327.9,1189.4 328.9,1189.5 329.9,1189.5 330.9,1189.5 331.9,1189.5 332.9,1189.6 333.9,1189.6 334.9,1189.6 335.9,1189.6 336.9,1189.6 337.9,1189.6 338.9,1189.6 339.9,1189.6 340.9,1189.6 341.9,1189.6 342.9,1189.6 343.9,1189.6 344.9,1189.6 345.9,1189.6 346.9,1189.6 347.9,1189.6 348.9,1189.6 349.9,1189.6 350.9,1189.6 351.9,1189.6 352.9,1189.6 353.9,1189.6 354.9,1189.6 355.9,1189.6 356.9,1189.6 357.9,1189.6 358.9,1189.6 359.9,1189.6 360.9,1189.6 361.9,1189.6 362.9,1189.6 363.9,1189.6 364.9,1189.6 365.9,1189.6 366.9,1189.6 367.9,1189.6 368.9,1189.6 369.9,1189.6 370.9,1189.6 371.9,1189.6 372.9,1189.6 373.9,1189.6 374.9,1189.6 375.9,1189.6 376.9,1189.6 377.9,1189.6 378.9,1189.6 379.9,1189.6 380.9,1189.6 381.9,1189.6 382.9,1189.6 383.9,1189.6 384.9,1189.6 385.9,1189.6 386.9,1189.6 387.9,1189.6 388.9,1189.6 389.9,1189.6 390.9,1189.6 391.9,1189.6 392.9,1189.6 393.9,1189.5 394.9,1189.5 395.9,1189.5 396.9,1189.5 397.9,1189.5 398.9,1189.4 399.9,1189.4 400.9,1189.4 401.9,1189.3 402.9,1189.3 403.9,1189.2 404.9,1189.1 405.9,1189.1 406.9,1189.0 407.9,1188.9 409.0,1188.8 410.0,1188.7 411.0,1188.5 412.0,1188.4 413.0,1188.3 414.0,1188.1 415.0,1188.0 416.0,1187.8 417.0,1187.7 418.0,1187.5 419.0,1187.4 420.0,1187.2 421.0,1187.1 422.0,1186.9 423.0,1186.8 424.0,1186.7 425.0,1186.6 426.0,1186.6 427.0,1186.5 428.0,1186.5 429.0,1186.5 430.0,1186.5 431.0,1186.5 432.0,1186.6 433.0,1186.6 434.0,1186.7 435.0,1186.8 436.0,1187.0 437.0,1187.1 438.0,1187.2 439.0,1187.4 440.0,1187.5 441.0,1187.7 442.0,1187.9 443.0,1188.0 444.0,1188.2 445.0,1188.3 446.0,1188.4 447.0,1188.6 448.0,1188.7 449.0,1188.8 450.0,1188.9 451.0,1189.0 L451.0,1189.6Z" fill="#7cffac" fill-opacity="0.5"/><path d="M107.6,1188.9 108.6,1188.7 109.6,1188.5 110.6,1188.2 111.6,1187.9 112.6,1187.6 113.6,1187.1 114.6,1186.6 115.6,1186.0 116.6,1185.4 117.6,1184.6 118.6,1183.7 119.6,1182.7 120.6,1181.6 121.6,1180.4 122.6,1179.0 123.6,1177.5 124.6,1175.8 125.6,1174.0 126.6,1172.0 127.6,1169.9 128.6,1167.7 129.6,1165.3 130.6,1162.9 131.6,1160.3 132.6,1157.7 133.6,1155.0 134.6,1152.3 135.6,1149.7 136.6,1147.0 137.6,1144.4 138.6,1141.9 139.6,1139.5 140.6,1137.2 141.6,1135.1 142.6,1133.3 143.6,1131.6 144.6,1130.2 145.6,1129.0 146.6,1128.1 147.6,1127.4 148.6,1127.0 149.6,1126.8 150.7,1126.9 151.7,1127.2 152.7,1127.7 153.7,1128.4 154.7,1129.2 155.7,1130.1 156.7,1131.1 157.7,1132.2 158.7,1133.3 159.7,1134.4 160.7,1135.6 161.7,1136.6 162.7,1137.6 163.7,1138.5 164.7,1139.4 165.7,1140.1 166.7,1140.7 167.7,1141.3 168.7,1141.7 169.7,1142.1 170.7,1142.4 171.7,1142.6 172.7,1142.8 173.7,1142.9 174.7,1143.1 175.7,1143.2 176.7,1143.4 177.7,1143.5 178.7,1143.8 179.7,1144.0 180.7,1144.4 181.7,1144.8 182.7,1145.2 183.7,1145.8 184.7,1146.4 185.7,1147.1 186.7,1147.9 187.7,1148.7 188.7,1149.5 189.7,1150.4 190.7,1151.4 191.7,1152.3 192.7,1153.3 193.7,1154.2 194.7,1155.2 195.7,1156.1 196.7,1157.0 197.7,1157.9 198.7,1158.7 199.7,1159.4 200.7,1160.1 201.7,1160.8 202.7,1161.4 203.7,1161.9 204.7,1162.4 205.7,1162.8 206.7,1163.2 207.7,1163.5 208.7,1163.7 209.7,1164.0 210.7,1164.2 211.7,1164.3 212.7,1164.5 213.7,1164.6 214.7,1164.7 215.7,1164.8 216.7,1164.8 217.7,1164.9 218.7,1165.0 219.7,1165.1 220.7,1165.2 221.7,1165.3 222.7,1165.4 223.7,1165.5 224.7,1165.7 225.7,1165.8 226.7,1166.0 227.7,1166.2 228.7,1166.5 229.7,1166.7 230.7,1167.0 231.7,1167.3 232.7,1167.6 233.7,1167.9 234.7,1168.3 235.7,1168.6 236.8,1169.0 237.8,1169.4 238.8,1169.8 239.8,1170.2 240.8,1170.6 241.8,1171.1 242.8,1171.5 243.8,1171.9 244.8,1172.3 245.8,1172.7 246.8,1173.1 247.8,1173.4 248.8,1173.8 249.8,1174.1 250.8,1174.3 251.8,1174.6 252.8,1174.7 253.8,1174.8 254.8,1174.9 255.8,1174.9 256.8,1174.8 257.8,1174.7 258.8,1174.4 259.8,1174.1 260.8,1173.7 261.8,1173.2 262.8,1172.7 263.8,1172.0 264.8,1171.3 265.8,1170.5 266.8,1169.6 267.8,1168.7 268.8,1167.7 269.8,1166.7 270.8,1165.7 271.8,1164.6 272.8,1163.6 273.8,1162.6 274.8,1161.6 275.8,1160.7 276.8,1159.9 277.8,1159.2 278.8,1158.6 279.8,1158.1 280.8,1157.7 281.8,1157.5 282.8,1157.5 283.8,1157.6 284.8,1157.8 285.8,1158.2 286.8,1158.8 287.8,1159.5 288.8,1160.3 289.8,1161.3 290.8,1162.4 291.8,1163.6 292.8,1164.8 293.8,1166.1 294.8,1167.5 295.8,1168.9 296.8,1170.3 297.8,1171.8 298.8,1173.2 299.8,1174.5 300.8,1175.9 301.8,1177.2 302.8,1178.4 303.8,1179.6 304.8,1180.6 305.8,1181.7 306.8,1182.6 307.8,1183.5 308.8,1184.2 309.8,1184.9 310.8,1185.6 311.8,1186.2 312.8,1186.7 313.8,1187.1 314.8,1187.5 315.8,1187.8 316.8,1188.1 317.8,1188.4 318.8,1188.6 319.8,1188.8 320.8,1188.9 321.8,1189.0 322.9,1189.1 323.9,1189.2 324.9,1189.3 325.9,1189.4 326.9,1189.4 327.9,1189.4 328.9,1189.5 329.9,1189.5 330.9,1189.5 331.9,1189.5 332.9,1189.6 333.9,1189.6 334.9,1189.6 335.9,1189.6 336.9,1189.6 337.9,1189.6 338.9,1189.6 339.9,1189.6 340.9,1189.6 341.9,1189.6 342.9,1189.6 343.9,1189.6 344.9,1189.6 345.9,1189.6 346.9,1189.6 347.9,1189.6 348.9,1189.6 349.9,1189.6 350.9,1189.6 351.9,1189.6 352.9,1189.6 353.9,1189.6 354.9,1189.6 355.9,1189.6 356.9,1189.6 357.9,1189.6 358.9,1189.6 359.9,1189.6 360.9,1189.6 361.9,1189.6 362.9,1189.6 363.9,1189.6 364.9,1189.6 365.9,1189.6 366.9,1189.6 367.9,1189.6 368.9,1189.6 369.9,1189.6 370.9,1189.6 371.9,1189.6 372.9,1189.6 373.9,1189.6 374.9,1189.6 375.9,1189.6 376.9,1189.6 377.9,1189.6 378.9,1189.6 379.9,1189.6 380.9,1189.6 381.9,1189.6 382.9,1189.6 383.9,1189.6 384.9,1189.6 385.9,1189.6 386.9,1189.6 387.9,1189.6 388.9,1189.6 389.9,1189.6 390.9,1189.6 391.9,1189.6 392.9,1189.6 393.9,1189.5 394.9,1189.5 395.9,1189.5 396.9,1189.5 397.9,1189.5 398.9,1189.4 399.9,1189.4 400.9,1189.4 401.9,1189.3 402.9,1189.3 403.9,1189.2 404.9,1189.1 405.9,1189.1 406.9,1189.0 407.9,1188.9 409.0,1188.8 410.0,1188.7 411.0,1188.5 412.0,1188.4 413.0,1188.3 414.0,1188.1 415.0,1188.0 416.0,1187.8 417.0,1187.7 418.0,1187.5 419.0,1187.4 420.0,1187.2 421.0,1187.1 422.0,1186.9 423.0,1186.8 424.0,1186.7 425.0,1186.6 426.0,1186.6 427.0,1186.5 428.0,1186.5 429.0,1186.5 430.0,1186.5 431.0,1186.5 432.0,1186.6 433.0,1186.6 434.0,1186.7 435.0,1186.8 436.0,1187.0 437.0,1187.1 438.0,1187.2 439.0,1187.4 440.0,1187.5 441.0,1187.7 442.0,1187.9 443.0,1188.0 444.0,1188.2 445.0,1188.3 446.0,1188.4 447.0,1188.6 448.0,1188.7 449.0,1188.8 450.0,1188.9 451.0,1189.0" fill="none" stroke="#7ee69c" stroke-width="2.2" stroke-linejoin="round"/></g><g clip-path="url(#c5r)"><path d="M487.3,1211.2 L487.3,1211.2 487.3,1212.2 487.3,1213.2 487.3,1214.2 487.3,1215.2 487.3,1216.2 487.3,1217.2 487.3,1218.2 487.3,1219.2 487.3,1220.2 487.3,1221.2 487.3,1222.2 487.3,1223.2 487.3,1224.2 487.3,1225.2 487.3,1226.2 487.3,1227.2 487.3,1228.2 487.3,1229.2 487.3,1230.2 487.3,1231.2 487.3,1232.2 487.3,1233.2 487.3,1234.2 487.3,1235.2 487.3,1236.2 487.3,1237.2 487.3,1238.2 487.3,1239.2 487.3,1240.2 487.3,1241.2 487.3,1242.2 487.3,1243.2 487.3,1244.2 487.3,1245.2 487.3,1246.2 487.3,1247.2 487.3,1248.2 487.3,1249.2 487.3,1250.2 487.3,1251.2 487.3,1252.2 487.3,1253.2 487.3,1254.2 487.3,1255.2 487.3,1256.2 487.3,1257.2 487.3,1258.2 487.3,1259.2 487.3,1260.2 487.3,1261.2 487.3,1262.2 487.3,1263.2 487.3,1264.2 487.3,1265.2 487.3,1266.2 487.3,1267.2 487.3,1268.2 487.3,1269.2 487.3,1270.2 487.3,1271.2 487.3,1272.2 487.3,1273.2 487.3,1274.2 487.4,1275.2 487.4,1276.2 487.4,1277.2 487.4,1278.2 487.4,1279.2 487.4,1280.2 487.4,1281.2 487.4,1282.2 487.4,1283.2 487.4,1284.2 487.4,1285.2 487.4,1286.2 487.4,1287.2 487.4,1288.2 487.4,1289.2 487.4,1290.2 487.4,1291.2 487.4,1292.2 487.4,1293.2 487.4,1294.2 487.4,1295.2 487.4,1296.2 487.4,1297.2 487.4,1298.2 487.5,1299.2 487.5,1300.2 487.5,1301.2 487.5,1302.2 487.5,1303.2 487.5,1304.2 487.5,1305.2 487.5,1306.2 487.5,1307.2 487.5,1308.2 487.5,1309.2 487.5,1310.2 487.5,1311.2 487.6,1312.2 487.6,1313.2 487.6,1314.2 487.6,1315.2 487.6,1316.2 487.6,1317.2 487.6,1318.2 487.6,1319.2 487.6,1320.2 487.6,1321.2 487.7,1322.2 487.7,1323.2 487.7,1324.2 487.7,1325.2 487.7,1326.2 487.7,1327.2 487.7,1328.2 487.7,1329.2 487.8,1330.2 487.8,1331.2 487.8,1332.2 487.8,1333.2 487.8,1334.2 487.8,1335.2 487.8,1336.2 487.9,1337.2 487.9,1338.2 487.9,1339.2 487.9,1340.2 487.9,1341.2 487.9,1342.2 487.9,1343.2 488.0,1344.2 488.0,1345.2 488.0,1346.2 488.0,1347.2 488.0,1348.2 488.0,1349.2 488.1,1350.2 488.1,1351.2 488.1,1352.2 488.1,1353.2 488.1,1354.2 488.1,1355.2 488.2,1356.2 488.2,1357.2 488.2,1358.2 488.2,1359.2 488.2,1360.2 488.3,1361.2 488.3,1362.2 488.3,1363.2 488.3,1364.2 488.3,1365.2 488.3,1366.2 488.4,1367.2 488.4,1368.2 488.4,1369.2 488.4,1370.2 488.4,1371.2 488.4,1372.2 488.5,1373.2 488.5,1374.2 488.5,1375.2 488.5,1376.2 488.5,1377.2 488.5,1378.2 488.6,1379.2 488.6,1380.2 488.6,1381.2 488.6,1382.2 488.6,1383.2 488.6,1384.2 488.6,1385.2 488.7,1386.2 488.7,1387.2 488.7,1388.2 488.7,1389.2 488.7,1390.2 488.7,1391.2 488.7,1392.2 488.7,1393.2 488.7,1394.2 488.8,1395.2 488.8,1396.2 488.8,1397.2 488.8,1398.2 488.8,1399.2 488.8,1400.2 488.8,1401.2 488.8,1402.2 488.8,1403.2 488.8,1404.2 488.9,1405.2 488.9,1406.2 488.9,1407.2 488.9,1408.2 488.9,1409.2 488.9,1410.2 488.9,1411.2 488.9,1412.2 488.9,1413.2 489.0,1414.2 489.0,1415.2 489.0,1416.2 489.0,1417.2 489.0,1418.2 489.0,1419.2 489.1,1420.2 489.1,1421.2 489.1,1422.2 489.2,1423.2 489.2,1424.2 489.2,1425.2 489.3,1426.2 489.3,1427.2 489.4,1428.2 489.4,1429.2 489.5,1430.2 489.5,1431.2 489.6,1432.2 489.7,1433.2 489.8,1434.2 489.9,1435.2 490.0,1436.2 490.1,1437.2 490.2,1438.2 490.3,1439.2 490.4,1440.2 490.5,1441.2 490.7,1442.2 490.8,1443.2 491.0,1444.2 491.1,1445.2 491.3,1446.2 491.5,1447.2 491.7,1448.2 491.9,1449.2 492.1,1450.2 492.3,1451.2 492.5,1452.2 492.7,1453.2 493.0,1454.2 493.2,1455.2 493.4,1456.2 493.7,1457.2 493.9,1458.2 494.2,1459.2 494.4,1460.2 494.7,1461.2 494.9,1462.2 495.2,1463.2 495.4,1464.2 495.7,1465.2 495.9,1466.2 496.2,1467.2 496.4,1468.2 496.6,1469.2 496.9,1470.2 497.1,1471.2 497.3,1472.2 497.5,1473.2 497.7,1474.2 497.9,1475.2 498.1,1476.2 498.3,1477.2 498.5,1478.2 498.7,1479.2 498.9,1480.2 499.1,1481.2 499.3,1482.2 499.6,1483.2 499.8,1484.2 500.1,1485.2 500.4,1486.2 500.7,1487.2 501.1,1488.2 501.5,1489.2 501.9,1490.2 502.4,1491.2 503.0,1492.2 503.6,1493.2 504.3,1494.2 505.0,1495.2 505.8,1496.2 506.7,1497.2 507.7,1498.2 508.7,1499.2 509.8,1500.2 511.0,1501.2 512.3,1502.2 513.6,1503.2 515.1,1504.2 516.5,1505.2 518.1,1506.2 519.7,1507.2 521.4,1508.2 523.2,1509.2 525.0,1510.2 526.8,1511.2 528.7,1512.2 530.6,1513.2 532.5,1514.2 534.4,1515.2 536.3,1516.2 538.2,1517.2 540.0,1518.2 541.7,1519.2 543.3,1520.2 544.8,1521.2 546.1,1522.2 547.3,1523.2 548.3,1524.2 549.0,1525.2 549.5,1526.2 549.7,1527.2 549.6,1528.2 549.2,1529.2 548.5,1530.2 547.5,1531.2 546.2,1532.2 544.6,1533.2 542.8,1534.2 540.7,1535.2 538.3,1536.2 535.8,1537.2 533.1,1538.2 530.3,1539.2 527.4,1540.2 524.5,1541.2 521.6,1542.2 518.7,1543.2 515.8,1544.2 513.0,1545.2 510.4,1546.2 507.9,1547.2 505.5,1548.2 503.3,1549.2 501.2,1550.2 499.4,1551.2 497.7,1552.2 496.2,1553.2 494.9,1554.2 493.7,1555.2 492.6,1556.2 491.7,1557.2 491.0,1558.2 490.3,1559.2 489.8,1560.2 489.3,1561.2 488.9,1562.2 488.6,1563.2 488.3,1564.2 488.1,1565.2 487.9,1566.2 487.8,1567.2 487.7,1568.2 487.6,1569.2 487.5,1570.2 487.5,1571.2 487.4,1572.2 487.4,1573.2 487.4,1574.2 487.4,1575.2 487.4,1576.2 487.3,1577.2 487.3,1578.2 487.3,1579.2 L487.3,1579.2Z" fill="#7cffac" fill-opacity="0.5"/><path d="M487.3,1211.2 487.3,1212.2 487.3,1213.2 487.3,1214.2 487.3,1215.2 487.3,1216.2 487.3,1217.2 487.3,1218.2 487.3,1219.2 487.3,1220.2 487.3,1221.2 487.3,1222.2 487.3,1223.2 487.3,1224.2 487.3,1225.2 487.3,1226.2 487.3,1227.2 487.3,1228.2 487.3,1229.2 487.3,1230.2 487.3,1231.2 487.3,1232.2 487.3,1233.2 487.3,1234.2 487.3,1235.2 487.3,1236.2 487.3,1237.2 487.3,1238.2 487.3,1239.2 487.3,1240.2 487.3,1241.2 487.3,1242.2 487.3,1243.2 487.3,1244.2 487.3,1245.2 487.3,1246.2 487.3,1247.2 487.3,1248.2 487.3,1249.2 487.3,1250.2 487.3,1251.2 487.3,1252.2 487.3,1253.2 487.3,1254.2 487.3,1255.2 487.3,1256.2 487.3,1257.2 487.3,1258.2 487.3,1259.2 487.3,1260.2 487.3,1261.2 487.3,1262.2 487.3,1263.2 487.3,1264.2 487.3,1265.2 487.3,1266.2 487.3,1267.2 487.3,1268.2 487.3,1269.2 487.3,1270.2 487.3,1271.2 487.3,1272.2 487.3,1273.2 487.3,1274.2 487.4,1275.2 487.4,1276.2 487.4,1277.2 487.4,1278.2 487.4,1279.2 487.4,1280.2 487.4,1281.2 487.4,1282.2 487.4,1283.2 487.4,1284.2 487.4,1285.2 487.4,1286.2 487.4,1287.2 487.4,1288.2 487.4,1289.2 487.4,1290.2 487.4,1291.2 487.4,1292.2 487.4,1293.2 487.4,1294.2 487.4,1295.2 487.4,1296.2 487.4,1297.2 487.4,1298.2 487.5,1299.2 487.5,1300.2 487.5,1301.2 487.5,1302.2 487.5,1303.2 487.5,1304.2 487.5,1305.2 487.5,1306.2 487.5,1307.2 487.5,1308.2 487.5,1309.2 487.5,1310.2 487.5,1311.2 487.6,1312.2 487.6,1313.2 487.6,1314.2 487.6,1315.2 487.6,1316.2 487.6,1317.2 487.6,1318.2 487.6,1319.2 487.6,1320.2 487.6,1321.2 487.7,1322.2 487.7,1323.2 487.7,1324.2 487.7,1325.2 487.7,1326.2 487.7,1327.2 487.7,1328.2 487.7,1329.2 487.8,1330.2 487.8,1331.2 487.8,1332.2 487.8,1333.2 487.8,1334.2 487.8,1335.2 487.8,1336.2 487.9,1337.2 487.9,1338.2 487.9,1339.2 487.9,1340.2 487.9,1341.2 487.9,1342.2 487.9,1343.2 488.0,1344.2 488.0,1345.2 488.0,1346.2 488.0,1347.2 488.0,1348.2 488.0,1349.2 488.1,1350.2 488.1,1351.2 488.1,1352.2 488.1,1353.2 488.1,1354.2 488.1,1355.2 488.2,1356.2 488.2,1357.2 488.2,1358.2 488.2,1359.2 488.2,1360.2 488.3,1361.2 488.3,1362.2 488.3,1363.2 488.3,1364.2 488.3,1365.2 488.3,1366.2 488.4,1367.2 488.4,1368.2 488.4,1369.2 488.4,1370.2 488.4,1371.2 488.4,1372.2 488.5,1373.2 488.5,1374.2 488.5,1375.2 488.5,1376.2 488.5,1377.2 488.5,1378.2 488.6,1379.2 488.6,1380.2 488.6,1381.2 488.6,1382.2 488.6,1383.2 488.6,1384.2 488.6,1385.2 488.7,1386.2 488.7,1387.2 488.7,1388.2 488.7,1389.2 488.7,1390.2 488.7,1391.2 488.7,1392.2 488.7,1393.2 488.7,1394.2 488.8,1395.2 488.8,1396.2 488.8,1397.2 488.8,1398.2 488.8,1399.2 488.8,1400.2 488.8,1401.2 488.8,1402.2 488.8,1403.2 488.8,1404.2 488.9,1405.2 488.9,1406.2 488.9,1407.2 488.9,1408.2 488.9,1409.2 488.9,1410.2 488.9,1411.2 488.9,1412.2 488.9,1413.2 489.0,1414.2 489.0,1415.2 489.0,1416.2 489.0,1417.2 489.0,1418.2 489.0,1419.2 489.1,1420.2 489.1,1421.2 489.1,1422.2 489.2,1423.2 489.2,1424.2 489.2,1425.2 489.3,1426.2 489.3,1427.2 489.4,1428.2 489.4,1429.2 489.5,1430.2 489.5,1431.2 489.6,1432.2 489.7,1433.2 489.8,1434.2 489.9,1435.2 490.0,1436.2 490.1,1437.2 490.2,1438.2 490.3,1439.2 490.4,1440.2 490.5,1441.2 490.7,1442.2 490.8,1443.2 491.0,1444.2 491.1,1445.2 491.3,1446.2 491.5,1447.2 491.7,1448.2 491.9,1449.2 492.1,1450.2 492.3,1451.2 492.5,1452.2 492.7,1453.2 493.0,1454.2 493.2,1455.2 493.4,1456.2 493.7,1457.2 493.9,1458.2 494.2,1459.2 494.4,1460.2 494.7,1461.2 494.9,1462.2 495.2,1463.2 495.4,1464.2 495.7,1465.2 495.9,1466.2 496.2,1467.2 496.4,1468.2 496.6,1469.2 496.9,1470.2 497.1,1471.2 497.3,1472.2 497.5,1473.2 497.7,1474.2 497.9,1475.2 498.1,1476.2 498.3,1477.2 498.5,1478.2 498.7,1479.2 498.9,1480.2 499.1,1481.2 499.3,1482.2 499.6,1483.2 499.8,1484.2 500.1,1485.2 500.4,1486.2 500.7,1487.2 501.1,1488.2 501.5,1489.2 501.9,1490.2 502.4,1491.2 503.0,1492.2 503.6,1493.2 504.3,1494.2 505.0,1495.2 505.8,1496.2 506.7,1497.2 507.7,1498.2 508.7,1499.2 509.8,1500.2 511.0,1501.2 512.3,1502.2 513.6,1503.2 515.1,1504.2 516.5,1505.2 518.1,1506.2 519.7,1507.2 521.4,1508.2 523.2,1509.2 525.0,1510.2 526.8,1511.2 528.7,1512.2 530.6,1513.2 532.5,1514.2 534.4,1515.2 536.3,1516.2 538.2,1517.2 540.0,1518.2 541.7,1519.2 543.3,1520.2 544.8,1521.2 546.1,1522.2 547.3,1523.2 548.3,1524.2 549.0,1525.2 549.5,1526.2 549.7,1527.2 549.6,1528.2 549.2,1529.2 548.5,1530.2 547.5,1531.2 546.2,1532.2 544.6,1533.2 542.8,1534.2 540.7,1535.2 538.3,1536.2 535.8,1537.2 533.1,1538.2 530.3,1539.2 527.4,1540.2 524.5,1541.2 521.6,1542.2 518.7,1543.2 515.8,1544.2 513.0,1545.2 510.4,1546.2 507.9,1547.2 505.5,1548.2 503.3,1549.2 501.2,1550.2 499.4,1551.2 497.7,1552.2 496.2,1553.2 494.9,1554.2 493.7,1555.2 492.6,1556.2 491.7,1557.2 491.0,1558.2 490.3,1559.2 489.8,1560.2 489.3,1561.2 488.9,1562.2 488.6,1563.2 488.3,1564.2 488.1,1565.2 487.9,1566.2 487.8,1567.2 487.7,1568.2 487.6,1569.2 487.5,1570.2 487.5,1571.2 487.4,1572.2 487.4,1573.2 487.4,1574.2 487.4,1575.2 487.4,1576.2 487.3,1577.2 487.3,1578.2 487.3,1579.2" fill="none" stroke="#7ee69c" stroke-width="2.2" stroke-linejoin="round"/></g><g fill="#282828" stroke="#282828" stroke-width="0.6"><text transform="translate(86.2 1567.7) scale(1 1.05)" text-anchor="end" font-size="27.6">0</text><text transform="translate(86.2 1493.7) scale(1 1.05)" text-anchor="end" font-size="27.6">50</text><text transform="translate(86.2 1419.7) scale(1 1.05)" text-anchor="end" font-size="27.6">100</text><text transform="translate(86.2 1345.7) scale(1 1.05)" text-anchor="end" font-size="27.6">150</text><text transform="translate(86.2 1271.7) scale(1 1.05)" text-anchor="end" font-size="27.6">200</text><text transform="translate(140.6 1611.7) scale(1 1.05)" text-anchor="middle" font-size="27.6">0</text><text transform="translate(285.3 1611.7) scale(1 1.05)" text-anchor="middle" font-size="27.6">10</text><text transform="translate(430 1611.7) scale(1 1.05)" text-anchor="middle" font-size="27.6">20</text><text x="284.5" y="1642" text-anchor="middle" font-size="29.9">NFT</text><text transform="translate(30.5 1394.2) rotate(-90)" text-anchor="middle" font-size="29.9">Resilient Modulus</text></g><clipPath id="c6m"><rect x="726.7" y="1203.5" width="383.8" height="386.9"/></clipPath><clipPath id="c6t"><rect x="726.5" y="1123.8" width="384" height="65"/></clipPath><clipPath id="c6r"><rect x="1125.8" y="1203.5" width="65.2" height="386.9"/></clipPath><rect x="726.7" y="1203.5" width="383.8" height="386.9" fill="#e0e0f8"/><rect x="726.5" y="1123.8" width="384" height="65" fill="#e0e0f8"/><rect x="1125.8" y="1203.5" width="65.2" height="386.9" fill="#e0e0f8"/><path d="M727.3 1203.5V1590.4M727.3 1123.8V1188.8M843.4 1203.5V1590.4M843.4 1123.8V1188.8M959.4 1203.5V1590.4M959.4 1123.8V1188.8M1075.9 1203.5V1590.4M1075.9 1123.8V1188.8M726.7 1564H1110.5M1125.8 1564H1191M726.7 1488.5H1110.5M1125.8 1488.5H1191M726.7 1413H1110.5M1125.8 1413H1191M726.7 1337.5H1110.5M1125.8 1337.5H1191M726.7 1262H1110.5M1125.8 1262H1191" stroke="#eeeefb" stroke-width="2" fill="none"/><g clip-path="url(#c6m)"><path d="M979.7,1396.5 983.7,1396.3 987.7,1397.3 990.7,1399.0 992.8,1401.5 993.7,1404.5 993.2,1407.5 991.2,1410.5 987.7,1413.0 983.7,1414.2 978.7,1413.8 974.7,1411.7 971.7,1408.1 970.9,1404.5 971.3,1402.5 972.4,1400.5 975.7,1397.8 979.7,1396.5ZM852.7,1411.5 856.7,1411.5 859.7,1412.2 862.7,1413.6 865.2,1415.5 867.7,1418.5 869.4,1421.5 872.7,1432.5 873.7,1434.6 876.7,1437.2 881.7,1438.3 885.7,1437.9 889.7,1436.3 898.5,1429.5 903.7,1426.4 908.7,1424.7 914.7,1424.0 920.7,1424.6 926.5,1426.5 931.5,1429.5 939.7,1435.9 942.7,1437.3 945.7,1438.1 949.7,1438.1 953.7,1437.3 957.7,1435.4 965.7,1430.0 970.7,1427.3 976.7,1425.2 982.7,1424.5 987.7,1425.3 993.8,1427.5 999.0,1430.5 1006.7,1436.2 1010.7,1438.2 1014.7,1439.2 1018.7,1439.2 1021.7,1438.3 1024.7,1435.8 1026.7,1432.6 1031.4,1422.5 1033.7,1419.1 1036.7,1416.3 1039.7,1414.6 1043.7,1413.6 1047.7,1413.9 1051.7,1415.4 1056.8,1419.5 1061.3,1426.5 1076.5,1462.5 1078.2,1469.5 1079.2,1481.5 1080.5,1486.5 1083.2,1491.5 1093.8,1506.5 1098.1,1515.5 1100.0,1523.5 1100.1,1530.5 1098.8,1537.5 1095.8,1544.5 1092.5,1549.5 1087.7,1554.7 1081.7,1559.3 1074.7,1563.2 1067.7,1566.0 1059.7,1568.2 1049.7,1569.9 1038.7,1570.9 982.7,1571.9 850.7,1571.7 818.7,1571.2 804.7,1570.4 793.7,1568.7 783.7,1566.0 774.7,1562.0 769.7,1558.8 765.6,1555.5 761.7,1551.5 757.9,1546.5 755.0,1541.5 752.9,1536.5 750.3,1525.5 749.7,1518.5 749.9,1510.5 752.3,1490.5 756.1,1473.5 758.5,1466.5 761.6,1459.5 766.7,1451.5 772.1,1445.5 778.7,1440.7 785.7,1437.8 791.7,1436.6 797.7,1436.5 816.7,1439.4 822.7,1439.9 828.7,1439.4 832.7,1438.1 834.9,1436.5 836.4,1434.5 839.3,1423.5 842.4,1417.5 846.9,1413.5 849.7,1412.2 852.7,1411.5Z" fill="#6dee87"/><path d="M791.7,1460.4 795.7,1460.5 800.7,1462.2 804.7,1464.7 812.7,1470.8 817.7,1473.7 822.7,1475.2 828.7,1476.1 840.7,1476.4 992.7,1476.6 1009.7,1477.4 1021.7,1479.5 1034.7,1483.9 1055.7,1493.3 1066.7,1499.0 1074.4,1504.5 1081.1,1511.5 1085.0,1518.5 1086.6,1525.5 1086.7,1529.5 1086.1,1533.5 1084.4,1538.5 1081.4,1543.5 1077.7,1547.6 1072.7,1551.6 1066.7,1554.9 1060.7,1557.2 1053.7,1558.9 1045.7,1559.9 1036.7,1560.2 1012.7,1559.7 982.7,1561.1 949.7,1559.7 919.7,1560.8 886.7,1559.6 851.7,1560.6 812.7,1558.4 803.7,1557.4 796.7,1556.0 790.7,1554.1 784.7,1551.4 779.7,1548.2 775.5,1544.5 772.2,1540.5 769.4,1535.5 767.6,1530.5 766.7,1524.5 766.8,1518.5 767.8,1512.5 775.0,1491.5 778.2,1476.5 779.8,1471.5 781.8,1467.5 784.7,1463.9 787.7,1461.7 791.7,1460.4Z" fill="#5eeb7c"/><path d="M848.7,1492.5 860.7,1492.5 886.7,1493.5 916.7,1492.6 950.7,1493.6 987.7,1492.9 1020.7,1494.8 1038.7,1496.9 1048.7,1499.0 1056.7,1501.7 1063.7,1505.1 1070.0,1509.5 1074.8,1514.5 1077.7,1519.5 1079.4,1525.5 1079.2,1531.5 1077.7,1536.5 1075.4,1540.5 1071.9,1544.5 1068.2,1547.5 1063.7,1550.1 1057.7,1552.4 1051.7,1553.9 1045.7,1554.6 1036.7,1554.7 1013.7,1553.2 990.7,1555.4 980.7,1555.7 949.7,1553.2 926.7,1555.0 917.7,1555.3 885.7,1553.0 861.7,1554.8 852.7,1555.0 839.7,1554.1 807.7,1550.3 798.7,1548.2 790.7,1544.9 784.6,1540.5 779.9,1534.5 777.7,1528.5 777.3,1521.5 779.0,1514.5 782.8,1507.5 786.7,1502.6 790.7,1498.9 794.7,1496.3 799.7,1494.5 804.7,1493.9 823.7,1493.7 848.7,1492.5Z" fill="#4ee870"/><path d="M848.7,1499.5 861.7,1499.5 886.7,1501.9 916.7,1499.7 926.7,1500.0 950.7,1502.1 974.7,1500.3 984.7,1500.1 1012.7,1502.6 1034.7,1502.6 1043.7,1503.3 1050.7,1504.7 1056.7,1506.7 1062.1,1509.5 1066.7,1512.9 1070.1,1516.5 1073.0,1521.5 1074.1,1525.5 1074.1,1530.5 1073.1,1534.5 1071.6,1537.5 1069.4,1540.5 1065.7,1543.9 1061.7,1546.5 1056.7,1548.6 1051.7,1550.0 1046.7,1550.7 1036.7,1550.7 1020.7,1548.5 1014.7,1548.1 1007.7,1548.7 991.7,1551.3 982.7,1551.9 972.7,1551.3 956.7,1548.7 950.7,1548.2 944.7,1548.4 928.7,1550.8 919.7,1551.4 909.7,1550.9 893.7,1548.5 886.7,1547.9 879.7,1548.3 858.7,1550.9 850.7,1550.9 842.7,1550.1 809.7,1544.1 803.4,1542.5 798.4,1540.5 792.7,1536.8 789.0,1532.5 787.0,1527.5 786.9,1522.5 788.5,1517.5 791.7,1513.0 796.0,1509.5 801.7,1506.7 811.7,1504.3 839.7,1500.3 848.7,1499.5Z" fill="#3ce563"/><path d="M845.7,1504.4 852.7,1503.8 860.7,1504.0 880.7,1507.5 886.7,1508.0 893.7,1507.5 909.7,1504.8 917.7,1504.3 927.7,1504.9 943.7,1507.7 949.7,1508.3 955.7,1508.0 972.7,1505.4 981.7,1504.8 991.7,1505.4 1013.7,1508.8 1019.7,1508.7 1034.7,1507.2 1043.7,1507.3 1049.7,1508.4 1054.7,1509.9 1058.7,1511.8 1062.7,1514.5 1065.8,1517.5 1068.4,1521.5 1069.7,1525.5 1069.9,1529.5 1069.0,1533.5 1067.5,1536.5 1065.2,1539.5 1062.7,1541.7 1058.7,1544.2 1054.7,1545.9 1045.7,1547.6 1036.7,1547.3 1019.7,1544.0 1013.7,1543.6 1007.7,1544.3 991.7,1547.9 985.7,1548.6 979.7,1548.6 971.7,1547.8 955.7,1544.1 949.7,1543.6 943.7,1544.2 926.7,1547.6 916.7,1548.2 908.7,1547.4 892.7,1544.0 885.7,1543.3 879.7,1543.9 861.7,1547.3 854.7,1547.7 847.7,1547.3 834.7,1544.7 807.7,1536.3 803.7,1534.2 800.5,1531.5 798.5,1528.5 797.9,1525.5 798.4,1522.5 800.1,1519.5 803.5,1516.5 807.2,1514.5 813.7,1512.2 832.7,1507.0 845.7,1504.4Z" fill="#2ae055"/><path d="M851.7,1507.4 857.7,1507.4 863.7,1508.1 881.7,1513.0 886.7,1513.6 892.7,1512.9 908.7,1508.8 917.7,1507.9 928.7,1508.9 944.7,1513.2 950.7,1514.0 956.7,1513.3 971.7,1509.5 980.7,1508.5 991.7,1509.3 1009.7,1513.9 1014.7,1514.5 1019.7,1514.1 1034.7,1511.0 1044.7,1510.8 1049.7,1511.7 1053.7,1513.0 1057.7,1515.1 1060.7,1517.3 1063.5,1520.5 1065.2,1523.5 1066.0,1526.5 1066.0,1529.5 1065.4,1532.5 1063.9,1535.5 1059.7,1539.9 1053.7,1543.1 1045.7,1544.7 1040.7,1544.7 1035.7,1544.1 1019.7,1539.5 1014.7,1538.8 1008.7,1539.7 991.7,1544.9 985.7,1545.8 979.7,1545.8 971.7,1544.7 955.7,1539.7 949.7,1538.9 944.7,1539.6 927.7,1544.5 921.7,1545.2 916.7,1545.3 907.7,1544.1 891.7,1539.3 886.7,1538.6 880.7,1539.3 868.7,1542.9 862.7,1544.2 855.7,1544.8 849.7,1544.5 843.7,1543.6 837.7,1541.9 825.6,1536.5 820.6,1533.5 816.8,1530.5 815.2,1528.5 814.4,1525.5 815.0,1523.5 817.5,1520.5 821.8,1517.5 827.2,1514.5 833.9,1511.5 839.7,1509.5 845.7,1508.1 851.7,1507.4Z" fill="#22d34b"/><path d="M853.7,1510.5 860.7,1510.9 866.7,1512.3 872.6,1514.5 882.7,1519.5 886.7,1520.4 890.7,1519.6 905.7,1513.1 910.7,1511.8 916.7,1511.1 923.7,1511.4 929.7,1512.6 936.7,1515.2 946.7,1520.0 950.7,1520.9 954.7,1520.0 968.7,1513.9 978.7,1511.9 986.7,1512.0 993.7,1513.3 1000.0,1515.5 1010.7,1520.8 1014.7,1521.7 1018.7,1520.8 1027.7,1516.7 1032.7,1515.1 1038.7,1514.0 1044.7,1513.9 1051.7,1515.5 1057.7,1519.0 1061.2,1523.5 1062.2,1526.5 1062.3,1529.5 1061.5,1532.5 1060.4,1534.5 1056.7,1538.2 1051.7,1540.7 1044.7,1542.0 1039.7,1541.8 1033.7,1540.5 1028.5,1538.5 1018.7,1533.4 1014.7,1532.4 1010.7,1533.3 1001.0,1538.5 995.7,1540.8 990.7,1542.3 984.7,1543.1 977.7,1542.9 970.7,1541.4 964.7,1539.1 954.7,1533.8 950.7,1532.7 948.7,1532.8 945.7,1533.8 936.4,1538.5 931.4,1540.5 926.7,1541.8 921.7,1542.5 914.7,1542.5 907.7,1541.1 900.7,1538.5 890.7,1533.4 886.7,1532.4 882.7,1533.1 871.5,1538.5 864.7,1540.8 857.7,1542.0 850.7,1541.9 841.7,1539.9 836.7,1537.7 833.1,1535.5 830.6,1533.5 827.9,1530.5 826.9,1528.5 826.6,1525.5 827.1,1523.5 829.0,1520.5 832.3,1517.5 835.4,1515.5 843.7,1512.0 848.7,1510.9 853.7,1510.5Z" fill="#20b942"/><path d="M853.7,1513.5 858.7,1513.7 863.7,1514.8 868.7,1516.8 872.8,1519.5 875.7,1522.5 877.0,1525.5 876.7,1528.5 874.8,1531.5 871.3,1534.5 866.7,1537.0 861.7,1538.6 856.7,1539.3 850.7,1539.1 845.7,1538.0 840.7,1535.9 837.3,1533.5 834.7,1530.5 833.6,1527.5 833.8,1524.5 835.3,1521.5 838.3,1518.5 842.7,1516.0 847.7,1514.3 853.7,1513.5ZM913.7,1514.5 919.7,1514.1 924.7,1514.7 929.7,1516.2 934.4,1518.5 938.2,1521.5 940.3,1524.5 940.8,1527.5 939.6,1530.5 937.0,1533.5 932.6,1536.5 927.7,1538.6 922.7,1539.7 917.7,1540.0 912.7,1539.4 907.7,1538.0 902.7,1535.5 899.0,1532.5 896.8,1529.5 896.2,1526.5 897.2,1523.5 899.9,1520.5 904.3,1517.5 908.7,1515.7 913.7,1514.5ZM975.7,1515.5 980.7,1514.8 986.7,1515.1 992.6,1516.5 997.1,1518.5 1001.2,1521.5 1003.6,1524.5 1004.4,1527.5 1003.5,1530.5 1001.2,1533.5 997.2,1536.5 992.7,1538.7 987.7,1540.1 982.7,1540.6 977.7,1540.2 972.7,1539.0 968.7,1537.3 964.5,1534.5 961.6,1531.5 960.2,1528.5 960.4,1525.5 962.2,1522.5 965.8,1519.5 970.7,1517.0 975.7,1515.5ZM1037.7,1517.5 1042.7,1517.0 1047.7,1517.5 1051.7,1518.9 1055.4,1521.5 1057.7,1524.5 1058.5,1527.5 1058.0,1531.5 1056.0,1534.5 1053.6,1536.5 1050.7,1538.0 1046.7,1539.0 1042.7,1539.2 1038.7,1538.6 1034.9,1537.5 1031.0,1535.5 1028.3,1533.5 1026.5,1531.5 1025.1,1528.5 1025.1,1526.5 1025.9,1524.5 1027.5,1522.5 1030.7,1520.1 1034.1,1518.5 1037.7,1517.5Z" fill="#1f9e3a"/><path d="M848.7,1517.4 852.7,1516.6 857.7,1516.7 861.7,1517.6 865.7,1519.5 868.3,1521.5 870.2,1524.5 870.5,1527.5 869.8,1529.5 868.3,1531.5 865.7,1533.6 862.7,1535.0 858.7,1536.1 851.7,1536.3 848.1,1535.5 844.7,1534.1 842.4,1532.5 840.5,1530.5 839.5,1528.5 839.3,1525.5 840.6,1522.5 842.4,1520.5 845.6,1518.5 848.7,1517.4ZM915.7,1517.4 920.7,1517.3 924.7,1518.1 928.3,1519.5 931.3,1521.5 933.1,1523.5 934.3,1526.5 933.8,1529.5 932.6,1531.5 930.4,1533.5 926.8,1535.5 923.7,1536.5 919.7,1537.1 915.7,1536.9 911.7,1536.1 908.1,1534.5 905.7,1532.8 903.7,1530.5 902.9,1528.5 902.9,1525.5 903.9,1523.5 905.7,1521.5 908.6,1519.5 911.7,1518.3 915.7,1517.4ZM977.7,1518.4 981.7,1518.0 986.7,1518.4 990.7,1519.6 994.2,1521.5 996.3,1523.5 997.8,1526.5 997.7,1529.5 996.7,1531.5 994.8,1533.5 991.8,1535.5 988.7,1536.8 984.7,1537.6 977.7,1537.2 974.7,1536.4 971.1,1534.5 968.7,1532.5 967.3,1530.5 966.6,1527.5 967.0,1525.5 968.2,1523.5 970.7,1521.3 974.0,1519.5 977.7,1518.4ZM1042.7,1520.4 1045.7,1520.6 1048.8,1521.5 1051.7,1523.3 1053.5,1525.5 1054.1,1527.5 1053.8,1530.5 1052.5,1532.5 1049.7,1534.6 1045.7,1535.8 1040.3,1535.5 1035.6,1533.5 1032.7,1530.5 1032.0,1527.5 1032.6,1525.5 1033.7,1524.0 1037.5,1521.5 1042.7,1520.4Z" fill="#1e8a34"/></g><g clip-path="url(#c6t)"><path d="M745.2,1188.8 L745.2,1188.6 746.2,1188.5 747.2,1188.5 748.2,1188.4 749.2,1188.3 750.2,1188.3 751.2,1188.2 752.2,1188.0 753.2,1187.9 754.2,1187.8 755.2,1187.6 756.2,1187.4 757.2,1187.2 758.2,1186.9 759.2,1186.7 760.2,1186.4 761.2,1186.1 762.2,1185.7 763.2,1185.3 764.2,1184.9 765.2,1184.4 766.2,1183.9 767.2,1183.4 768.2,1182.9 769.2,1182.3 770.2,1181.7 771.2,1181.0 772.2,1180.4 773.2,1179.7 774.2,1179.0 775.2,1178.2 776.2,1177.5 777.2,1176.8 778.2,1176.1 779.2,1175.4 780.2,1174.7 781.2,1174.0 782.2,1173.4 783.2,1172.8 784.2,1172.2 785.2,1171.7 786.2,1171.3 787.2,1170.9 788.2,1170.6 789.2,1170.3 790.2,1170.1 791.2,1170.0 792.2,1170.0 793.2,1170.0 794.2,1170.1 795.2,1170.3 796.2,1170.5 797.2,1170.8 798.2,1171.2 799.2,1171.6 800.2,1172.0 801.2,1172.5 802.2,1173.1 803.2,1173.6 804.3,1174.2 805.3,1174.8 806.3,1175.4 807.3,1175.9 808.3,1176.5 809.3,1177.0 810.3,1177.4 811.3,1177.8 812.3,1178.2 813.3,1178.5 814.3,1178.7 815.3,1178.8 816.3,1178.9 817.3,1178.8 818.3,1178.6 819.3,1178.3 820.3,1177.9 821.3,1177.4 822.3,1176.8 823.3,1176.0 824.3,1175.1 825.3,1174.1 826.3,1172.9 827.3,1171.6 828.3,1170.2 829.3,1168.7 830.3,1167.0 831.3,1165.3 832.3,1163.4 833.3,1161.5 834.3,1159.5 835.3,1157.4 836.3,1155.3 837.3,1153.1 838.3,1150.9 839.3,1148.7 840.3,1146.6 841.3,1144.5 842.3,1142.4 843.3,1140.4 844.3,1138.5 845.3,1136.8 846.3,1135.2 847.3,1133.7 848.3,1132.4 849.3,1131.3 850.3,1130.4 851.3,1129.7 852.3,1129.2 853.3,1128.9 854.3,1128.9 855.3,1129.1 856.3,1129.5 857.3,1130.1 858.3,1130.9 859.3,1132.0 860.3,1133.2 861.3,1134.6 862.3,1136.2 863.3,1137.9 864.3,1139.7 865.3,1141.6 866.3,1143.6 867.3,1145.7 868.3,1147.8 869.3,1149.9 870.3,1152.0 871.3,1154.1 872.3,1156.2 873.3,1158.2 874.3,1160.1 875.3,1162.0 876.3,1163.7 877.3,1165.3 878.3,1166.7 879.3,1168.1 880.3,1169.2 881.3,1170.2 882.3,1171.0 883.3,1171.7 884.3,1172.1 885.3,1172.4 886.3,1172.5 887.3,1172.4 888.3,1172.1 889.3,1171.6 890.3,1170.9 891.3,1170.0 892.3,1168.9 893.3,1167.7 894.3,1166.3 895.3,1164.8 896.3,1163.1 897.3,1161.3 898.3,1159.4 899.3,1157.3 900.3,1155.2 901.3,1153.0 902.3,1150.8 903.3,1148.6 904.3,1146.4 905.3,1144.1 906.3,1142.0 907.3,1139.9 908.3,1137.9 909.3,1136.0 910.3,1134.3 911.3,1132.7 912.3,1131.3 913.3,1130.1 914.3,1129.1 915.3,1128.3 916.3,1127.8 917.3,1127.5 918.3,1127.4 919.3,1127.6 920.3,1128.1 921.4,1128.7 922.4,1129.6 923.4,1130.8 924.4,1132.1 925.4,1133.6 926.4,1135.3 927.4,1137.1 928.4,1139.1 929.4,1141.2 930.4,1143.3 931.4,1145.5 932.4,1147.8 933.4,1150.1 934.4,1152.3 935.4,1154.6 936.4,1156.8 937.4,1158.9 938.4,1160.9 939.4,1162.8 940.4,1164.7 941.4,1166.3 942.4,1167.9 943.4,1169.3 944.4,1170.5 945.4,1171.5 946.4,1172.4 947.4,1173.1 948.4,1173.6 949.4,1173.9 950.4,1174.0 951.4,1173.9 952.4,1173.6 953.4,1173.2 954.4,1172.5 955.4,1171.7 956.4,1170.7 957.4,1169.5 958.4,1168.1 959.4,1166.6 960.4,1165.0 961.4,1163.2 962.4,1161.3 963.4,1159.3 964.4,1157.2 965.4,1155.0 966.4,1152.8 967.4,1150.6 968.4,1148.3 969.4,1146.1 970.4,1143.9 971.4,1141.8 972.4,1139.7 973.4,1137.8 974.4,1136.0 975.4,1134.3 976.4,1132.8 977.4,1131.5 978.4,1130.5 979.4,1129.6 980.4,1129.0 981.4,1128.6 982.4,1128.4 983.4,1128.5 984.4,1128.8 985.4,1129.4 986.4,1130.2 987.4,1131.2 988.4,1132.4 989.4,1133.9 990.4,1135.5 991.4,1137.2 992.4,1139.1 993.4,1141.1 994.4,1143.2 995.4,1145.4 996.4,1147.6 997.4,1149.9 998.4,1152.1 999.4,1154.3 1000.4,1156.5 1001.4,1158.6 1002.4,1160.7 1003.4,1162.6 1004.4,1164.4 1005.4,1166.1 1006.4,1167.6 1007.4,1169.0 1008.4,1170.3 1009.4,1171.3 1010.4,1172.2 1011.4,1172.9 1012.4,1173.4 1013.4,1173.7 1014.4,1173.8 1015.4,1173.7 1016.4,1173.5 1017.4,1173.0 1018.4,1172.4 1019.4,1171.5 1020.4,1170.5 1021.4,1169.3 1022.4,1167.9 1023.4,1166.4 1024.4,1164.8 1025.4,1163.0 1026.4,1161.1 1027.4,1159.0 1028.4,1156.9 1029.4,1154.8 1030.4,1152.5 1031.4,1150.3 1032.4,1148.0 1033.4,1145.8 1034.4,1143.6 1035.4,1141.5 1036.4,1139.4 1037.4,1137.5 1038.5,1135.7 1039.5,1134.0 1040.5,1132.6 1041.5,1131.3 1042.5,1130.2 1043.5,1129.3 1044.5,1128.7 1045.5,1128.3 1046.5,1128.2 1047.5,1128.3 1048.5,1128.7 1049.5,1129.3 1050.5,1130.1 1051.5,1131.1 1052.5,1132.4 1053.5,1133.9 1054.5,1135.5 1055.5,1137.3 1056.5,1139.3 1057.5,1141.4 1058.5,1143.5 1059.5,1145.8 1060.5,1148.1 1061.5,1150.4 1062.5,1152.8 1063.5,1155.1 1064.5,1157.4 1065.5,1159.7 1066.5,1161.9 1067.5,1164.1 1068.5,1166.2 1069.5,1168.1 1070.5,1170.0 1071.5,1171.8 1072.5,1173.5 1073.5,1175.1 1074.5,1176.5 1075.5,1177.9 1076.5,1179.1 1077.5,1180.3 1078.5,1181.3 1079.5,1182.2 1080.5,1183.1 1081.5,1183.8 1082.5,1184.5 1083.5,1185.1 1084.5,1185.6 1085.5,1186.1 1086.5,1186.5 1087.5,1186.8 1088.5,1187.1 1089.5,1187.4 1090.5,1187.6 1091.5,1187.8 1092.5,1188.0 1093.5,1188.1 1094.5,1188.3 1095.5,1188.3 1096.5,1188.4 L1096.5,1188.8Z" fill="#7cffac" fill-opacity="0.5"/><path d="M745.2,1188.6 746.2,1188.5 747.2,1188.5 748.2,1188.4 749.2,1188.3 750.2,1188.3 751.2,1188.2 752.2,1188.0 753.2,1187.9 754.2,1187.8 755.2,1187.6 756.2,1187.4 757.2,1187.2 758.2,1186.9 759.2,1186.7 760.2,1186.4 761.2,1186.1 762.2,1185.7 763.2,1185.3 764.2,1184.9 765.2,1184.4 766.2,1183.9 767.2,1183.4 768.2,1182.9 769.2,1182.3 770.2,1181.7 771.2,1181.0 772.2,1180.4 773.2,1179.7 774.2,1179.0 775.2,1178.2 776.2,1177.5 777.2,1176.8 778.2,1176.1 779.2,1175.4 780.2,1174.7 781.2,1174.0 782.2,1173.4 783.2,1172.8 784.2,1172.2 785.2,1171.7 786.2,1171.3 787.2,1170.9 788.2,1170.6 789.2,1170.3 790.2,1170.1 791.2,1170.0 792.2,1170.0 793.2,1170.0 794.2,1170.1 795.2,1170.3 796.2,1170.5 797.2,1170.8 798.2,1171.2 799.2,1171.6 800.2,1172.0 801.2,1172.5 802.2,1173.1 803.2,1173.6 804.3,1174.2 805.3,1174.8 806.3,1175.4 807.3,1175.9 808.3,1176.5 809.3,1177.0 810.3,1177.4 811.3,1177.8 812.3,1178.2 813.3,1178.5 814.3,1178.7 815.3,1178.8 816.3,1178.9 817.3,1178.8 818.3,1178.6 819.3,1178.3 820.3,1177.9 821.3,1177.4 822.3,1176.8 823.3,1176.0 824.3,1175.1 825.3,1174.1 826.3,1172.9 827.3,1171.6 828.3,1170.2 829.3,1168.7 830.3,1167.0 831.3,1165.3 832.3,1163.4 833.3,1161.5 834.3,1159.5 835.3,1157.4 836.3,1155.3 837.3,1153.1 838.3,1150.9 839.3,1148.7 840.3,1146.6 841.3,1144.5 842.3,1142.4 843.3,1140.4 844.3,1138.5 845.3,1136.8 846.3,1135.2 847.3,1133.7 848.3,1132.4 849.3,1131.3 850.3,1130.4 851.3,1129.7 852.3,1129.2 853.3,1128.9 854.3,1128.9 855.3,1129.1 856.3,1129.5 857.3,1130.1 858.3,1130.9 859.3,1132.0 860.3,1133.2 861.3,1134.6 862.3,1136.2 863.3,1137.9 864.3,1139.7 865.3,1141.6 866.3,1143.6 867.3,1145.7 868.3,1147.8 869.3,1149.9 870.3,1152.0 871.3,1154.1 872.3,1156.2 873.3,1158.2 874.3,1160.1 875.3,1162.0 876.3,1163.7 877.3,1165.3 878.3,1166.7 879.3,1168.1 880.3,1169.2 881.3,1170.2 882.3,1171.0 883.3,1171.7 884.3,1172.1 885.3,1172.4 886.3,1172.5 887.3,1172.4 888.3,1172.1 889.3,1171.6 890.3,1170.9 891.3,1170.0 892.3,1168.9 893.3,1167.7 894.3,1166.3 895.3,1164.8 896.3,1163.1 897.3,1161.3 898.3,1159.4 899.3,1157.3 900.3,1155.2 901.3,1153.0 902.3,1150.8 903.3,1148.6 904.3,1146.4 905.3,1144.1 906.3,1142.0 907.3,1139.9 908.3,1137.9 909.3,1136.0 910.3,1134.3 911.3,1132.7 912.3,1131.3 913.3,1130.1 914.3,1129.1 915.3,1128.3 916.3,1127.8 917.3,1127.5 918.3,1127.4 919.3,1127.6 920.3,1128.1 921.4,1128.7 922.4,1129.6 923.4,1130.8 924.4,1132.1 925.4,1133.6 926.4,1135.3 927.4,1137.1 928.4,1139.1 929.4,1141.2 930.4,1143.3 931.4,1145.5 932.4,1147.8 933.4,1150.1 934.4,1152.3 935.4,1154.6 936.4,1156.8 937.4,1158.9 938.4,1160.9 939.4,1162.8 940.4,1164.7 941.4,1166.3 942.4,1167.9 943.4,1169.3 944.4,1170.5 945.4,1171.5 946.4,1172.4 947.4,1173.1 948.4,1173.6 949.4,1173.9 950.4,1174.0 951.4,1173.9 952.4,1173.6 953.4,1173.2 954.4,1172.5 955.4,1171.7 956.4,1170.7 957.4,1169.5 958.4,1168.1 959.4,1166.6 960.4,1165.0 961.4,1163.2 962.4,1161.3 963.4,1159.3 964.4,1157.2 965.4,1155.0 966.4,1152.8 967.4,1150.6 968.4,1148.3 969.4,1146.1 970.4,1143.9 971.4,1141.8 972.4,1139.7 973.4,1137.8 974.4,1136.0 975.4,1134.3 976.4,1132.8 977.4,1131.5 978.4,1130.5 979.4,1129.6 980.4,1129.0 981.4,1128.6 982.4,1128.4 983.4,1128.5 984.4,1128.8 985.4,1129.4 986.4,1130.2 987.4,1131.2 988.4,1132.4 989.4,1133.9 990.4,1135.5 991.4,1137.2 992.4,1139.1 993.4,1141.1 994.4,1143.2 995.4,1145.4 996.4,1147.6 997.4,1149.9 998.4,1152.1 999.4,1154.3 1000.4,1156.5 1001.4,1158.6 1002.4,1160.7 1003.4,1162.6 1004.4,1164.4 1005.4,1166.1 1006.4,1167.6 1007.4,1169.0 1008.4,1170.3 1009.4,1171.3 1010.4,1172.2 1011.4,1172.9 1012.4,1173.4 1013.4,1173.7 1014.4,1173.8 1015.4,1173.7 1016.4,1173.5 1017.4,1173.0 1018.4,1172.4 1019.4,1171.5 1020.4,1170.5 1021.4,1169.3 1022.4,1167.9 1023.4,1166.4 1024.4,1164.8 1025.4,1163.0 1026.4,1161.1 1027.4,1159.0 1028.4,1156.9 1029.4,1154.8 1030.4,1152.5 1031.4,1150.3 1032.4,1148.0 1033.4,1145.8 1034.4,1143.6 1035.4,1141.5 1036.4,1139.4 1037.4,1137.5 1038.5,1135.7 1039.5,1134.0 1040.5,1132.6 1041.5,1131.3 1042.5,1130.2 1043.5,1129.3 1044.5,1128.7 1045.5,1128.3 1046.5,1128.2 1047.5,1128.3 1048.5,1128.7 1049.5,1129.3 1050.5,1130.1 1051.5,1131.1 1052.5,1132.4 1053.5,1133.9 1054.5,1135.5 1055.5,1137.3 1056.5,1139.3 1057.5,1141.4 1058.5,1143.5 1059.5,1145.8 1060.5,1148.1 1061.5,1150.4 1062.5,1152.8 1063.5,1155.1 1064.5,1157.4 1065.5,1159.7 1066.5,1161.9 1067.5,1164.1 1068.5,1166.2 1069.5,1168.1 1070.5,1170.0 1071.5,1171.8 1072.5,1173.5 1073.5,1175.1 1074.5,1176.5 1075.5,1177.9 1076.5,1179.1 1077.5,1180.3 1078.5,1181.3 1079.5,1182.2 1080.5,1183.1 1081.5,1183.8 1082.5,1184.5 1083.5,1185.1 1084.5,1185.6 1085.5,1186.1 1086.5,1186.5 1087.5,1186.8 1088.5,1187.1 1089.5,1187.4 1090.5,1187.6 1091.5,1187.8 1092.5,1188.0 1093.5,1188.1 1094.5,1188.3 1095.5,1188.3 1096.5,1188.4" fill="none" stroke="#7ee69c" stroke-width="2.2" stroke-linejoin="round"/></g><g clip-path="url(#c6r)"><path d="M1125.8,1210.0 L1125.8,1210.0 1125.8,1211.0 1125.8,1212.0 1125.8,1213.0 1125.8,1214.0 1125.8,1215.0 1125.8,1216.0 1125.8,1217.0 1125.8,1218.0 1125.8,1219.0 1125.8,1220.0 1125.8,1221.0 1125.8,1222.0 1125.8,1223.0 1125.8,1224.0 1125.8,1225.0 1125.8,1226.0 1125.8,1227.0 1125.8,1228.0 1125.8,1229.0 1125.8,1230.0 1125.8,1231.0 1125.8,1232.0 1125.8,1233.0 1125.8,1234.0 1125.8,1235.0 1125.8,1236.0 1125.8,1237.0 1125.8,1238.0 1125.8,1239.0 1125.8,1240.0 1125.8,1241.0 1125.8,1242.0 1125.8,1243.0 1125.8,1244.0 1125.8,1245.0 1125.8,1246.0 1125.8,1247.0 1125.8,1248.0 1125.8,1249.0 1125.8,1250.0 1125.8,1251.0 1125.8,1252.0 1125.8,1253.0 1125.8,1254.0 1125.8,1255.0 1125.8,1256.0 1125.8,1257.0 1125.8,1258.0 1125.8,1259.0 1125.8,1260.0 1125.8,1261.0 1125.8,1262.0 1125.8,1263.0 1125.8,1264.0 1125.8,1265.0 1125.8,1266.0 1125.8,1267.0 1125.8,1268.0 1125.8,1269.0 1125.8,1270.0 1125.8,1271.0 1125.8,1272.0 1125.8,1273.0 1125.8,1274.0 1125.8,1275.0 1125.9,1276.0 1125.9,1277.0 1125.9,1278.0 1125.9,1279.0 1125.9,1280.0 1125.9,1281.0 1125.9,1282.0 1125.9,1283.0 1125.9,1284.0 1125.9,1285.0 1125.9,1286.0 1125.9,1287.0 1125.9,1288.0 1125.9,1289.0 1125.9,1290.0 1125.9,1291.0 1125.9,1292.0 1125.9,1293.0 1125.9,1294.0 1125.9,1295.0 1125.9,1296.0 1125.9,1297.0 1125.9,1298.0 1125.9,1299.0 1126.0,1300.0 1126.0,1301.0 1126.0,1302.0 1126.0,1303.0 1126.0,1304.0 1126.0,1305.0 1126.0,1306.0 1126.0,1307.0 1126.0,1308.0 1126.0,1309.0 1126.0,1310.0 1126.0,1311.0 1126.0,1312.0 1126.0,1313.0 1126.1,1314.0 1126.1,1315.0 1126.1,1316.0 1126.1,1317.0 1126.1,1318.0 1126.1,1319.0 1126.1,1320.0 1126.1,1321.0 1126.1,1322.0 1126.1,1323.0 1126.2,1324.0 1126.2,1325.0 1126.2,1326.0 1126.2,1327.0 1126.2,1328.0 1126.2,1329.0 1126.2,1330.0 1126.2,1331.0 1126.3,1332.0 1126.3,1333.0 1126.3,1334.0 1126.3,1335.0 1126.3,1336.0 1126.3,1337.0 1126.3,1338.0 1126.4,1339.0 1126.4,1340.0 1126.4,1341.0 1126.4,1342.0 1126.4,1343.0 1126.4,1344.0 1126.4,1345.0 1126.5,1346.0 1126.5,1347.0 1126.5,1348.0 1126.5,1349.0 1126.5,1350.0 1126.5,1351.0 1126.6,1352.0 1126.6,1353.0 1126.6,1354.0 1126.6,1355.0 1126.6,1356.0 1126.6,1357.0 1126.7,1358.0 1126.7,1359.0 1126.7,1360.0 1126.7,1361.0 1126.7,1362.0 1126.7,1363.0 1126.8,1364.0 1126.8,1365.0 1126.8,1366.0 1126.8,1367.0 1126.8,1368.0 1126.8,1369.0 1126.9,1370.0 1126.9,1371.0 1126.9,1372.0 1126.9,1373.0 1126.9,1374.0 1126.9,1375.0 1127.0,1376.0 1127.0,1377.0 1127.0,1378.0 1127.0,1379.0 1127.0,1380.0 1127.0,1381.0 1127.1,1382.0 1127.1,1383.0 1127.1,1384.0 1127.1,1385.0 1127.1,1386.0 1127.1,1387.0 1127.1,1388.0 1127.2,1389.0 1127.2,1390.0 1127.2,1391.0 1127.2,1392.0 1127.2,1393.0 1127.2,1394.0 1127.2,1395.0 1127.2,1396.0 1127.2,1397.0 1127.3,1398.0 1127.3,1399.0 1127.3,1400.0 1127.3,1401.0 1127.3,1402.0 1127.3,1403.0 1127.3,1404.0 1127.3,1405.0 1127.3,1406.0 1127.3,1407.0 1127.3,1408.0 1127.4,1409.0 1127.4,1410.0 1127.4,1411.0 1127.4,1412.0 1127.4,1413.0 1127.4,1414.0 1127.4,1415.0 1127.4,1416.0 1127.4,1417.0 1127.5,1418.0 1127.5,1419.0 1127.5,1420.0 1127.5,1421.0 1127.5,1422.0 1127.5,1423.0 1127.6,1424.0 1127.6,1425.0 1127.6,1426.0 1127.7,1427.0 1127.7,1428.0 1127.7,1429.0 1127.8,1430.0 1127.8,1431.0 1127.9,1432.0 1127.9,1433.0 1128.0,1434.0 1128.0,1435.0 1128.1,1436.0 1128.2,1437.0 1128.3,1438.0 1128.3,1439.0 1128.4,1440.0 1128.5,1441.0 1128.6,1442.0 1128.8,1443.0 1128.9,1444.0 1129.0,1445.0 1129.1,1446.0 1129.3,1447.0 1129.4,1448.0 1129.6,1449.0 1129.8,1450.0 1129.9,1451.0 1130.1,1452.0 1130.3,1453.0 1130.5,1454.0 1130.7,1455.0 1130.9,1456.0 1131.1,1457.0 1131.3,1458.0 1131.6,1459.0 1131.8,1460.0 1132.0,1461.0 1132.3,1462.0 1132.5,1463.0 1132.8,1464.0 1133.0,1465.0 1133.3,1466.0 1133.5,1467.0 1133.8,1468.0 1134.0,1469.0 1134.3,1470.0 1134.5,1471.0 1134.7,1472.0 1135.0,1473.0 1135.2,1474.0 1135.4,1475.0 1135.6,1476.0 1135.8,1477.0 1136.0,1478.0 1136.2,1479.0 1136.4,1480.0 1136.6,1481.0 1136.8,1482.0 1137.0,1483.0 1137.2,1484.0 1137.4,1485.0 1137.6,1486.0 1137.8,1487.0 1138.0,1488.0 1138.3,1489.0 1138.5,1490.0 1138.8,1491.0 1139.1,1492.0 1139.5,1493.0 1139.8,1494.0 1140.3,1495.0 1140.7,1496.0 1141.2,1497.0 1141.8,1498.0 1142.4,1499.0 1143.1,1500.0 1143.9,1501.0 1144.7,1502.0 1145.6,1503.0 1146.5,1504.0 1147.5,1505.0 1148.6,1506.0 1149.8,1507.0 1151.0,1508.0 1152.4,1509.0 1153.8,1510.0 1155.2,1511.0 1156.8,1512.0 1158.4,1513.0 1160.1,1514.0 1161.9,1515.0 1163.7,1516.0 1165.6,1517.0 1167.5,1518.0 1169.5,1519.0 1171.6,1520.0 1173.6,1521.0 1175.6,1522.0 1177.6,1523.0 1179.6,1524.0 1181.4,1525.0 1183.1,1526.0 1184.7,1527.0 1186.0,1528.0 1187.2,1529.0 1188.0,1530.0 1188.6,1531.0 1188.8,1532.0 1188.7,1533.0 1188.3,1534.0 1187.4,1535.0 1186.2,1536.0 1184.7,1537.0 1182.8,1538.0 1180.6,1539.0 1178.2,1540.0 1175.5,1541.0 1172.6,1542.0 1169.5,1543.0 1166.4,1544.0 1163.2,1545.0 1160.0,1546.0 1156.8,1547.0 1153.7,1548.0 1150.7,1549.0 1147.9,1550.0 1145.3,1551.0 1142.8,1552.0 1140.5,1553.0 1138.5,1554.0 1136.6,1555.0 1134.9,1556.0 1133.5,1557.0 1132.2,1558.0 1131.1,1559.0 1130.2,1560.0 1129.4,1561.0 1128.7,1562.0 1128.1,1563.0 1127.6,1564.0 1127.3,1565.0 1127.0,1566.0 1126.7,1567.0 1126.5,1568.0 1126.3,1569.0 1126.2,1570.0 1126.1,1571.0 1126.1,1572.0 1126.0,1573.0 1126.0,1574.0 1125.9,1575.0 1125.9,1576.0 1125.9,1577.0 1125.9,1578.0 1125.8,1579.0 1125.8,1580.0 1125.8,1581.0 1125.8,1582.0 1125.8,1583.0 L1125.8,1583.0Z" fill="#7cffac" fill-opacity="0.5"/><path d="M1125.8,1210.0 1125.8,1211.0 1125.8,1212.0 1125.8,1213.0 1125.8,1214.0 1125.8,1215.0 1125.8,1216.0 1125.8,1217.0 1125.8,1218.0 1125.8,1219.0 1125.8,1220.0 1125.8,1221.0 1125.8,1222.0 1125.8,1223.0 1125.8,1224.0 1125.8,1225.0 1125.8,1226.0 1125.8,1227.0 1125.8,1228.0 1125.8,1229.0 1125.8,1230.0 1125.8,1231.0 1125.8,1232.0 1125.8,1233.0 1125.8,1234.0 1125.8,1235.0 1125.8,1236.0 1125.8,1237.0 1125.8,1238.0 1125.8,1239.0 1125.8,1240.0 1125.8,1241.0 1125.8,1242.0 1125.8,1243.0 1125.8,1244.0 1125.8,1245.0 1125.8,1246.0 1125.8,1247.0 1125.8,1248.0 1125.8,1249.0 1125.8,1250.0 1125.8,1251.0 1125.8,1252.0 1125.8,1253.0 1125.8,1254.0 1125.8,1255.0 1125.8,1256.0 1125.8,1257.0 1125.8,1258.0 1125.8,1259.0 1125.8,1260.0 1125.8,1261.0 1125.8,1262.0 1125.8,1263.0 1125.8,1264.0 1125.8,1265.0 1125.8,1266.0 1125.8,1267.0 1125.8,1268.0 1125.8,1269.0 1125.8,1270.0 1125.8,1271.0 1125.8,1272.0 1125.8,1273.0 1125.8,1274.0 1125.8,1275.0 1125.9,1276.0 1125.9,1277.0 1125.9,1278.0 1125.9,1279.0 1125.9,1280.0 1125.9,1281.0 1125.9,1282.0 1125.9,1283.0 1125.9,1284.0 1125.9,1285.0 1125.9,1286.0 1125.9,1287.0 1125.9,1288.0 1125.9,1289.0 1125.9,1290.0 1125.9,1291.0 1125.9,1292.0 1125.9,1293.0 1125.9,1294.0 1125.9,1295.0 1125.9,1296.0 1125.9,1297.0 1125.9,1298.0 1125.9,1299.0 1126.0,1300.0 1126.0,1301.0 1126.0,1302.0 1126.0,1303.0 1126.0,1304.0 1126.0,1305.0 1126.0,1306.0 1126.0,1307.0 1126.0,1308.0 1126.0,1309.0 1126.0,1310.0 1126.0,1311.0 1126.0,1312.0 1126.0,1313.0 1126.1,1314.0 1126.1,1315.0 1126.1,1316.0 1126.1,1317.0 1126.1,1318.0 1126.1,1319.0 1126.1,1320.0 1126.1,1321.0 1126.1,1322.0 1126.1,1323.0 1126.2,1324.0 1126.2,1325.0 1126.2,1326.0 1126.2,1327.0 1126.2,1328.0 1126.2,1329.0 1126.2,1330.0 1126.2,1331.0 1126.3,1332.0 1126.3,1333.0 1126.3,1334.0 1126.3,1335.0 1126.3,1336.0 1126.3,1337.0 1126.3,1338.0 1126.4,1339.0 1126.4,1340.0 1126.4,1341.0 1126.4,1342.0 1126.4,1343.0 1126.4,1344.0 1126.4,1345.0 1126.5,1346.0 1126.5,1347.0 1126.5,1348.0 1126.5,1349.0 1126.5,1350.0 1126.5,1351.0 1126.6,1352.0 1126.6,1353.0 1126.6,1354.0 1126.6,1355.0 1126.6,1356.0 1126.6,1357.0 1126.7,1358.0 1126.7,1359.0 1126.7,1360.0 1126.7,1361.0 1126.7,1362.0 1126.7,1363.0 1126.8,1364.0 1126.8,1365.0 1126.8,1366.0 1126.8,1367.0 1126.8,1368.0 1126.8,1369.0 1126.9,1370.0 1126.9,1371.0 1126.9,1372.0 1126.9,1373.0 1126.9,1374.0 1126.9,1375.0 1127.0,1376.0 1127.0,1377.0 1127.0,1378.0 1127.0,1379.0 1127.0,1380.0 1127.0,1381.0 1127.1,1382.0 1127.1,1383.0 1127.1,1384.0 1127.1,1385.0 1127.1,1386.0 1127.1,1387.0 1127.1,1388.0 1127.2,1389.0 1127.2,1390.0 1127.2,1391.0 1127.2,1392.0 1127.2,1393.0 1127.2,1394.0 1127.2,1395.0 1127.2,1396.0 1127.2,1397.0 1127.3,1398.0 1127.3,1399.0 1127.3,1400.0 1127.3,1401.0 1127.3,1402.0 1127.3,1403.0 1127.3,1404.0 1127.3,1405.0 1127.3,1406.0 1127.3,1407.0 1127.3,1408.0 1127.4,1409.0 1127.4,1410.0 1127.4,1411.0 1127.4,1412.0 1127.4,1413.0 1127.4,1414.0 1127.4,1415.0 1127.4,1416.0 1127.4,1417.0 1127.5,1418.0 1127.5,1419.0 1127.5,1420.0 1127.5,1421.0 1127.5,1422.0 1127.5,1423.0 1127.6,1424.0 1127.6,1425.0 1127.6,1426.0 1127.7,1427.0 1127.7,1428.0 1127.7,1429.0 1127.8,1430.0 1127.8,1431.0 1127.9,1432.0 1127.9,1433.0 1128.0,1434.0 1128.0,1435.0 1128.1,1436.0 1128.2,1437.0 1128.3,1438.0 1128.3,1439.0 1128.4,1440.0 1128.5,1441.0 1128.6,1442.0 1128.8,1443.0 1128.9,1444.0 1129.0,1445.0 1129.1,1446.0 1129.3,1447.0 1129.4,1448.0 1129.6,1449.0 1129.8,1450.0 1129.9,1451.0 1130.1,1452.0 1130.3,1453.0 1130.5,1454.0 1130.7,1455.0 1130.9,1456.0 1131.1,1457.0 1131.3,1458.0 1131.6,1459.0 1131.8,1460.0 1132.0,1461.0 1132.3,1462.0 1132.5,1463.0 1132.8,1464.0 1133.0,1465.0 1133.3,1466.0 1133.5,1467.0 1133.8,1468.0 1134.0,1469.0 1134.3,1470.0 1134.5,1471.0 1134.7,1472.0 1135.0,1473.0 1135.2,1474.0 1135.4,1475.0 1135.6,1476.0 1135.8,1477.0 1136.0,1478.0 1136.2,1479.0 1136.4,1480.0 1136.6,1481.0 1136.8,1482.0 1137.0,1483.0 1137.2,1484.0 1137.4,1485.0 1137.6,1486.0 1137.8,1487.0 1138.0,1488.0 1138.3,1489.0 1138.5,1490.0 1138.8,1491.0 1139.1,1492.0 1139.5,1493.0 1139.8,1494.0 1140.3,1495.0 1140.7,1496.0 1141.2,1497.0 1141.8,1498.0 1142.4,1499.0 1143.1,1500.0 1143.9,1501.0 1144.7,1502.0 1145.6,1503.0 1146.5,1504.0 1147.5,1505.0 1148.6,1506.0 1149.8,1507.0 1151.0,1508.0 1152.4,1509.0 1153.8,1510.0 1155.2,1511.0 1156.8,1512.0 1158.4,1513.0 1160.1,1514.0 1161.9,1515.0 1163.7,1516.0 1165.6,1517.0 1167.5,1518.0 1169.5,1519.0 1171.6,1520.0 1173.6,1521.0 1175.6,1522.0 1177.6,1523.0 1179.6,1524.0 1181.4,1525.0 1183.1,1526.0 1184.7,1527.0 1186.0,1528.0 1187.2,1529.0 1188.0,1530.0 1188.6,1531.0 1188.8,1532.0 1188.7,1533.0 1188.3,1534.0 1187.4,1535.0 1186.2,1536.0 1184.7,1537.0 1182.8,1538.0 1180.6,1539.0 1178.2,1540.0 1175.5,1541.0 1172.6,1542.0 1169.5,1543.0 1166.4,1544.0 1163.2,1545.0 1160.0,1546.0 1156.8,1547.0 1153.7,1548.0 1150.7,1549.0 1147.9,1550.0 1145.3,1551.0 1142.8,1552.0 1140.5,1553.0 1138.5,1554.0 1136.6,1555.0 1134.9,1556.0 1133.5,1557.0 1132.2,1558.0 1131.1,1559.0 1130.2,1560.0 1129.4,1561.0 1128.7,1562.0 1128.1,1563.0 1127.6,1564.0 1127.3,1565.0 1127.0,1566.0 1126.7,1567.0 1126.5,1568.0 1126.3,1569.0 1126.2,1570.0 1126.1,1571.0 1126.1,1572.0 1126.0,1573.0 1126.0,1574.0 1125.9,1575.0 1125.9,1576.0 1125.9,1577.0 1125.9,1578.0 1125.8,1579.0 1125.8,1580.0 1125.8,1581.0 1125.8,1582.0 1125.8,1583.0" fill="none" stroke="#7ee69c" stroke-width="2.2" stroke-linejoin="round"/></g><g fill="#282828" stroke="#282828" stroke-width="0.6"><text transform="translate(716.7 1574.3) scale(1 1.05)" text-anchor="end" font-size="28">0</text><text transform="translate(716.7 1498.8) scale(1 1.05)" text-anchor="end" font-size="28">50</text><text transform="translate(716.7 1423.3) scale(1 1.05)" text-anchor="end" font-size="28">100</text><text transform="translate(716.7 1347.8) scale(1 1.05)" text-anchor="end" font-size="28">150</text><text transform="translate(716.7 1272.3) scale(1 1.05)" text-anchor="end" font-size="28">200</text><text transform="translate(727.3 1618.5) scale(1 1.05)" text-anchor="middle" font-size="28">0</text><text transform="translate(843.4 1618.5) scale(1 1.05)" text-anchor="middle" font-size="28">25</text><text transform="translate(959.4 1618.5) scale(1 1.05)" text-anchor="middle" font-size="28">50</text><text transform="translate(1075.9 1618.5) scale(1 1.05)" text-anchor="middle" font-size="28">75</text><text x="919.1" y="1649" text-anchor="middle" font-size="30.1">Deviator Stress</text><text transform="translate(660.5 1397.7) rotate(-90)" text-anchor="middle" font-size="30.1">Resilient Modulus</text></g></g></svg></body></html>
